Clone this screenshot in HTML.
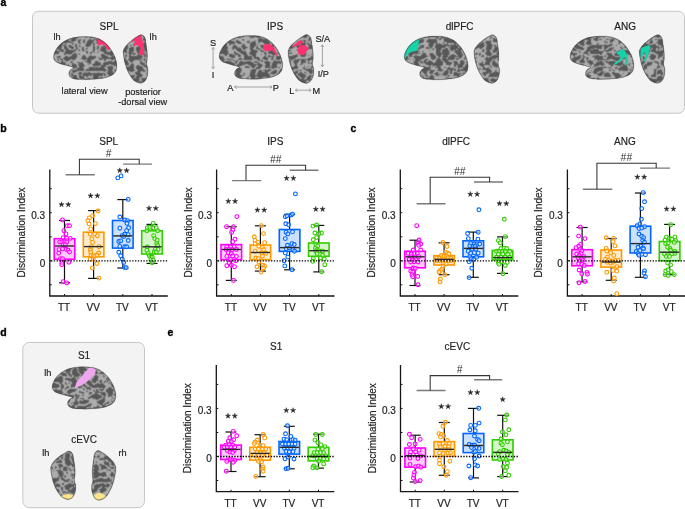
<!DOCTYPE html>
<html><head><meta charset="utf-8"><style>
html,body{margin:0;padding:0;background:#fff;width:685px;height:509px;overflow:hidden;}
svg{display:block;font-family:"Liberation Sans", sans-serif;will-change:transform;}
</style></head><body>
<svg width="685" height="509" viewBox="0 0 685 509">
<defs>
<filter id="tex1" x="0" y="0" width="1" height="1" filterUnits="objectBoundingBox" primitiveUnits="userSpaceOnUse" color-interpolation-filters="sRGB">
<feTurbulence type="turbulence" baseFrequency="0.14 0.18" numOctaves="2" seed="10" result="n"/>
<feColorMatrix in="n" type="matrix" values="1 0 0 0 0 1 0 0 0 0 1 0 0 0 0 0 0 0 0 1" result="g"/>
<feComponentTransfer in="g" result="t"><feFuncR type="discrete" tableValues="0.675 0.675 0.675 0.675 0.675 0.345 0.345 0.345 0.345 0.345 0.345 0.345 0.345 0.345 0.345 0.345 0.345 0.345 0.345 0.345 0.345 0.345"/><feFuncG type="discrete" tableValues="0.675 0.675 0.675 0.675 0.675 0.345 0.345 0.345 0.345 0.345 0.345 0.345 0.345 0.345 0.345 0.345 0.345 0.345 0.345 0.345 0.345 0.345"/><feFuncB type="discrete" tableValues="0.675 0.675 0.675 0.675 0.675 0.345 0.345 0.345 0.345 0.345 0.345 0.345 0.345 0.345 0.345 0.345 0.345 0.345 0.345 0.345 0.345 0.345"/></feComponentTransfer>
<feConvolveMatrix in="t" order="3" kernelMatrix="1 2 1 2 8 2 1 2 1" edgeMode="duplicate"/>
</filter>
<filter id="tex2" x="0" y="0" width="1" height="1" filterUnits="objectBoundingBox" primitiveUnits="userSpaceOnUse" color-interpolation-filters="sRGB">
<feTurbulence type="turbulence" baseFrequency="0.14 0.18" numOctaves="2" seed="17" result="n"/>
<feColorMatrix in="n" type="matrix" values="1 0 0 0 0 1 0 0 0 0 1 0 0 0 0 0 0 0 0 1" result="g"/>
<feComponentTransfer in="g" result="t"><feFuncR type="discrete" tableValues="0.675 0.675 0.675 0.675 0.675 0.345 0.345 0.345 0.345 0.345 0.345 0.345 0.345 0.345 0.345 0.345 0.345 0.345 0.345 0.345 0.345 0.345"/><feFuncG type="discrete" tableValues="0.675 0.675 0.675 0.675 0.675 0.345 0.345 0.345 0.345 0.345 0.345 0.345 0.345 0.345 0.345 0.345 0.345 0.345 0.345 0.345 0.345 0.345"/><feFuncB type="discrete" tableValues="0.675 0.675 0.675 0.675 0.675 0.345 0.345 0.345 0.345 0.345 0.345 0.345 0.345 0.345 0.345 0.345 0.345 0.345 0.345 0.345 0.345 0.345"/></feComponentTransfer>
<feConvolveMatrix in="t" order="3" kernelMatrix="1 2 1 2 8 2 1 2 1" edgeMode="duplicate"/>
</filter>
<filter id="tex3" x="0" y="0" width="1" height="1" filterUnits="objectBoundingBox" primitiveUnits="userSpaceOnUse" color-interpolation-filters="sRGB">
<feTurbulence type="turbulence" baseFrequency="0.14 0.18" numOctaves="2" seed="24" result="n"/>
<feColorMatrix in="n" type="matrix" values="1 0 0 0 0 1 0 0 0 0 1 0 0 0 0 0 0 0 0 1" result="g"/>
<feComponentTransfer in="g" result="t"><feFuncR type="discrete" tableValues="0.675 0.675 0.675 0.675 0.675 0.345 0.345 0.345 0.345 0.345 0.345 0.345 0.345 0.345 0.345 0.345 0.345 0.345 0.345 0.345 0.345 0.345"/><feFuncG type="discrete" tableValues="0.675 0.675 0.675 0.675 0.675 0.345 0.345 0.345 0.345 0.345 0.345 0.345 0.345 0.345 0.345 0.345 0.345 0.345 0.345 0.345 0.345 0.345"/><feFuncB type="discrete" tableValues="0.675 0.675 0.675 0.675 0.675 0.345 0.345 0.345 0.345 0.345 0.345 0.345 0.345 0.345 0.345 0.345 0.345 0.345 0.345 0.345 0.345 0.345"/></feComponentTransfer>
<feConvolveMatrix in="t" order="3" kernelMatrix="1 2 1 2 8 2 1 2 1" edgeMode="duplicate"/>
</filter>
<filter id="tex4" x="0" y="0" width="1" height="1" filterUnits="objectBoundingBox" primitiveUnits="userSpaceOnUse" color-interpolation-filters="sRGB">
<feTurbulence type="turbulence" baseFrequency="0.14 0.18" numOctaves="2" seed="31" result="n"/>
<feColorMatrix in="n" type="matrix" values="1 0 0 0 0 1 0 0 0 0 1 0 0 0 0 0 0 0 0 1" result="g"/>
<feComponentTransfer in="g" result="t"><feFuncR type="discrete" tableValues="0.675 0.675 0.675 0.675 0.675 0.345 0.345 0.345 0.345 0.345 0.345 0.345 0.345 0.345 0.345 0.345 0.345 0.345 0.345 0.345 0.345 0.345"/><feFuncG type="discrete" tableValues="0.675 0.675 0.675 0.675 0.675 0.345 0.345 0.345 0.345 0.345 0.345 0.345 0.345 0.345 0.345 0.345 0.345 0.345 0.345 0.345 0.345 0.345"/><feFuncB type="discrete" tableValues="0.675 0.675 0.675 0.675 0.675 0.345 0.345 0.345 0.345 0.345 0.345 0.345 0.345 0.345 0.345 0.345 0.345 0.345 0.345 0.345 0.345 0.345"/></feComponentTransfer>
<feConvolveMatrix in="t" order="3" kernelMatrix="1 2 1 2 8 2 1 2 1" edgeMode="duplicate"/>
</filter>
<filter id="tex5" x="0" y="0" width="1" height="1" filterUnits="objectBoundingBox" primitiveUnits="userSpaceOnUse" color-interpolation-filters="sRGB">
<feTurbulence type="turbulence" baseFrequency="0.14 0.18" numOctaves="2" seed="38" result="n"/>
<feColorMatrix in="n" type="matrix" values="1 0 0 0 0 1 0 0 0 0 1 0 0 0 0 0 0 0 0 1" result="g"/>
<feComponentTransfer in="g" result="t"><feFuncR type="discrete" tableValues="0.675 0.675 0.675 0.675 0.675 0.345 0.345 0.345 0.345 0.345 0.345 0.345 0.345 0.345 0.345 0.345 0.345 0.345 0.345 0.345 0.345 0.345"/><feFuncG type="discrete" tableValues="0.675 0.675 0.675 0.675 0.675 0.345 0.345 0.345 0.345 0.345 0.345 0.345 0.345 0.345 0.345 0.345 0.345 0.345 0.345 0.345 0.345 0.345"/><feFuncB type="discrete" tableValues="0.675 0.675 0.675 0.675 0.675 0.345 0.345 0.345 0.345 0.345 0.345 0.345 0.345 0.345 0.345 0.345 0.345 0.345 0.345 0.345 0.345 0.345"/></feComponentTransfer>
<feConvolveMatrix in="t" order="3" kernelMatrix="1 2 1 2 8 2 1 2 1" edgeMode="duplicate"/>
</filter>
<filter id="tex6" x="0" y="0" width="1" height="1" filterUnits="objectBoundingBox" primitiveUnits="userSpaceOnUse" color-interpolation-filters="sRGB">
<feTurbulence type="turbulence" baseFrequency="0.14 0.18" numOctaves="2" seed="45" result="n"/>
<feColorMatrix in="n" type="matrix" values="1 0 0 0 0 1 0 0 0 0 1 0 0 0 0 0 0 0 0 1" result="g"/>
<feComponentTransfer in="g" result="t"><feFuncR type="discrete" tableValues="0.675 0.675 0.675 0.675 0.675 0.345 0.345 0.345 0.345 0.345 0.345 0.345 0.345 0.345 0.345 0.345 0.345 0.345 0.345 0.345 0.345 0.345"/><feFuncG type="discrete" tableValues="0.675 0.675 0.675 0.675 0.675 0.345 0.345 0.345 0.345 0.345 0.345 0.345 0.345 0.345 0.345 0.345 0.345 0.345 0.345 0.345 0.345 0.345"/><feFuncB type="discrete" tableValues="0.675 0.675 0.675 0.675 0.675 0.345 0.345 0.345 0.345 0.345 0.345 0.345 0.345 0.345 0.345 0.345 0.345 0.345 0.345 0.345 0.345 0.345"/></feComponentTransfer>
<feConvolveMatrix in="t" order="3" kernelMatrix="1 2 1 2 8 2 1 2 1" edgeMode="duplicate"/>
</filter>
<filter id="tex7" x="0" y="0" width="1" height="1" filterUnits="objectBoundingBox" primitiveUnits="userSpaceOnUse" color-interpolation-filters="sRGB">
<feTurbulence type="turbulence" baseFrequency="0.14 0.18" numOctaves="2" seed="52" result="n"/>
<feColorMatrix in="n" type="matrix" values="1 0 0 0 0 1 0 0 0 0 1 0 0 0 0 0 0 0 0 1" result="g"/>
<feComponentTransfer in="g" result="t"><feFuncR type="discrete" tableValues="0.675 0.675 0.675 0.675 0.675 0.345 0.345 0.345 0.345 0.345 0.345 0.345 0.345 0.345 0.345 0.345 0.345 0.345 0.345 0.345 0.345 0.345"/><feFuncG type="discrete" tableValues="0.675 0.675 0.675 0.675 0.675 0.345 0.345 0.345 0.345 0.345 0.345 0.345 0.345 0.345 0.345 0.345 0.345 0.345 0.345 0.345 0.345 0.345"/><feFuncB type="discrete" tableValues="0.675 0.675 0.675 0.675 0.675 0.345 0.345 0.345 0.345 0.345 0.345 0.345 0.345 0.345 0.345 0.345 0.345 0.345 0.345 0.345 0.345 0.345"/></feComponentTransfer>
<feConvolveMatrix in="t" order="3" kernelMatrix="1 2 1 2 8 2 1 2 1" edgeMode="duplicate"/>
</filter>
<filter id="tex8" x="0" y="0" width="1" height="1" filterUnits="objectBoundingBox" primitiveUnits="userSpaceOnUse" color-interpolation-filters="sRGB">
<feTurbulence type="turbulence" baseFrequency="0.14 0.18" numOctaves="2" seed="59" result="n"/>
<feColorMatrix in="n" type="matrix" values="1 0 0 0 0 1 0 0 0 0 1 0 0 0 0 0 0 0 0 1" result="g"/>
<feComponentTransfer in="g" result="t"><feFuncR type="discrete" tableValues="0.675 0.675 0.675 0.675 0.675 0.345 0.345 0.345 0.345 0.345 0.345 0.345 0.345 0.345 0.345 0.345 0.345 0.345 0.345 0.345 0.345 0.345"/><feFuncG type="discrete" tableValues="0.675 0.675 0.675 0.675 0.675 0.345 0.345 0.345 0.345 0.345 0.345 0.345 0.345 0.345 0.345 0.345 0.345 0.345 0.345 0.345 0.345 0.345"/><feFuncB type="discrete" tableValues="0.675 0.675 0.675 0.675 0.675 0.345 0.345 0.345 0.345 0.345 0.345 0.345 0.345 0.345 0.345 0.345 0.345 0.345 0.345 0.345 0.345 0.345"/></feComponentTransfer>
<feConvolveMatrix in="t" order="3" kernelMatrix="1 2 1 2 8 2 1 2 1" edgeMode="duplicate"/>
</filter>
</defs>
<text x="0.5" y="6.4" font-size="10.5" text-anchor="start" font-weight="bold" fill="#000" stroke="#000" stroke-width="0.35">a</text>
<text x="0.2" y="131.9" font-size="10.5" text-anchor="start" font-weight="bold" fill="#000" stroke="#000" stroke-width="0.35">b</text>
<text x="350.5" y="131.9" font-size="10.5" text-anchor="start" font-weight="bold" fill="#000" stroke="#000" stroke-width="0.35">c</text>
<text x="0.2" y="336.3" font-size="10.5" text-anchor="start" font-weight="bold" fill="#000" stroke="#000" stroke-width="0.35">d</text>
<text x="167.5" y="336.3" font-size="10.5" text-anchor="start" font-weight="bold" fill="#000" stroke="#000" stroke-width="0.35">e</text>
<rect x="32.5" y="11.3" width="652" height="101.9" rx="6" fill="#f3f3f3" stroke="#c6c6c6" stroke-width="1"/>
<text x="109.0" y="29.7" font-size="10" text-anchor="middle" font-weight="normal" fill="#222" stroke="#222" stroke-width="0.18">SPL</text>
<text x="275.0" y="29.7" font-size="10" text-anchor="middle" font-weight="normal" fill="#222" stroke="#222" stroke-width="0.18">IPS</text>
<text x="459.7" y="29.7" font-size="10" text-anchor="middle" font-weight="normal" fill="#222" stroke="#222" stroke-width="0.18">dlPFC</text>
<text x="625.2" y="29.7" font-size="10" text-anchor="middle" font-weight="normal" fill="#222" stroke="#222" stroke-width="0.18">ANG</text>
<text x="57.0" y="40.1" font-size="9.2" text-anchor="middle" font-weight="normal" fill="#222" stroke="#222" stroke-width="0.18">lh</text>
<text x="153.2" y="40.1" font-size="9.2" text-anchor="middle" font-weight="normal" fill="#222" stroke="#222" stroke-width="0.18">lh</text>
<text x="84.6" y="94.0" font-size="9.2" text-anchor="middle" font-weight="normal" fill="#222" stroke="#222" stroke-width="0.18">lateral view</text>
<text x="143.0" y="94.5" font-size="9.2" text-anchor="middle" font-weight="normal" fill="#222" stroke="#222" stroke-width="0.18">posterior</text>
<text x="142.7" y="104.5" font-size="9.2" text-anchor="middle" font-weight="normal" fill="#222" stroke="#222" stroke-width="0.18">-dorsal view</text>
<clipPath id="br1"><path d="M53.48 57.36 C53.40 55.85 53.74 54.00 54.63 52.06 C55.51 50.11 57.04 47.54 58.78 45.66 C60.51 43.78 62.60 42.10 65.04 40.76 C67.48 39.41 70.27 38.31 73.41 37.60 C76.55 36.89 80.58 36.59 83.89 36.51 C87.20 36.43 90.31 36.49 93.28 37.12 C96.26 37.75 99.10 38.68 101.72 40.27 C104.34 41.86 106.91 44.18 109.00 46.67 C111.10 49.16 113.01 52.36 114.31 55.21 C115.61 58.06 116.47 61.26 116.80 63.75 C117.13 66.24 116.91 68.37 116.29 70.15 C115.67 71.92 114.82 73.14 113.09 74.39 C111.37 75.65 109.06 76.86 105.94 77.68 C102.82 78.50 98.23 78.98 94.37 79.30 C90.52 79.62 86.30 79.71 82.81 79.61 C79.31 79.50 75.65 79.28 73.41 78.69 C71.18 78.09 70.12 77.12 69.39 76.06 C68.65 74.99 68.73 73.42 69.00 72.29 C69.28 71.16 70.30 70.01 71.05 69.27 C71.79 68.52 74.13 68.39 73.48 67.82 C72.83 67.25 69.43 66.53 67.15 65.85 C64.87 65.17 61.81 64.55 59.80 63.75 C57.79 62.95 56.13 62.14 55.07 61.08 C54.02 60.01 53.55 58.86 53.48 57.36Z"/></clipPath>
<g clip-path="url(#br1)">
<rect x="50.9" y="34.2" width="67.9" height="47.8" filter="url(#tex1)"/>
<path d="M97.3 36 L97.7 42.1 L98 45.8 L99.5 45.2 L102.1 44.3 L104.6 45.2 L106.2 48 L107.7 49.9 L109.5 49.5 L113 46 L106 35 Z" fill="#fd3371"/>
<path d="M53.48 57.36 C53.40 55.85 53.74 54.00 54.63 52.06 C55.51 50.11 57.04 47.54 58.78 45.66 C60.51 43.78 62.60 42.10 65.04 40.76 C67.48 39.41 70.27 38.31 73.41 37.60 C76.55 36.89 80.58 36.59 83.89 36.51 C87.20 36.43 90.31 36.49 93.28 37.12 C96.26 37.75 99.10 38.68 101.72 40.27 C104.34 41.86 106.91 44.18 109.00 46.67 C111.10 49.16 113.01 52.36 114.31 55.21 C115.61 58.06 116.47 61.26 116.80 63.75 C117.13 66.24 116.91 68.37 116.29 70.15 C115.67 71.92 114.82 73.14 113.09 74.39 C111.37 75.65 109.06 76.86 105.94 77.68 C102.82 78.50 98.23 78.98 94.37 79.30 C90.52 79.62 86.30 79.71 82.81 79.61 C79.31 79.50 75.65 79.28 73.41 78.69 C71.18 78.09 70.12 77.12 69.39 76.06 C68.65 74.99 68.73 73.42 69.00 72.29 C69.28 71.16 70.30 70.01 71.05 69.27 C71.79 68.52 74.13 68.39 73.48 67.82 C72.83 67.25 69.43 66.53 67.15 65.85 C64.87 65.17 61.81 64.55 59.80 63.75 C57.79 62.95 56.13 62.14 55.07 61.08 C54.02 60.01 53.55 58.86 53.48 57.36Z" fill="none" stroke="#444" stroke-width="1.6" stroke-opacity="0.55"/>
</g>
<path d="M53.48 57.36 C53.40 55.85 53.74 54.00 54.63 52.06 C55.51 50.11 57.04 47.54 58.78 45.66 C60.51 43.78 62.60 42.10 65.04 40.76 C67.48 39.41 70.27 38.31 73.41 37.60 C76.55 36.89 80.58 36.59 83.89 36.51 C87.20 36.43 90.31 36.49 93.28 37.12 C96.26 37.75 99.10 38.68 101.72 40.27 C104.34 41.86 106.91 44.18 109.00 46.67 C111.10 49.16 113.01 52.36 114.31 55.21 C115.61 58.06 116.47 61.26 116.80 63.75 C117.13 66.24 116.91 68.37 116.29 70.15 C115.67 71.92 114.82 73.14 113.09 74.39 C111.37 75.65 109.06 76.86 105.94 77.68 C102.82 78.50 98.23 78.98 94.37 79.30 C90.52 79.62 86.30 79.71 82.81 79.61 C79.31 79.50 75.65 79.28 73.41 78.69 C71.18 78.09 70.12 77.12 69.39 76.06 C68.65 74.99 68.73 73.42 69.00 72.29 C69.28 71.16 70.30 70.01 71.05 69.27 C71.79 68.52 74.13 68.39 73.48 67.82 C72.83 67.25 69.43 66.53 67.15 65.85 C64.87 65.17 61.81 64.55 59.80 63.75 C57.79 62.95 56.13 62.14 55.07 61.08 C54.02 60.01 53.55 58.86 53.48 57.36Z" fill="none" stroke="#666" stroke-width="0.5" stroke-opacity="0.5"/>
<clipPath id="br2"><path d="M141.69 34.80 C142.83 35.11 144.29 36.07 145.05 37.69 C145.80 39.31 145.86 42.05 146.24 44.52 C146.62 46.99 147.13 50.04 147.31 52.52 C147.49 55.00 147.41 57.50 147.31 59.40 C147.21 61.29 146.59 62.19 146.72 63.91 C146.85 65.63 148.00 67.61 148.10 69.71 C148.19 71.80 147.82 74.60 147.31 76.48 C146.80 78.36 146.08 79.86 145.05 81.00 C144.01 82.14 142.50 83.11 141.11 83.31 C139.72 83.50 138.00 82.74 136.69 82.18 C135.38 81.61 134.37 81.06 133.24 79.92 C132.10 78.77 131.00 77.21 129.88 75.30 C128.77 73.40 127.49 70.95 126.56 68.48 C125.62 66.01 124.83 63.09 124.27 60.48 C123.71 57.86 123.29 54.62 123.20 52.77 C123.12 50.91 123.16 50.68 123.76 49.33 C124.36 47.98 125.29 46.34 126.81 44.67 C128.33 42.99 131.00 40.74 132.91 39.26 C134.81 37.79 136.78 36.57 138.24 35.83 C139.70 35.08 140.56 34.49 141.69 34.80Z"/></clipPath>
<g clip-path="url(#br2)">
<rect x="121.0" y="32.6" width="29.4" height="53.1" filter="url(#tex2)"/>
<path d="M131.3 41.9 L134.5 38.2 L137.3 36 L139.5 34 L141 34 L142.6 41.3 L143.9 43.2 L143.3 45.1 L143.9 48.9 L144.2 53.3 L141.7 55.8 L139.5 53.9 L138.9 51.4 L140.8 48.9 L138.9 45.7 L135.7 45.1 L133.5 46.7 L132.9 44.2 L135.7 42.6 L134.8 40.7 L131.9 42.3 Z" fill="#fd3371"/>
<path d="M141.69 34.80 C142.83 35.11 144.29 36.07 145.05 37.69 C145.80 39.31 145.86 42.05 146.24 44.52 C146.62 46.99 147.13 50.04 147.31 52.52 C147.49 55.00 147.41 57.50 147.31 59.40 C147.21 61.29 146.59 62.19 146.72 63.91 C146.85 65.63 148.00 67.61 148.10 69.71 C148.19 71.80 147.82 74.60 147.31 76.48 C146.80 78.36 146.08 79.86 145.05 81.00 C144.01 82.14 142.50 83.11 141.11 83.31 C139.72 83.50 138.00 82.74 136.69 82.18 C135.38 81.61 134.37 81.06 133.24 79.92 C132.10 78.77 131.00 77.21 129.88 75.30 C128.77 73.40 127.49 70.95 126.56 68.48 C125.62 66.01 124.83 63.09 124.27 60.48 C123.71 57.86 123.29 54.62 123.20 52.77 C123.12 50.91 123.16 50.68 123.76 49.33 C124.36 47.98 125.29 46.34 126.81 44.67 C128.33 42.99 131.00 40.74 132.91 39.26 C134.81 37.79 136.78 36.57 138.24 35.83 C139.70 35.08 140.56 34.49 141.69 34.80Z" fill="none" stroke="#444" stroke-width="1.6" stroke-opacity="0.55"/>
</g>
<path d="M141.69 34.80 C142.83 35.11 144.29 36.07 145.05 37.69 C145.80 39.31 145.86 42.05 146.24 44.52 C146.62 46.99 147.13 50.04 147.31 52.52 C147.49 55.00 147.41 57.50 147.31 59.40 C147.21 61.29 146.59 62.19 146.72 63.91 C146.85 65.63 148.00 67.61 148.10 69.71 C148.19 71.80 147.82 74.60 147.31 76.48 C146.80 78.36 146.08 79.86 145.05 81.00 C144.01 82.14 142.50 83.11 141.11 83.31 C139.72 83.50 138.00 82.74 136.69 82.18 C135.38 81.61 134.37 81.06 133.24 79.92 C132.10 78.77 131.00 77.21 129.88 75.30 C128.77 73.40 127.49 70.95 126.56 68.48 C125.62 66.01 124.83 63.09 124.27 60.48 C123.71 57.86 123.29 54.62 123.20 52.77 C123.12 50.91 123.16 50.68 123.76 49.33 C124.36 47.98 125.29 46.34 126.81 44.67 C128.33 42.99 131.00 40.74 132.91 39.26 C134.81 37.79 136.78 36.57 138.24 35.83 C139.70 35.08 140.56 34.49 141.69 34.80Z" fill="none" stroke="#666" stroke-width="0.5" stroke-opacity="0.5"/>
<clipPath id="br3"><path d="M219.18 56.59 C219.10 55.07 219.44 53.19 220.33 51.21 C221.21 49.23 222.75 46.63 224.49 44.71 C226.23 42.80 228.32 41.09 230.76 39.73 C233.20 38.36 236.00 37.24 239.14 36.52 C242.29 35.80 246.32 35.49 249.64 35.41 C252.96 35.33 256.07 35.40 259.05 36.03 C262.02 36.67 264.87 37.62 267.50 39.24 C270.12 40.86 272.69 43.21 274.79 45.74 C276.89 48.26 278.80 51.52 280.10 54.41 C281.41 57.31 282.27 60.56 282.60 63.09 C282.93 65.62 282.71 67.79 282.09 69.59 C281.47 71.39 280.62 72.63 278.89 73.90 C277.16 75.18 274.85 76.41 271.72 77.24 C268.59 78.07 264.00 78.56 260.14 78.89 C256.27 79.21 252.05 79.30 248.55 79.20 C245.05 79.10 241.38 78.87 239.14 78.26 C236.90 77.66 235.85 76.68 235.11 75.59 C234.38 74.51 234.45 72.92 234.73 71.77 C235.01 70.62 236.03 69.45 236.78 68.70 C237.52 67.94 239.86 67.81 239.21 67.23 C238.56 66.65 235.15 65.92 232.87 65.23 C230.59 64.54 227.53 63.90 225.51 63.09 C223.50 62.28 221.83 61.46 220.78 60.38 C219.72 59.29 219.25 58.12 219.18 56.59Z"/></clipPath>
<g clip-path="url(#br3)">
<rect x="216.6" y="33.1" width="68.0" height="48.5" filter="url(#tex3)"/>
<path d="M262.9 47.1 L264.8 44.2 L269.5 43.7 L272.4 46.1 L274.3 48 L276.2 51.8 L277.8 56.5 L275.6 54.7 L273.3 50.9 L270.5 50.5 L266.7 51.3 L263.8 50.5 Z" fill="#fd3371"/>
<path d="M219.18 56.59 C219.10 55.07 219.44 53.19 220.33 51.21 C221.21 49.23 222.75 46.63 224.49 44.71 C226.23 42.80 228.32 41.09 230.76 39.73 C233.20 38.36 236.00 37.24 239.14 36.52 C242.29 35.80 246.32 35.49 249.64 35.41 C252.96 35.33 256.07 35.40 259.05 36.03 C262.02 36.67 264.87 37.62 267.50 39.24 C270.12 40.86 272.69 43.21 274.79 45.74 C276.89 48.26 278.80 51.52 280.10 54.41 C281.41 57.31 282.27 60.56 282.60 63.09 C282.93 65.62 282.71 67.79 282.09 69.59 C281.47 71.39 280.62 72.63 278.89 73.90 C277.16 75.18 274.85 76.41 271.72 77.24 C268.59 78.07 264.00 78.56 260.14 78.89 C256.27 79.21 252.05 79.30 248.55 79.20 C245.05 79.10 241.38 78.87 239.14 78.26 C236.90 77.66 235.85 76.68 235.11 75.59 C234.38 74.51 234.45 72.92 234.73 71.77 C235.01 70.62 236.03 69.45 236.78 68.70 C237.52 67.94 239.86 67.81 239.21 67.23 C238.56 66.65 235.15 65.92 232.87 65.23 C230.59 64.54 227.53 63.90 225.51 63.09 C223.50 62.28 221.83 61.46 220.78 60.38 C219.72 59.29 219.25 58.12 219.18 56.59Z" fill="none" stroke="#444" stroke-width="1.6" stroke-opacity="0.55"/>
</g>
<path d="M219.18 56.59 C219.10 55.07 219.44 53.19 220.33 51.21 C221.21 49.23 222.75 46.63 224.49 44.71 C226.23 42.80 228.32 41.09 230.76 39.73 C233.20 38.36 236.00 37.24 239.14 36.52 C242.29 35.80 246.32 35.49 249.64 35.41 C252.96 35.33 256.07 35.40 259.05 36.03 C262.02 36.67 264.87 37.62 267.50 39.24 C270.12 40.86 272.69 43.21 274.79 45.74 C276.89 48.26 278.80 51.52 280.10 54.41 C281.41 57.31 282.27 60.56 282.60 63.09 C282.93 65.62 282.71 67.79 282.09 69.59 C281.47 71.39 280.62 72.63 278.89 73.90 C277.16 75.18 274.85 76.41 271.72 77.24 C268.59 78.07 264.00 78.56 260.14 78.89 C256.27 79.21 252.05 79.30 248.55 79.20 C245.05 79.10 241.38 78.87 239.14 78.26 C236.90 77.66 235.85 76.68 235.11 75.59 C234.38 74.51 234.45 72.92 234.73 71.77 C235.01 70.62 236.03 69.45 236.78 68.70 C237.52 67.94 239.86 67.81 239.21 67.23 C238.56 66.65 235.15 65.92 232.87 65.23 C230.59 64.54 227.53 63.90 225.51 63.09 C223.50 62.28 221.83 61.46 220.78 60.38 C219.72 59.29 219.25 58.12 219.18 56.59Z" fill="none" stroke="#666" stroke-width="0.5" stroke-opacity="0.5"/>
<clipPath id="br4"><path d="M307.30 34.70 C308.49 35.01 310.01 35.98 310.80 37.61 C311.59 39.23 311.65 41.98 312.05 44.46 C312.44 46.94 312.98 50.00 313.16 52.49 C313.35 54.98 313.26 57.49 313.16 59.40 C313.06 61.30 312.41 62.21 312.55 63.93 C312.69 65.66 313.88 67.65 313.98 69.75 C314.08 71.85 313.69 74.66 313.16 76.55 C312.63 78.44 311.88 79.95 310.80 81.09 C309.72 82.23 308.15 83.21 306.69 83.41 C305.24 83.60 303.45 82.84 302.08 82.27 C300.71 81.70 299.66 81.15 298.48 80.00 C297.30 78.85 296.14 77.28 294.98 75.37 C293.82 73.46 292.49 71.00 291.51 68.52 C290.53 66.04 289.71 63.11 289.12 60.48 C288.54 57.85 288.10 54.61 288.01 52.74 C287.92 50.88 287.97 50.65 288.60 49.29 C289.22 47.93 290.19 46.29 291.78 44.61 C293.37 42.92 296.15 40.66 298.13 39.18 C300.12 37.70 302.17 36.48 303.70 35.73 C305.23 34.98 306.12 34.38 307.30 34.70Z"/></clipPath>
<g clip-path="url(#br4)">
<rect x="285.8" y="32.5" width="30.5" height="53.3" filter="url(#tex4)"/>
<path d="M291.6 46.5 L295.7 43.4 L299.8 40.2 L302 40.9 L303.6 42.7 L300.7 44 L298.5 45.6 L294.4 46.5 Z M298.2 47.5 L300.7 45 L305.1 45.3 L307.6 47.5 L308.6 49.7 L305.8 51.9 L304.5 55 L300.7 54.7 L298.2 54.4 L297.9 50.6 Z" fill="#fd3371"/>
<path d="M307.30 34.70 C308.49 35.01 310.01 35.98 310.80 37.61 C311.59 39.23 311.65 41.98 312.05 44.46 C312.44 46.94 312.98 50.00 313.16 52.49 C313.35 54.98 313.26 57.49 313.16 59.40 C313.06 61.30 312.41 62.21 312.55 63.93 C312.69 65.66 313.88 67.65 313.98 69.75 C314.08 71.85 313.69 74.66 313.16 76.55 C312.63 78.44 311.88 79.95 310.80 81.09 C309.72 82.23 308.15 83.21 306.69 83.41 C305.24 83.60 303.45 82.84 302.08 82.27 C300.71 81.70 299.66 81.15 298.48 80.00 C297.30 78.85 296.14 77.28 294.98 75.37 C293.82 73.46 292.49 71.00 291.51 68.52 C290.53 66.04 289.71 63.11 289.12 60.48 C288.54 57.85 288.10 54.61 288.01 52.74 C287.92 50.88 287.97 50.65 288.60 49.29 C289.22 47.93 290.19 46.29 291.78 44.61 C293.37 42.92 296.15 40.66 298.13 39.18 C300.12 37.70 302.17 36.48 303.70 35.73 C305.23 34.98 306.12 34.38 307.30 34.70Z" fill="none" stroke="#444" stroke-width="1.6" stroke-opacity="0.55"/>
</g>
<path d="M307.30 34.70 C308.49 35.01 310.01 35.98 310.80 37.61 C311.59 39.23 311.65 41.98 312.05 44.46 C312.44 46.94 312.98 50.00 313.16 52.49 C313.35 54.98 313.26 57.49 313.16 59.40 C313.06 61.30 312.41 62.21 312.55 63.93 C312.69 65.66 313.88 67.65 313.98 69.75 C314.08 71.85 313.69 74.66 313.16 76.55 C312.63 78.44 311.88 79.95 310.80 81.09 C309.72 82.23 308.15 83.21 306.69 83.41 C305.24 83.60 303.45 82.84 302.08 82.27 C300.71 81.70 299.66 81.15 298.48 80.00 C297.30 78.85 296.14 77.28 294.98 75.37 C293.82 73.46 292.49 71.00 291.51 68.52 C290.53 66.04 289.71 63.11 289.12 60.48 C288.54 57.85 288.10 54.61 288.01 52.74 C287.92 50.88 287.97 50.65 288.60 49.29 C289.22 47.93 290.19 46.29 291.78 44.61 C293.37 42.92 296.15 40.66 298.13 39.18 C300.12 37.70 302.17 36.48 303.70 35.73 C305.23 34.98 306.12 34.38 307.30 34.70Z" fill="none" stroke="#666" stroke-width="0.5" stroke-opacity="0.5"/>
<clipPath id="br5"><path d="M404.28 57.19 C404.20 55.67 404.55 53.79 405.44 51.81 C406.33 49.83 407.87 47.23 409.62 45.31 C411.36 43.40 413.46 41.69 415.92 40.33 C418.37 38.96 421.18 37.84 424.34 37.12 C427.50 36.40 431.55 36.09 434.89 36.01 C438.22 35.93 441.35 36.00 444.34 36.63 C447.33 37.27 450.19 38.22 452.83 39.84 C455.46 41.46 458.04 43.81 460.16 46.34 C462.27 48.86 464.18 52.12 465.49 55.01 C466.80 57.91 467.67 61.16 468.00 63.69 C468.33 66.22 468.11 68.39 467.49 70.19 C466.86 71.99 466.01 73.23 464.27 74.50 C462.53 75.78 460.21 77.01 457.07 77.84 C453.93 78.67 449.31 79.16 445.43 79.49 C441.55 79.81 437.31 79.90 433.79 79.80 C430.28 79.70 426.59 79.47 424.34 78.87 C422.09 78.26 421.03 77.28 420.29 76.20 C419.55 75.11 419.62 73.52 419.90 72.37 C420.18 71.22 421.21 70.05 421.96 69.30 C422.71 68.54 425.06 68.41 424.40 67.83 C423.75 67.25 420.33 66.52 418.04 65.83 C415.75 65.14 412.67 64.50 410.64 63.69 C408.62 62.88 406.95 62.06 405.89 60.98 C404.83 59.89 404.35 58.72 404.28 57.19Z"/></clipPath>
<g clip-path="url(#br5)">
<rect x="401.7" y="33.7" width="68.3" height="48.5" filter="url(#tex5)"/>
<path d="M419.5 34 L418.9 40.9 L418.6 44.7 L417.9 49.7 L416 51 L412.6 51.6 L409.4 52.9 L407.5 54.8 L405.7 57.3 L404.7 60.4 L400 61 L400 34 Z" fill="#17d2a9"/>
<path d="M404.28 57.19 C404.20 55.67 404.55 53.79 405.44 51.81 C406.33 49.83 407.87 47.23 409.62 45.31 C411.36 43.40 413.46 41.69 415.92 40.33 C418.37 38.96 421.18 37.84 424.34 37.12 C427.50 36.40 431.55 36.09 434.89 36.01 C438.22 35.93 441.35 36.00 444.34 36.63 C447.33 37.27 450.19 38.22 452.83 39.84 C455.46 41.46 458.04 43.81 460.16 46.34 C462.27 48.86 464.18 52.12 465.49 55.01 C466.80 57.91 467.67 61.16 468.00 63.69 C468.33 66.22 468.11 68.39 467.49 70.19 C466.86 71.99 466.01 73.23 464.27 74.50 C462.53 75.78 460.21 77.01 457.07 77.84 C453.93 78.67 449.31 79.16 445.43 79.49 C441.55 79.81 437.31 79.90 433.79 79.80 C430.28 79.70 426.59 79.47 424.34 78.87 C422.09 78.26 421.03 77.28 420.29 76.20 C419.55 75.11 419.62 73.52 419.90 72.37 C420.18 71.22 421.21 70.05 421.96 69.30 C422.71 68.54 425.06 68.41 424.40 67.83 C423.75 67.25 420.33 66.52 418.04 65.83 C415.75 65.14 412.67 64.50 410.64 63.69 C408.62 62.88 406.95 62.06 405.89 60.98 C404.83 59.89 404.35 58.72 404.28 57.19Z" fill="none" stroke="#444" stroke-width="1.6" stroke-opacity="0.55"/>
</g>
<path d="M404.28 57.19 C404.20 55.67 404.55 53.79 405.44 51.81 C406.33 49.83 407.87 47.23 409.62 45.31 C411.36 43.40 413.46 41.69 415.92 40.33 C418.37 38.96 421.18 37.84 424.34 37.12 C427.50 36.40 431.55 36.09 434.89 36.01 C438.22 35.93 441.35 36.00 444.34 36.63 C447.33 37.27 450.19 38.22 452.83 39.84 C455.46 41.46 458.04 43.81 460.16 46.34 C462.27 48.86 464.18 52.12 465.49 55.01 C466.80 57.91 467.67 61.16 468.00 63.69 C468.33 66.22 468.11 68.39 467.49 70.19 C466.86 71.99 466.01 73.23 464.27 74.50 C462.53 75.78 460.21 77.01 457.07 77.84 C453.93 78.67 449.31 79.16 445.43 79.49 C441.55 79.81 437.31 79.90 433.79 79.80 C430.28 79.70 426.59 79.47 424.34 78.87 C422.09 78.26 421.03 77.28 420.29 76.20 C419.55 75.11 419.62 73.52 419.90 72.37 C420.18 71.22 421.21 70.05 421.96 69.30 C422.71 68.54 425.06 68.41 424.40 67.83 C423.75 67.25 420.33 66.52 418.04 65.83 C415.75 65.14 412.67 64.50 410.64 63.69 C408.62 62.88 406.95 62.06 405.89 60.98 C404.83 59.89 404.35 58.72 404.28 57.19Z" fill="none" stroke="#666" stroke-width="0.5" stroke-opacity="0.5"/>
<clipPath id="br6"><path d="M493.06 34.80 C494.23 35.11 495.74 36.07 496.53 37.69 C497.31 39.31 497.37 42.05 497.76 44.52 C498.15 46.99 498.69 50.04 498.87 52.52 C499.05 55.00 498.97 57.50 498.87 59.40 C498.77 61.29 498.13 62.19 498.26 63.91 C498.40 65.63 499.58 67.61 499.68 69.71 C499.79 71.80 499.40 74.60 498.87 76.48 C498.34 78.36 497.60 79.86 496.53 81.00 C495.46 82.14 493.89 83.11 492.45 83.31 C491.01 83.50 489.23 82.74 487.88 82.18 C486.52 81.61 485.47 81.06 484.30 79.92 C483.12 78.77 481.98 77.21 480.83 75.30 C479.67 73.40 478.35 70.95 477.38 68.48 C476.41 66.01 475.59 63.09 475.01 60.48 C474.44 57.86 474.00 54.62 473.91 52.77 C473.82 50.91 473.87 50.68 474.49 49.33 C475.11 47.98 476.07 46.34 477.64 44.67 C479.22 42.99 481.98 40.74 483.96 39.26 C485.93 37.79 487.96 36.57 489.48 35.83 C491.00 35.08 491.88 34.49 493.06 34.80Z"/></clipPath>
<g clip-path="url(#br6)">
<rect x="471.7" y="32.6" width="30.3" height="53.1" filter="url(#tex6)"/>
<path d="M493.06 34.80 C494.23 35.11 495.74 36.07 496.53 37.69 C497.31 39.31 497.37 42.05 497.76 44.52 C498.15 46.99 498.69 50.04 498.87 52.52 C499.05 55.00 498.97 57.50 498.87 59.40 C498.77 61.29 498.13 62.19 498.26 63.91 C498.40 65.63 499.58 67.61 499.68 69.71 C499.79 71.80 499.40 74.60 498.87 76.48 C498.34 78.36 497.60 79.86 496.53 81.00 C495.46 82.14 493.89 83.11 492.45 83.31 C491.01 83.50 489.23 82.74 487.88 82.18 C486.52 81.61 485.47 81.06 484.30 79.92 C483.12 78.77 481.98 77.21 480.83 75.30 C479.67 73.40 478.35 70.95 477.38 68.48 C476.41 66.01 475.59 63.09 475.01 60.48 C474.44 57.86 474.00 54.62 473.91 52.77 C473.82 50.91 473.87 50.68 474.49 49.33 C475.11 47.98 476.07 46.34 477.64 44.67 C479.22 42.99 481.98 40.74 483.96 39.26 C485.93 37.79 487.96 36.57 489.48 35.83 C491.00 35.08 491.88 34.49 493.06 34.80Z" fill="none" stroke="#444" stroke-width="1.6" stroke-opacity="0.55"/>
</g>
<path d="M493.06 34.80 C494.23 35.11 495.74 36.07 496.53 37.69 C497.31 39.31 497.37 42.05 497.76 44.52 C498.15 46.99 498.69 50.04 498.87 52.52 C499.05 55.00 498.97 57.50 498.87 59.40 C498.77 61.29 498.13 62.19 498.26 63.91 C498.40 65.63 499.58 67.61 499.68 69.71 C499.79 71.80 499.40 74.60 498.87 76.48 C498.34 78.36 497.60 79.86 496.53 81.00 C495.46 82.14 493.89 83.11 492.45 83.31 C491.01 83.50 489.23 82.74 487.88 82.18 C486.52 81.61 485.47 81.06 484.30 79.92 C483.12 78.77 481.98 77.21 480.83 75.30 C479.67 73.40 478.35 70.95 477.38 68.48 C476.41 66.01 475.59 63.09 475.01 60.48 C474.44 57.86 474.00 54.62 473.91 52.77 C473.82 50.91 473.87 50.68 474.49 49.33 C475.11 47.98 476.07 46.34 477.64 44.67 C479.22 42.99 481.98 40.74 483.96 39.26 C485.93 37.79 487.96 36.57 489.48 35.83 C491.00 35.08 491.88 34.49 493.06 34.80Z" fill="none" stroke="#666" stroke-width="0.5" stroke-opacity="0.5"/>
<clipPath id="br7"><path d="M569.98 57.00 C569.90 55.49 570.25 53.63 571.14 51.66 C572.03 49.70 573.58 47.12 575.32 45.23 C577.07 43.33 579.18 41.64 581.64 40.29 C584.09 38.93 586.91 37.82 590.07 37.11 C593.24 36.40 597.30 36.09 600.63 36.01 C603.97 35.93 607.11 35.99 610.10 36.63 C613.10 37.26 615.96 38.20 618.60 39.80 C621.24 41.40 623.83 43.73 625.94 46.24 C628.06 48.75 629.98 51.97 631.29 54.84 C632.60 57.71 633.47 60.93 633.80 63.44 C634.13 65.95 633.91 68.09 633.28 69.88 C632.66 71.66 631.80 72.89 630.06 74.16 C628.33 75.42 626.00 76.64 622.85 77.46 C619.71 78.29 615.08 78.77 611.20 79.09 C607.31 79.42 603.06 79.51 599.54 79.40 C596.02 79.30 592.33 79.07 590.07 78.48 C587.82 77.88 586.76 76.90 586.02 75.83 C585.27 74.76 585.35 73.18 585.63 72.04 C585.91 70.90 586.94 69.75 587.69 69.00 C588.44 68.25 590.79 68.11 590.14 67.54 C589.48 66.97 586.06 66.24 583.76 65.56 C581.46 64.87 578.38 64.24 576.36 63.44 C574.33 62.64 572.65 61.82 571.59 60.75 C570.53 59.68 570.05 58.51 569.98 57.00Z"/></clipPath>
<g clip-path="url(#br7)">
<rect x="567.4" y="33.7" width="68.4" height="48.1" filter="url(#tex7)"/>
<path d="M616.2 52.5 L618.7 51.2 L620.9 50 L622.5 49.2 L624.2 50 L626.4 53.4 L627.7 56.7 L628.3 60.5 L627.7 63.3 L625 65.7 L624.4 64.6 L626.4 61.6 L625.8 58.9 L624.7 57.2 L623.1 58.3 L620.9 61.1 L617.6 63.3 L613.7 65.2 L612.9 64.4 L615.9 62.2 L618.7 60 L620.6 57.2 L619.8 55.6 L617.6 54.2 Z" fill="#17d2a9"/>
<path d="M569.98 57.00 C569.90 55.49 570.25 53.63 571.14 51.66 C572.03 49.70 573.58 47.12 575.32 45.23 C577.07 43.33 579.18 41.64 581.64 40.29 C584.09 38.93 586.91 37.82 590.07 37.11 C593.24 36.40 597.30 36.09 600.63 36.01 C603.97 35.93 607.11 35.99 610.10 36.63 C613.10 37.26 615.96 38.20 618.60 39.80 C621.24 41.40 623.83 43.73 625.94 46.24 C628.06 48.75 629.98 51.97 631.29 54.84 C632.60 57.71 633.47 60.93 633.80 63.44 C634.13 65.95 633.91 68.09 633.28 69.88 C632.66 71.66 631.80 72.89 630.06 74.16 C628.33 75.42 626.00 76.64 622.85 77.46 C619.71 78.29 615.08 78.77 611.20 79.09 C607.31 79.42 603.06 79.51 599.54 79.40 C596.02 79.30 592.33 79.07 590.07 78.48 C587.82 77.88 586.76 76.90 586.02 75.83 C585.27 74.76 585.35 73.18 585.63 72.04 C585.91 70.90 586.94 69.75 587.69 69.00 C588.44 68.25 590.79 68.11 590.14 67.54 C589.48 66.97 586.06 66.24 583.76 65.56 C581.46 64.87 578.38 64.24 576.36 63.44 C574.33 62.64 572.65 61.82 571.59 60.75 C570.53 59.68 570.05 58.51 569.98 57.00Z" fill="none" stroke="#444" stroke-width="1.6" stroke-opacity="0.55"/>
</g>
<path d="M569.98 57.00 C569.90 55.49 570.25 53.63 571.14 51.66 C572.03 49.70 573.58 47.12 575.32 45.23 C577.07 43.33 579.18 41.64 581.64 40.29 C584.09 38.93 586.91 37.82 590.07 37.11 C593.24 36.40 597.30 36.09 600.63 36.01 C603.97 35.93 607.11 35.99 610.10 36.63 C613.10 37.26 615.96 38.20 618.60 39.80 C621.24 41.40 623.83 43.73 625.94 46.24 C628.06 48.75 629.98 51.97 631.29 54.84 C632.60 57.71 633.47 60.93 633.80 63.44 C634.13 65.95 633.91 68.09 633.28 69.88 C632.66 71.66 631.80 72.89 630.06 74.16 C628.33 75.42 626.00 76.64 622.85 77.46 C619.71 78.29 615.08 78.77 611.20 79.09 C607.31 79.42 603.06 79.51 599.54 79.40 C596.02 79.30 592.33 79.07 590.07 78.48 C587.82 77.88 586.76 76.90 586.02 75.83 C585.27 74.76 585.35 73.18 585.63 72.04 C585.91 70.90 586.94 69.75 587.69 69.00 C588.44 68.25 590.79 68.11 590.14 67.54 C589.48 66.97 586.06 66.24 583.76 65.56 C581.46 64.87 578.38 64.24 576.36 63.44 C574.33 62.64 572.65 61.82 571.59 60.75 C570.53 59.68 570.05 58.51 569.98 57.00Z" fill="none" stroke="#666" stroke-width="0.5" stroke-opacity="0.5"/>
<clipPath id="br8"><path d="M658.46 34.80 C659.63 35.11 661.14 36.07 661.93 37.69 C662.71 39.31 662.77 42.05 663.16 44.52 C663.55 46.99 664.09 50.04 664.27 52.52 C664.45 55.00 664.37 57.50 664.27 59.40 C664.17 61.29 663.53 62.19 663.66 63.91 C663.80 65.63 664.98 67.61 665.08 69.71 C665.19 71.80 664.80 74.60 664.27 76.48 C663.74 78.36 663.00 79.86 661.93 81.00 C660.86 82.14 659.29 83.11 657.85 83.31 C656.41 83.50 654.63 82.74 653.28 82.18 C651.92 81.61 650.87 81.06 649.70 79.92 C648.52 78.77 647.38 77.21 646.23 75.30 C645.07 73.40 643.75 70.95 642.78 68.48 C641.81 66.01 640.99 63.09 640.41 60.48 C639.84 57.86 639.40 54.62 639.31 52.77 C639.22 50.91 639.27 50.68 639.89 49.33 C640.51 47.98 641.47 46.34 643.05 44.67 C644.62 42.99 647.38 40.74 649.36 39.26 C651.33 37.79 653.36 36.57 654.88 35.83 C656.40 35.08 657.28 34.49 658.46 34.80Z"/></clipPath>
<g clip-path="url(#br8)">
<rect x="637.1" y="32.6" width="30.3" height="53.1" filter="url(#tex8)"/>
<path d="M641.2 47.9 L644 46.7 L646.8 46 L648.7 45.1 L650.6 46.7 L650.2 48.1 L649.2 49.8 L648.7 53.6 L647.8 56.9 L646.4 59.7 L644.5 61.8 L644 60.2 L645 57.8 L645.4 54.5 L644.7 52.6 L643.5 53.1 L642.6 55.9 L641.2 58.8 L640.2 57.8 L640.5 52.2 L640.7 49.3 Z" fill="#17d2a9"/>
<path d="M658.46 34.80 C659.63 35.11 661.14 36.07 661.93 37.69 C662.71 39.31 662.77 42.05 663.16 44.52 C663.55 46.99 664.09 50.04 664.27 52.52 C664.45 55.00 664.37 57.50 664.27 59.40 C664.17 61.29 663.53 62.19 663.66 63.91 C663.80 65.63 664.98 67.61 665.08 69.71 C665.19 71.80 664.80 74.60 664.27 76.48 C663.74 78.36 663.00 79.86 661.93 81.00 C660.86 82.14 659.29 83.11 657.85 83.31 C656.41 83.50 654.63 82.74 653.28 82.18 C651.92 81.61 650.87 81.06 649.70 79.92 C648.52 78.77 647.38 77.21 646.23 75.30 C645.07 73.40 643.75 70.95 642.78 68.48 C641.81 66.01 640.99 63.09 640.41 60.48 C639.84 57.86 639.40 54.62 639.31 52.77 C639.22 50.91 639.27 50.68 639.89 49.33 C640.51 47.98 641.47 46.34 643.05 44.67 C644.62 42.99 647.38 40.74 649.36 39.26 C651.33 37.79 653.36 36.57 654.88 35.83 C656.40 35.08 657.28 34.49 658.46 34.80Z" fill="none" stroke="#444" stroke-width="1.6" stroke-opacity="0.55"/>
</g>
<path d="M658.46 34.80 C659.63 35.11 661.14 36.07 661.93 37.69 C662.71 39.31 662.77 42.05 663.16 44.52 C663.55 46.99 664.09 50.04 664.27 52.52 C664.45 55.00 664.37 57.50 664.27 59.40 C664.17 61.29 663.53 62.19 663.66 63.91 C663.80 65.63 664.98 67.61 665.08 69.71 C665.19 71.80 664.80 74.60 664.27 76.48 C663.74 78.36 663.00 79.86 661.93 81.00 C660.86 82.14 659.29 83.11 657.85 83.31 C656.41 83.50 654.63 82.74 653.28 82.18 C651.92 81.61 650.87 81.06 649.70 79.92 C648.52 78.77 647.38 77.21 646.23 75.30 C645.07 73.40 643.75 70.95 642.78 68.48 C641.81 66.01 640.99 63.09 640.41 60.48 C639.84 57.86 639.40 54.62 639.31 52.77 C639.22 50.91 639.27 50.68 639.89 49.33 C640.51 47.98 641.47 46.34 643.05 44.67 C644.62 42.99 647.38 40.74 649.36 39.26 C651.33 37.79 653.36 36.57 654.88 35.83 C656.40 35.08 657.28 34.49 658.46 34.80Z" fill="none" stroke="#666" stroke-width="0.5" stroke-opacity="0.5"/>
<text x="213.1" y="45.7" font-size="9.2" text-anchor="middle" font-weight="normal" fill="#222" stroke="#222" stroke-width="0.18">S</text>
<line x1="213.1" y1="47.5" x2="213.1" y2="68.8" stroke="#9a9a9a" stroke-width="0.9"/>
<polyline points="214.6,49.6 213.1,47.5 211.6,49.6" fill="none" stroke="#9a9a9a" stroke-width="0.9"/>
<polyline points="211.6,66.7 213.1,68.8 214.6,66.7" fill="none" stroke="#9a9a9a" stroke-width="0.9"/>
<text x="213.1" y="78.1" font-size="9.2" text-anchor="middle" font-weight="normal" fill="#222" stroke="#222" stroke-width="0.18">I</text>
<text x="230.4" y="90.8" font-size="9.2" text-anchor="middle" font-weight="normal" fill="#222" stroke="#222" stroke-width="0.18">A</text>
<line x1="234.5" y1="87.0" x2="272.0" y2="87.0" stroke="#9a9a9a" stroke-width="0.9"/>
<polyline points="236.6,85.5 234.5,87.0 236.6,88.5" fill="none" stroke="#9a9a9a" stroke-width="0.9"/>
<polyline points="269.9,88.5 272.0,87.0 269.9,85.5" fill="none" stroke="#9a9a9a" stroke-width="0.9"/>
<text x="275.9" y="90.8" font-size="9.2" text-anchor="middle" font-weight="normal" fill="#222" stroke="#222" stroke-width="0.18">P</text>
<text x="322.8" y="42.1" font-size="9.2" text-anchor="middle" font-weight="normal" fill="#222" stroke="#222" stroke-width="0.18">S/A</text>
<line x1="322.4" y1="44.8" x2="322.4" y2="66.8" stroke="#9a9a9a" stroke-width="0.9"/>
<polyline points="323.9,46.9 322.4,44.8 320.9,46.9" fill="none" stroke="#9a9a9a" stroke-width="0.9"/>
<polyline points="320.9,64.7 322.4,66.8 323.9,64.7" fill="none" stroke="#9a9a9a" stroke-width="0.9"/>
<text x="323.3" y="77.4" font-size="9.2" text-anchor="middle" font-weight="normal" fill="#222" stroke="#222" stroke-width="0.18">I/P</text>
<text x="291.8" y="94.0" font-size="9.2" text-anchor="middle" font-weight="normal" fill="#222" stroke="#222" stroke-width="0.18">L</text>
<line x1="295.3" y1="90.2" x2="311.1" y2="90.2" stroke="#9a9a9a" stroke-width="0.9"/>
<polyline points="297.4,88.7 295.3,90.2 297.4,91.7" fill="none" stroke="#9a9a9a" stroke-width="0.9"/>
<polyline points="309.0,91.7 311.1,90.2 309.0,88.7" fill="none" stroke="#9a9a9a" stroke-width="0.9"/>
<text x="316.4" y="94.0" font-size="9.2" text-anchor="middle" font-weight="normal" fill="#222" stroke="#222" stroke-width="0.18">M</text>
<rect x="22.8" y="342.4" width="121.7" height="165.3" rx="6.5" fill="#f3f3f3" stroke="#c6c6c6" stroke-width="1"/>
<text x="84.0" y="359.0" font-size="10" text-anchor="middle" font-weight="normal" fill="#222" stroke="#222" stroke-width="0.18">S1</text>
<text x="47.8" y="375.7" font-size="9.2" text-anchor="middle" font-weight="normal" fill="#222" stroke="#222" stroke-width="0.18">lh</text>
<text x="84.1" y="442.9" font-size="10" text-anchor="middle" font-weight="normal" fill="#222" stroke="#222" stroke-width="0.18">cEVC</text>
<text x="45.9" y="456.2" font-size="9.2" text-anchor="middle" font-weight="normal" fill="#222" stroke="#222" stroke-width="0.18">lh</text>
<text x="122.6" y="456.2" font-size="9.2" text-anchor="middle" font-weight="normal" fill="#222" stroke="#222" stroke-width="0.18">rh</text>
<clipPath id="br9"><path d="M52.18 387.22 C52.10 385.74 52.44 383.92 53.33 382.00 C54.22 380.08 55.76 377.56 57.50 375.71 C59.24 373.86 61.33 372.20 63.78 370.88 C66.23 369.56 69.02 368.48 72.18 367.78 C75.33 367.08 79.37 366.78 82.69 366.70 C86.01 366.62 89.13 366.69 92.11 367.31 C95.09 367.92 97.94 368.84 100.57 370.41 C103.20 371.97 105.78 374.25 107.88 376.70 C109.98 379.15 111.90 382.30 113.20 385.11 C114.50 387.91 115.37 391.06 115.70 393.51 C116.03 395.96 115.81 398.06 115.19 399.80 C114.57 401.55 113.71 402.75 111.98 403.98 C110.25 405.22 107.93 406.41 104.80 407.22 C101.67 408.02 97.07 408.49 93.20 408.81 C89.33 409.13 85.10 409.21 81.60 409.11 C78.09 409.01 74.42 408.79 72.18 408.21 C69.93 407.63 68.87 406.67 68.14 405.62 C67.40 404.57 67.48 403.03 67.75 401.91 C68.03 400.80 69.06 399.67 69.80 398.94 C70.55 398.21 72.89 398.08 72.24 397.52 C71.59 396.96 68.18 396.25 65.89 395.58 C63.61 394.91 60.54 394.29 58.52 393.51 C56.50 392.73 54.84 391.93 53.78 390.88 C52.72 389.83 52.25 388.70 52.18 387.22Z"/></clipPath>
<g clip-path="url(#br9)">
<rect x="49.6" y="364.4" width="68.1" height="47.1" filter="url(#tex3)"/>
<path d="M74.8 387.4 L76.9 381.9 L80.8 377.3 L85.2 372.2 L89.6 366.8 L93.3 365.5 L95.9 370.6 L94.7 374.6 L90.9 378.1 L86.4 382.3 L81.9 385 L77.9 386.8 L76 388.2 Z" fill="#efa8f0"/>
<path d="M52.18 387.22 C52.10 385.74 52.44 383.92 53.33 382.00 C54.22 380.08 55.76 377.56 57.50 375.71 C59.24 373.86 61.33 372.20 63.78 370.88 C66.23 369.56 69.02 368.48 72.18 367.78 C75.33 367.08 79.37 366.78 82.69 366.70 C86.01 366.62 89.13 366.69 92.11 367.31 C95.09 367.92 97.94 368.84 100.57 370.41 C103.20 371.97 105.78 374.25 107.88 376.70 C109.98 379.15 111.90 382.30 113.20 385.11 C114.50 387.91 115.37 391.06 115.70 393.51 C116.03 395.96 115.81 398.06 115.19 399.80 C114.57 401.55 113.71 402.75 111.98 403.98 C110.25 405.22 107.93 406.41 104.80 407.22 C101.67 408.02 97.07 408.49 93.20 408.81 C89.33 409.13 85.10 409.21 81.60 409.11 C78.09 409.01 74.42 408.79 72.18 408.21 C69.93 407.63 68.87 406.67 68.14 405.62 C67.40 404.57 67.48 403.03 67.75 401.91 C68.03 400.80 69.06 399.67 69.80 398.94 C70.55 398.21 72.89 398.08 72.24 397.52 C71.59 396.96 68.18 396.25 65.89 395.58 C63.61 394.91 60.54 394.29 58.52 393.51 C56.50 392.73 54.84 391.93 53.78 390.88 C52.72 389.83 52.25 388.70 52.18 387.22Z" fill="none" stroke="#444" stroke-width="1.6" stroke-opacity="0.55"/>
</g>
<path d="M52.18 387.22 C52.10 385.74 52.44 383.92 53.33 382.00 C54.22 380.08 55.76 377.56 57.50 375.71 C59.24 373.86 61.33 372.20 63.78 370.88 C66.23 369.56 69.02 368.48 72.18 367.78 C75.33 367.08 79.37 366.78 82.69 366.70 C86.01 366.62 89.13 366.69 92.11 367.31 C95.09 367.92 97.94 368.84 100.57 370.41 C103.20 371.97 105.78 374.25 107.88 376.70 C109.98 379.15 111.90 382.30 113.20 385.11 C114.50 387.91 115.37 391.06 115.70 393.51 C116.03 395.96 115.81 398.06 115.19 399.80 C114.57 401.55 113.71 402.75 111.98 403.98 C110.25 405.22 107.93 406.41 104.80 407.22 C101.67 408.02 97.07 408.49 93.20 408.81 C89.33 409.13 85.10 409.21 81.60 409.11 C78.09 409.01 74.42 408.79 72.18 408.21 C69.93 407.63 68.87 406.67 68.14 405.62 C67.40 404.57 67.48 403.03 67.75 401.91 C68.03 400.80 69.06 399.67 69.80 398.94 C70.55 398.21 72.89 398.08 72.24 397.52 C71.59 396.96 68.18 396.25 65.89 395.58 C63.61 394.91 60.54 394.29 58.52 393.51 C56.50 392.73 54.84 391.93 53.78 390.88 C52.72 389.83 52.25 388.70 52.18 387.22Z" fill="none" stroke="#666" stroke-width="0.5" stroke-opacity="0.5"/>
<clipPath id="br10"><path d="M69.39 451.10 C70.54 451.41 72.02 452.37 72.79 453.99 C73.56 455.61 73.62 458.35 74.01 460.82 C74.39 463.29 74.91 466.34 75.09 468.82 C75.27 471.30 75.19 473.80 75.09 475.70 C74.99 477.59 74.36 478.49 74.50 480.21 C74.63 481.93 75.79 483.91 75.89 486.01 C75.99 488.10 75.61 490.90 75.09 492.78 C74.57 494.66 73.84 496.16 72.79 497.30 C71.75 498.44 70.21 499.41 68.80 499.61 C67.38 499.80 65.64 499.04 64.31 498.48 C62.97 497.91 61.95 497.36 60.80 496.22 C59.65 495.07 58.52 493.51 57.39 491.60 C56.26 489.70 54.96 487.25 54.01 484.78 C53.06 482.31 52.26 479.39 51.69 476.78 C51.12 474.16 50.69 470.92 50.61 469.07 C50.52 467.21 50.56 466.98 51.17 465.63 C51.78 464.28 52.72 462.64 54.27 460.97 C55.82 459.29 58.53 457.04 60.46 455.56 C62.40 454.09 64.39 452.87 65.88 452.13 C67.37 451.38 68.24 450.79 69.39 451.10Z"/></clipPath>
<g clip-path="url(#br10)">
<rect x="48.4" y="448.9" width="29.8" height="53.1" filter="url(#tex5)"/>
<path d="M56 497.5 L60.8 496.2 L64.8 494.5 L68.2 493.9 L71.7 494.5 L74 496.2 L78 497 L78 503 L56 503 Z" fill="#fde38e"/>
<path d="M69.39 451.10 C70.54 451.41 72.02 452.37 72.79 453.99 C73.56 455.61 73.62 458.35 74.01 460.82 C74.39 463.29 74.91 466.34 75.09 468.82 C75.27 471.30 75.19 473.80 75.09 475.70 C74.99 477.59 74.36 478.49 74.50 480.21 C74.63 481.93 75.79 483.91 75.89 486.01 C75.99 488.10 75.61 490.90 75.09 492.78 C74.57 494.66 73.84 496.16 72.79 497.30 C71.75 498.44 70.21 499.41 68.80 499.61 C67.38 499.80 65.64 499.04 64.31 498.48 C62.97 497.91 61.95 497.36 60.80 496.22 C59.65 495.07 58.52 493.51 57.39 491.60 C56.26 489.70 54.96 487.25 54.01 484.78 C53.06 482.31 52.26 479.39 51.69 476.78 C51.12 474.16 50.69 470.92 50.61 469.07 C50.52 467.21 50.56 466.98 51.17 465.63 C51.78 464.28 52.72 462.64 54.27 460.97 C55.82 459.29 58.53 457.04 60.46 455.56 C62.40 454.09 64.39 452.87 65.88 452.13 C67.37 451.38 68.24 450.79 69.39 451.10Z" fill="none" stroke="#444" stroke-width="1.6" stroke-opacity="0.55"/>
</g>
<path d="M69.39 451.10 C70.54 451.41 72.02 452.37 72.79 453.99 C73.56 455.61 73.62 458.35 74.01 460.82 C74.39 463.29 74.91 466.34 75.09 468.82 C75.27 471.30 75.19 473.80 75.09 475.70 C74.99 477.59 74.36 478.49 74.50 480.21 C74.63 481.93 75.79 483.91 75.89 486.01 C75.99 488.10 75.61 490.90 75.09 492.78 C74.57 494.66 73.84 496.16 72.79 497.30 C71.75 498.44 70.21 499.41 68.80 499.61 C67.38 499.80 65.64 499.04 64.31 498.48 C62.97 497.91 61.95 497.36 60.80 496.22 C59.65 495.07 58.52 493.51 57.39 491.60 C56.26 489.70 54.96 487.25 54.01 484.78 C53.06 482.31 52.26 479.39 51.69 476.78 C51.12 474.16 50.69 470.92 50.61 469.07 C50.52 467.21 50.56 466.98 51.17 465.63 C51.78 464.28 52.72 462.64 54.27 460.97 C55.82 459.29 58.53 457.04 60.46 455.56 C62.40 454.09 64.39 452.87 65.88 452.13 C67.37 451.38 68.24 450.79 69.39 451.10Z" fill="none" stroke="#666" stroke-width="0.5" stroke-opacity="0.5"/>
<clipPath id="br11"><path d="M97.77 450.60 C96.66 450.92 95.23 451.91 94.49 453.57 C93.74 455.23 93.69 458.03 93.32 460.56 C92.95 463.09 92.45 466.22 92.27 468.76 C92.10 471.30 92.18 473.86 92.27 475.80 C92.37 477.75 92.97 478.67 92.84 480.43 C92.71 482.19 91.59 484.22 91.50 486.36 C91.40 488.51 91.77 491.38 92.27 493.31 C92.77 495.23 93.47 496.77 94.49 497.93 C95.50 499.10 96.98 500.10 98.35 500.30 C99.71 500.50 101.39 499.72 102.68 499.14 C103.97 498.56 104.95 498.00 106.07 496.83 C107.18 495.65 108.26 494.05 109.35 492.10 C110.44 490.15 111.70 487.64 112.61 485.11 C113.53 482.58 114.31 479.59 114.85 476.91 C115.40 474.23 115.82 470.91 115.90 469.01 C115.98 467.11 115.94 466.87 115.35 465.49 C114.76 464.11 113.86 462.43 112.36 460.71 C110.87 458.99 108.26 456.69 106.39 455.18 C104.52 453.67 102.60 452.42 101.16 451.66 C99.72 450.89 98.89 450.28 97.77 450.60Z"/></clipPath>
<g clip-path="url(#br11)">
<rect x="89.2" y="448.4" width="28.9" height="54.3" filter="url(#tex6)"/>
<path d="M90 496 L94.8 495 L97.1 493.3 L100.5 492.8 L104 494.5 L106.3 496.8 L109 498 L109 503 L90 503 Z" fill="#fde38e"/>
<path d="M97.77 450.60 C96.66 450.92 95.23 451.91 94.49 453.57 C93.74 455.23 93.69 458.03 93.32 460.56 C92.95 463.09 92.45 466.22 92.27 468.76 C92.10 471.30 92.18 473.86 92.27 475.80 C92.37 477.75 92.97 478.67 92.84 480.43 C92.71 482.19 91.59 484.22 91.50 486.36 C91.40 488.51 91.77 491.38 92.27 493.31 C92.77 495.23 93.47 496.77 94.49 497.93 C95.50 499.10 96.98 500.10 98.35 500.30 C99.71 500.50 101.39 499.72 102.68 499.14 C103.97 498.56 104.95 498.00 106.07 496.83 C107.18 495.65 108.26 494.05 109.35 492.10 C110.44 490.15 111.70 487.64 112.61 485.11 C113.53 482.58 114.31 479.59 114.85 476.91 C115.40 474.23 115.82 470.91 115.90 469.01 C115.98 467.11 115.94 466.87 115.35 465.49 C114.76 464.11 113.86 462.43 112.36 460.71 C110.87 458.99 108.26 456.69 106.39 455.18 C104.52 453.67 102.60 452.42 101.16 451.66 C99.72 450.89 98.89 450.28 97.77 450.60Z" fill="none" stroke="#444" stroke-width="1.6" stroke-opacity="0.55"/>
</g>
<path d="M97.77 450.60 C96.66 450.92 95.23 451.91 94.49 453.57 C93.74 455.23 93.69 458.03 93.32 460.56 C92.95 463.09 92.45 466.22 92.27 468.76 C92.10 471.30 92.18 473.86 92.27 475.80 C92.37 477.75 92.97 478.67 92.84 480.43 C92.71 482.19 91.59 484.22 91.50 486.36 C91.40 488.51 91.77 491.38 92.27 493.31 C92.77 495.23 93.47 496.77 94.49 497.93 C95.50 499.10 96.98 500.10 98.35 500.30 C99.71 500.50 101.39 499.72 102.68 499.14 C103.97 498.56 104.95 498.00 106.07 496.83 C107.18 495.65 108.26 494.05 109.35 492.10 C110.44 490.15 111.70 487.64 112.61 485.11 C113.53 482.58 114.31 479.59 114.85 476.91 C115.40 474.23 115.82 470.91 115.90 469.01 C115.98 467.11 115.94 466.87 115.35 465.49 C114.76 464.11 113.86 462.43 112.36 460.71 C110.87 458.99 108.26 456.69 106.39 455.18 C104.52 453.67 102.60 452.42 101.16 451.66 C99.72 450.89 98.89 450.28 97.77 450.60Z" fill="none" stroke="#666" stroke-width="0.5" stroke-opacity="0.5"/>
<path d="M49.8 169.4 V296.0 H167.8" fill="none" stroke="#151515" stroke-width="1.3"/>
<line x1="49.8" y1="188.7" x2="51.8" y2="188.7" stroke="#151515" stroke-width="1"/>
<line x1="49.8" y1="212.7" x2="51.8" y2="212.7" stroke="#151515" stroke-width="1"/>
<line x1="49.8" y1="236.8" x2="51.8" y2="236.8" stroke="#151515" stroke-width="1"/>
<line x1="49.8" y1="260.8" x2="51.8" y2="260.8" stroke="#151515" stroke-width="1"/>
<line x1="49.8" y1="284.8" x2="51.8" y2="284.8" stroke="#151515" stroke-width="1"/>
<text x="45.2" y="218.7" font-size="10" text-anchor="end" font-weight="normal" fill="#222" stroke="#222" stroke-width="0.18">0.3</text>
<text x="45.2" y="266.5" font-size="10" text-anchor="end" font-weight="normal" fill="#222" stroke="#222" stroke-width="0.18">0</text>
<text x="0" y="0" font-size="10" text-anchor="middle" fill="#222" stroke="#222" stroke-width="0.18" transform="translate(24.8 232.5) rotate(-90)">Discrimination Index</text>
<line x1="64.5" y1="296.0" x2="64.5" y2="294.0" stroke="#151515" stroke-width="1"/>
<text x="64.1" y="310.8" font-size="10" text-anchor="middle" font-weight="normal" fill="#222" stroke="#222" stroke-width="0.18">TT</text>
<line x1="93.6" y1="296.0" x2="93.6" y2="294.0" stroke="#151515" stroke-width="1"/>
<text x="93.2" y="310.8" font-size="10" text-anchor="middle" font-weight="normal" fill="#222" stroke="#222" stroke-width="0.18">VV</text>
<line x1="122.8" y1="296.0" x2="122.8" y2="294.0" stroke="#151515" stroke-width="1"/>
<text x="122.4" y="310.8" font-size="10" text-anchor="middle" font-weight="normal" fill="#222" stroke="#222" stroke-width="0.18">TV</text>
<line x1="152.0" y1="296.0" x2="152.0" y2="294.0" stroke="#151515" stroke-width="1"/>
<text x="151.6" y="310.8" font-size="10" text-anchor="middle" font-weight="normal" fill="#222" stroke="#222" stroke-width="0.18">VT</text>
<text x="108.7" y="144.9" font-size="10" text-anchor="middle" font-weight="normal" fill="#222" stroke="#222" stroke-width="0.18">SPL</text>
<line x1="64.5" y1="220.5" x2="64.5" y2="282.8" stroke="#111" stroke-width="1.2"/>
<line x1="59.0" y1="220.5" x2="70.0" y2="220.5" stroke="#111" stroke-width="1.2"/>
<line x1="59.0" y1="282.8" x2="70.0" y2="282.8" stroke="#111" stroke-width="1.2"/>
<rect x="54.2" y="238.7" width="20.6" height="20.5" fill="#ffccff" stroke="#ff00ff" stroke-width="1.6"/>
<circle cx="62.5" cy="219.9" r="1.9" fill="#fff" fill-opacity="0.45" stroke="#ff00ff" stroke-width="1.1"/>
<circle cx="67.4" cy="225.8" r="1.9" fill="#fff" fill-opacity="0.45" stroke="#ff00ff" stroke-width="1.1"/>
<circle cx="69.5" cy="225.8" r="1.9" fill="#fff" fill-opacity="0.45" stroke="#ff00ff" stroke-width="1.1"/>
<circle cx="63.9" cy="230.7" r="1.9" fill="#fff" fill-opacity="0.45" stroke="#ff00ff" stroke-width="1.1"/>
<circle cx="66.0" cy="233.9" r="1.9" fill="#fff" fill-opacity="0.45" stroke="#ff00ff" stroke-width="1.1"/>
<circle cx="63.2" cy="237.7" r="1.9" fill="#fff" fill-opacity="0.45" stroke="#ff00ff" stroke-width="1.1"/>
<circle cx="66.7" cy="238.4" r="1.9" fill="#fff" fill-opacity="0.45" stroke="#ff00ff" stroke-width="1.1"/>
<circle cx="70.2" cy="238.4" r="1.9" fill="#fff" fill-opacity="0.45" stroke="#ff00ff" stroke-width="1.1"/>
<circle cx="59.7" cy="241.9" r="1.9" fill="#fff" fill-opacity="0.45" stroke="#ff00ff" stroke-width="1.1"/>
<circle cx="61.8" cy="241.9" r="1.9" fill="#fff" fill-opacity="0.45" stroke="#ff00ff" stroke-width="1.1"/>
<circle cx="64.6" cy="241.9" r="1.9" fill="#fff" fill-opacity="0.45" stroke="#ff00ff" stroke-width="1.1"/>
<circle cx="66.7" cy="241.9" r="1.9" fill="#fff" fill-opacity="0.45" stroke="#ff00ff" stroke-width="1.1"/>
<circle cx="63.2" cy="244.7" r="1.9" fill="#fff" fill-opacity="0.45" stroke="#ff00ff" stroke-width="1.1"/>
<circle cx="65.3" cy="244.7" r="1.9" fill="#fff" fill-opacity="0.45" stroke="#ff00ff" stroke-width="1.1"/>
<circle cx="59.0" cy="249.6" r="1.9" fill="#fff" fill-opacity="0.45" stroke="#ff00ff" stroke-width="1.1"/>
<circle cx="62.5" cy="248.9" r="1.9" fill="#fff" fill-opacity="0.45" stroke="#ff00ff" stroke-width="1.1"/>
<circle cx="66.0" cy="249.3" r="1.9" fill="#fff" fill-opacity="0.45" stroke="#ff00ff" stroke-width="1.1"/>
<circle cx="68.1" cy="250.3" r="1.9" fill="#fff" fill-opacity="0.45" stroke="#ff00ff" stroke-width="1.1"/>
<circle cx="58.7" cy="253.1" r="1.9" fill="#fff" fill-opacity="0.45" stroke="#ff00ff" stroke-width="1.1"/>
<circle cx="69.5" cy="252.1" r="1.9" fill="#fff" fill-opacity="0.45" stroke="#ff00ff" stroke-width="1.1"/>
<circle cx="60.4" cy="258.7" r="1.9" fill="#fff" fill-opacity="0.45" stroke="#ff00ff" stroke-width="1.1"/>
<circle cx="62.5" cy="258.7" r="1.9" fill="#fff" fill-opacity="0.45" stroke="#ff00ff" stroke-width="1.1"/>
<circle cx="61.8" cy="262.9" r="1.9" fill="#fff" fill-opacity="0.45" stroke="#ff00ff" stroke-width="1.1"/>
<circle cx="61.8" cy="264.7" r="1.9" fill="#fff" fill-opacity="0.45" stroke="#ff00ff" stroke-width="1.1"/>
<circle cx="68.8" cy="262.2" r="1.9" fill="#fff" fill-opacity="0.45" stroke="#ff00ff" stroke-width="1.1"/>
<circle cx="63.2" cy="281.7" r="1.9" fill="#fff" fill-opacity="0.45" stroke="#ff00ff" stroke-width="1.1"/>
<circle cx="66.7" cy="282.9" r="1.9" fill="#fff" fill-opacity="0.45" stroke="#ff00ff" stroke-width="1.1"/>
<line x1="54.9" y1="246.0" x2="74.1" y2="246.0" stroke="#2a2a2a" stroke-width="1.4"/>
<polygon points="61.50,201.85 62.06,203.83 64.12,203.75 62.40,204.89 63.12,206.82 61.50,205.55 59.88,206.82 60.60,204.89 58.88,203.75 60.94,203.83" fill="#222" stroke="#222" stroke-width="0.45" stroke-linejoin="round"/>
<polygon points="68.30,201.85 68.86,203.83 70.92,203.75 69.20,204.89 69.92,206.82 68.30,205.55 66.68,206.82 67.40,204.89 65.68,203.75 67.74,203.83" fill="#222" stroke="#222" stroke-width="0.45" stroke-linejoin="round"/>
<line x1="93.6" y1="210.6" x2="93.6" y2="278.4" stroke="#111" stroke-width="1.2"/>
<line x1="88.1" y1="210.6" x2="99.1" y2="210.6" stroke="#111" stroke-width="1.2"/>
<line x1="88.1" y1="278.4" x2="99.1" y2="278.4" stroke="#111" stroke-width="1.2"/>
<rect x="83.3" y="232.2" width="20.6" height="24.6" fill="#ffebcc" stroke="#ff9900" stroke-width="1.6"/>
<circle cx="98.1" cy="211.0" r="1.9" fill="#fff" fill-opacity="0.45" stroke="#ff9900" stroke-width="1.1"/>
<circle cx="92.6" cy="215.7" r="1.9" fill="#fff" fill-opacity="0.45" stroke="#ff9900" stroke-width="1.1"/>
<circle cx="89.4" cy="217.9" r="1.9" fill="#fff" fill-opacity="0.45" stroke="#ff9900" stroke-width="1.1"/>
<circle cx="87.9" cy="220.7" r="1.9" fill="#fff" fill-opacity="0.45" stroke="#ff9900" stroke-width="1.1"/>
<circle cx="89.1" cy="223.9" r="1.9" fill="#fff" fill-opacity="0.45" stroke="#ff9900" stroke-width="1.1"/>
<circle cx="95.4" cy="223.6" r="1.9" fill="#fff" fill-opacity="0.45" stroke="#ff9900" stroke-width="1.1"/>
<circle cx="90.7" cy="228.9" r="1.9" fill="#fff" fill-opacity="0.45" stroke="#ff9900" stroke-width="1.1"/>
<circle cx="90.2" cy="234.1" r="1.9" fill="#fff" fill-opacity="0.45" stroke="#ff9900" stroke-width="1.1"/>
<circle cx="94.9" cy="234.1" r="1.9" fill="#fff" fill-opacity="0.45" stroke="#ff9900" stroke-width="1.1"/>
<circle cx="97.3" cy="235.7" r="1.9" fill="#fff" fill-opacity="0.45" stroke="#ff9900" stroke-width="1.1"/>
<circle cx="91.8" cy="238.8" r="1.9" fill="#fff" fill-opacity="0.45" stroke="#ff9900" stroke-width="1.1"/>
<circle cx="92.6" cy="242.4" r="1.9" fill="#fff" fill-opacity="0.45" stroke="#ff9900" stroke-width="1.1"/>
<circle cx="91.3" cy="246.7" r="1.9" fill="#fff" fill-opacity="0.45" stroke="#ff9900" stroke-width="1.1"/>
<circle cx="98.9" cy="246.7" r="1.9" fill="#fff" fill-opacity="0.45" stroke="#ff9900" stroke-width="1.1"/>
<circle cx="90.2" cy="249.8" r="1.9" fill="#fff" fill-opacity="0.45" stroke="#ff9900" stroke-width="1.1"/>
<circle cx="90.7" cy="252.2" r="1.9" fill="#fff" fill-opacity="0.45" stroke="#ff9900" stroke-width="1.1"/>
<circle cx="98.6" cy="253.0" r="1.9" fill="#fff" fill-opacity="0.45" stroke="#ff9900" stroke-width="1.1"/>
<circle cx="91.0" cy="255.3" r="1.9" fill="#fff" fill-opacity="0.45" stroke="#ff9900" stroke-width="1.1"/>
<circle cx="93.4" cy="256.1" r="1.9" fill="#fff" fill-opacity="0.45" stroke="#ff9900" stroke-width="1.1"/>
<circle cx="94.9" cy="255.7" r="1.9" fill="#fff" fill-opacity="0.45" stroke="#ff9900" stroke-width="1.1"/>
<circle cx="97.0" cy="255.3" r="1.9" fill="#fff" fill-opacity="0.45" stroke="#ff9900" stroke-width="1.1"/>
<circle cx="90.2" cy="259.3" r="1.9" fill="#fff" fill-opacity="0.45" stroke="#ff9900" stroke-width="1.1"/>
<circle cx="93.4" cy="259.3" r="1.9" fill="#fff" fill-opacity="0.45" stroke="#ff9900" stroke-width="1.1"/>
<circle cx="97.0" cy="263.5" r="1.9" fill="#fff" fill-opacity="0.45" stroke="#ff9900" stroke-width="1.1"/>
<circle cx="92.3" cy="267.9" r="1.9" fill="#fff" fill-opacity="0.45" stroke="#ff9900" stroke-width="1.1"/>
<circle cx="98.9" cy="278.1" r="1.9" fill="#fff" fill-opacity="0.45" stroke="#ff9900" stroke-width="1.1"/>
<line x1="84.0" y1="246.6" x2="103.2" y2="246.6" stroke="#2a2a2a" stroke-width="1.4"/>
<polygon points="90.60,193.05 91.16,195.03 93.22,194.95 91.50,196.09 92.22,198.02 90.60,196.75 88.98,198.02 89.70,196.09 87.98,194.95 90.04,195.03" fill="#222" stroke="#222" stroke-width="0.45" stroke-linejoin="round"/>
<polygon points="97.40,193.05 97.96,195.03 100.02,194.95 98.30,196.09 99.02,198.02 97.40,196.75 95.78,198.02 96.50,196.09 94.78,194.95 96.84,195.03" fill="#222" stroke="#222" stroke-width="0.45" stroke-linejoin="round"/>
<line x1="122.8" y1="199.6" x2="122.8" y2="268.0" stroke="#111" stroke-width="1.2"/>
<line x1="117.3" y1="199.6" x2="128.3" y2="199.6" stroke="#111" stroke-width="1.2"/>
<line x1="117.3" y1="268.0" x2="128.3" y2="268.0" stroke="#111" stroke-width="1.2"/>
<rect x="112.5" y="220.5" width="20.6" height="27.6" fill="#cce0ff" stroke="#0066ff" stroke-width="1.6"/>
<circle cx="117.8" cy="177.9" r="1.9" fill="#fff" fill-opacity="0.45" stroke="#0066ff" stroke-width="1.1"/>
<circle cx="121.1" cy="175.9" r="1.9" fill="#fff" fill-opacity="0.45" stroke="#0066ff" stroke-width="1.1"/>
<circle cx="128.2" cy="199.4" r="1.9" fill="#fff" fill-opacity="0.45" stroke="#0066ff" stroke-width="1.1"/>
<circle cx="119.8" cy="217.0" r="1.9" fill="#fff" fill-opacity="0.45" stroke="#0066ff" stroke-width="1.1"/>
<circle cx="124.7" cy="220.0" r="1.9" fill="#fff" fill-opacity="0.45" stroke="#0066ff" stroke-width="1.1"/>
<circle cx="127.6" cy="220.6" r="1.9" fill="#fff" fill-opacity="0.45" stroke="#0066ff" stroke-width="1.1"/>
<circle cx="127.0" cy="223.3" r="1.9" fill="#fff" fill-opacity="0.45" stroke="#0066ff" stroke-width="1.1"/>
<circle cx="119.8" cy="228.2" r="1.9" fill="#fff" fill-opacity="0.45" stroke="#0066ff" stroke-width="1.1"/>
<circle cx="128.6" cy="227.8" r="1.9" fill="#fff" fill-opacity="0.45" stroke="#0066ff" stroke-width="1.1"/>
<circle cx="126.6" cy="230.7" r="1.9" fill="#fff" fill-opacity="0.45" stroke="#0066ff" stroke-width="1.1"/>
<circle cx="124.7" cy="234.3" r="1.9" fill="#fff" fill-opacity="0.45" stroke="#0066ff" stroke-width="1.1"/>
<circle cx="128.2" cy="234.7" r="1.9" fill="#fff" fill-opacity="0.45" stroke="#0066ff" stroke-width="1.1"/>
<circle cx="122.3" cy="235.6" r="1.9" fill="#fff" fill-opacity="0.45" stroke="#0066ff" stroke-width="1.1"/>
<circle cx="123.7" cy="236.6" r="1.9" fill="#fff" fill-opacity="0.45" stroke="#0066ff" stroke-width="1.1"/>
<circle cx="118.8" cy="241.5" r="1.9" fill="#fff" fill-opacity="0.45" stroke="#0066ff" stroke-width="1.1"/>
<circle cx="120.7" cy="240.9" r="1.9" fill="#fff" fill-opacity="0.45" stroke="#0066ff" stroke-width="1.1"/>
<circle cx="128.2" cy="240.5" r="1.9" fill="#fff" fill-opacity="0.45" stroke="#0066ff" stroke-width="1.1"/>
<circle cx="119.8" cy="246.4" r="1.9" fill="#fff" fill-opacity="0.45" stroke="#0066ff" stroke-width="1.1"/>
<circle cx="124.7" cy="246.8" r="1.9" fill="#fff" fill-opacity="0.45" stroke="#0066ff" stroke-width="1.1"/>
<circle cx="126.6" cy="246.8" r="1.9" fill="#fff" fill-opacity="0.45" stroke="#0066ff" stroke-width="1.1"/>
<circle cx="118.8" cy="252.3" r="1.9" fill="#fff" fill-opacity="0.45" stroke="#0066ff" stroke-width="1.1"/>
<circle cx="120.7" cy="255.8" r="1.9" fill="#fff" fill-opacity="0.45" stroke="#0066ff" stroke-width="1.1"/>
<circle cx="122.3" cy="259.1" r="1.9" fill="#fff" fill-opacity="0.45" stroke="#0066ff" stroke-width="1.1"/>
<circle cx="123.7" cy="262.5" r="1.9" fill="#fff" fill-opacity="0.45" stroke="#0066ff" stroke-width="1.1"/>
<circle cx="124.7" cy="267.6" r="1.9" fill="#fff" fill-opacity="0.45" stroke="#0066ff" stroke-width="1.1"/>
<circle cx="126.2" cy="267.6" r="1.9" fill="#fff" fill-opacity="0.45" stroke="#0066ff" stroke-width="1.1"/>
<line x1="113.2" y1="235.9" x2="132.4" y2="235.9" stroke="#2a2a2a" stroke-width="1.4"/>
<polygon points="119.80,167.85 120.36,169.83 122.42,169.75 120.70,170.89 121.42,172.82 119.80,171.55 118.18,172.82 118.90,170.89 117.18,169.75 119.24,169.83" fill="#222" stroke="#222" stroke-width="0.45" stroke-linejoin="round"/>
<polygon points="126.60,167.85 127.16,169.83 129.22,169.75 127.50,170.89 128.22,172.82 126.60,171.55 124.98,172.82 125.70,170.89 123.98,169.75 126.04,169.83" fill="#222" stroke="#222" stroke-width="0.45" stroke-linejoin="round"/>
<line x1="152.0" y1="224.4" x2="152.0" y2="263.4" stroke="#111" stroke-width="1.2"/>
<line x1="146.5" y1="224.4" x2="157.5" y2="224.4" stroke="#111" stroke-width="1.2"/>
<line x1="146.5" y1="263.4" x2="157.5" y2="263.4" stroke="#111" stroke-width="1.2"/>
<rect x="141.7" y="230.8" width="20.6" height="23.2" fill="#d6f5cc" stroke="#33cc00" stroke-width="1.6"/>
<circle cx="153.2" cy="223.4" r="1.9" fill="#fff" fill-opacity="0.45" stroke="#33cc00" stroke-width="1.1"/>
<circle cx="147.3" cy="227.8" r="1.9" fill="#fff" fill-opacity="0.45" stroke="#33cc00" stroke-width="1.1"/>
<circle cx="149.8" cy="227.3" r="1.9" fill="#fff" fill-opacity="0.45" stroke="#33cc00" stroke-width="1.1"/>
<circle cx="152.7" cy="227.8" r="1.9" fill="#fff" fill-opacity="0.45" stroke="#33cc00" stroke-width="1.1"/>
<circle cx="156.2" cy="227.8" r="1.9" fill="#fff" fill-opacity="0.45" stroke="#33cc00" stroke-width="1.1"/>
<circle cx="146.8" cy="230.8" r="1.9" fill="#fff" fill-opacity="0.45" stroke="#33cc00" stroke-width="1.1"/>
<circle cx="157.6" cy="230.8" r="1.9" fill="#fff" fill-opacity="0.45" stroke="#33cc00" stroke-width="1.1"/>
<circle cx="153.7" cy="235.7" r="1.9" fill="#fff" fill-opacity="0.45" stroke="#33cc00" stroke-width="1.1"/>
<circle cx="154.7" cy="238.6" r="1.9" fill="#fff" fill-opacity="0.45" stroke="#33cc00" stroke-width="1.1"/>
<circle cx="157.2" cy="240.1" r="1.9" fill="#fff" fill-opacity="0.45" stroke="#33cc00" stroke-width="1.1"/>
<circle cx="156.7" cy="243.5" r="1.9" fill="#fff" fill-opacity="0.45" stroke="#33cc00" stroke-width="1.1"/>
<circle cx="157.6" cy="245.5" r="1.9" fill="#fff" fill-opacity="0.45" stroke="#33cc00" stroke-width="1.1"/>
<circle cx="147.3" cy="247.0" r="1.9" fill="#fff" fill-opacity="0.45" stroke="#33cc00" stroke-width="1.1"/>
<circle cx="146.8" cy="250.4" r="1.9" fill="#fff" fill-opacity="0.45" stroke="#33cc00" stroke-width="1.1"/>
<circle cx="155.2" cy="249.4" r="1.9" fill="#fff" fill-opacity="0.45" stroke="#33cc00" stroke-width="1.1"/>
<circle cx="158.1" cy="249.4" r="1.9" fill="#fff" fill-opacity="0.45" stroke="#33cc00" stroke-width="1.1"/>
<circle cx="154.2" cy="251.9" r="1.9" fill="#fff" fill-opacity="0.45" stroke="#33cc00" stroke-width="1.1"/>
<circle cx="156.2" cy="251.9" r="1.9" fill="#fff" fill-opacity="0.45" stroke="#33cc00" stroke-width="1.1"/>
<circle cx="148.3" cy="253.4" r="1.9" fill="#fff" fill-opacity="0.45" stroke="#33cc00" stroke-width="1.1"/>
<circle cx="149.3" cy="255.8" r="1.9" fill="#fff" fill-opacity="0.45" stroke="#33cc00" stroke-width="1.1"/>
<circle cx="150.8" cy="257.3" r="1.9" fill="#fff" fill-opacity="0.45" stroke="#33cc00" stroke-width="1.1"/>
<circle cx="152.2" cy="257.3" r="1.9" fill="#fff" fill-opacity="0.45" stroke="#33cc00" stroke-width="1.1"/>
<circle cx="150.8" cy="259.7" r="1.9" fill="#fff" fill-opacity="0.45" stroke="#33cc00" stroke-width="1.1"/>
<circle cx="153.2" cy="260.2" r="1.9" fill="#fff" fill-opacity="0.45" stroke="#33cc00" stroke-width="1.1"/>
<circle cx="152.2" cy="262.7" r="1.9" fill="#fff" fill-opacity="0.45" stroke="#33cc00" stroke-width="1.1"/>
<line x1="142.4" y1="246.8" x2="161.6" y2="246.8" stroke="#2a2a2a" stroke-width="1.4"/>
<polygon points="149.00,205.65 149.56,207.63 151.62,207.55 149.90,208.69 150.62,210.62 149.00,209.35 147.38,210.62 148.10,208.69 146.38,207.55 148.44,207.63" fill="#222" stroke="#222" stroke-width="0.45" stroke-linejoin="round"/>
<polygon points="155.80,205.65 156.36,207.63 158.42,207.55 156.70,208.69 157.42,210.62 155.80,209.35 154.18,210.62 154.90,208.69 153.18,207.55 155.24,207.63" fill="#222" stroke="#222" stroke-width="0.45" stroke-linejoin="round"/>
<line x1="51.0" y1="260.8" x2="167.8" y2="260.8" stroke="#000" stroke-width="1.35" stroke-dasharray="1.35 1.45"/>
<path d="M65.6 174.7 H94.8  M123.1 164.1 H152.1" fill="none" stroke="#7a7a7a" stroke-width="1.4"/>
<path d="M79.4 174.7 V159.2 H139.2 V164.1 " fill="none" stroke="#333" stroke-width="1.05"/>
<text x="108.8" y="157.0" font-size="10" text-anchor="middle" font-weight="normal" fill="#2a2a2a" font-style="italic" letter-spacing="0.3">#</text>
<path d="M216.6 169.4 V296.0 H334.6" fill="none" stroke="#151515" stroke-width="1.3"/>
<line x1="216.6" y1="188.7" x2="218.6" y2="188.7" stroke="#151515" stroke-width="1"/>
<line x1="216.6" y1="212.7" x2="218.6" y2="212.7" stroke="#151515" stroke-width="1"/>
<line x1="216.6" y1="236.8" x2="218.6" y2="236.8" stroke="#151515" stroke-width="1"/>
<line x1="216.6" y1="260.8" x2="218.6" y2="260.8" stroke="#151515" stroke-width="1"/>
<line x1="216.6" y1="284.8" x2="218.6" y2="284.8" stroke="#151515" stroke-width="1"/>
<text x="212.0" y="218.7" font-size="10" text-anchor="end" font-weight="normal" fill="#222" stroke="#222" stroke-width="0.18">0.3</text>
<text x="212.0" y="266.5" font-size="10" text-anchor="end" font-weight="normal" fill="#222" stroke="#222" stroke-width="0.18">0</text>
<text x="0" y="0" font-size="10" text-anchor="middle" fill="#222" stroke="#222" stroke-width="0.18" transform="translate(191.6 232.5) rotate(-90)">Discrimination Index</text>
<line x1="231.3" y1="296.0" x2="231.3" y2="294.0" stroke="#151515" stroke-width="1"/>
<text x="230.9" y="310.8" font-size="10" text-anchor="middle" font-weight="normal" fill="#222" stroke="#222" stroke-width="0.18">TT</text>
<line x1="260.4" y1="296.0" x2="260.4" y2="294.0" stroke="#151515" stroke-width="1"/>
<text x="260.0" y="310.8" font-size="10" text-anchor="middle" font-weight="normal" fill="#222" stroke="#222" stroke-width="0.18">VV</text>
<line x1="289.6" y1="296.0" x2="289.6" y2="294.0" stroke="#151515" stroke-width="1"/>
<text x="289.2" y="310.8" font-size="10" text-anchor="middle" font-weight="normal" fill="#222" stroke="#222" stroke-width="0.18">TV</text>
<line x1="318.8" y1="296.0" x2="318.8" y2="294.0" stroke="#151515" stroke-width="1"/>
<text x="318.4" y="310.8" font-size="10" text-anchor="middle" font-weight="normal" fill="#222" stroke="#222" stroke-width="0.18">VT</text>
<text x="275.3" y="144.9" font-size="10" text-anchor="middle" font-weight="normal" fill="#222" stroke="#222" stroke-width="0.18">IPS</text>
<line x1="231.3" y1="226.7" x2="231.3" y2="280.4" stroke="#111" stroke-width="1.2"/>
<line x1="225.8" y1="226.7" x2="236.8" y2="226.7" stroke="#111" stroke-width="1.2"/>
<line x1="225.8" y1="280.4" x2="236.8" y2="280.4" stroke="#111" stroke-width="1.2"/>
<rect x="221.0" y="244.6" width="20.6" height="15.1" fill="#ffccff" stroke="#ff00ff" stroke-width="1.6"/>
<circle cx="236.9" cy="216.6" r="1.9" fill="#fff" fill-opacity="0.45" stroke="#ff00ff" stroke-width="1.1"/>
<circle cx="226.5" cy="226.7" r="1.9" fill="#fff" fill-opacity="0.45" stroke="#ff00ff" stroke-width="1.1"/>
<circle cx="233.5" cy="226.7" r="1.9" fill="#fff" fill-opacity="0.45" stroke="#ff00ff" stroke-width="1.1"/>
<circle cx="232.7" cy="229.9" r="1.9" fill="#fff" fill-opacity="0.45" stroke="#ff00ff" stroke-width="1.1"/>
<circle cx="231.6" cy="232.4" r="1.9" fill="#fff" fill-opacity="0.45" stroke="#ff00ff" stroke-width="1.1"/>
<circle cx="235.0" cy="239.2" r="1.9" fill="#fff" fill-opacity="0.45" stroke="#ff00ff" stroke-width="1.1"/>
<circle cx="232.7" cy="241.7" r="1.9" fill="#fff" fill-opacity="0.45" stroke="#ff00ff" stroke-width="1.1"/>
<circle cx="226.8" cy="246.8" r="1.9" fill="#fff" fill-opacity="0.45" stroke="#ff00ff" stroke-width="1.1"/>
<circle cx="230.5" cy="246.8" r="1.9" fill="#fff" fill-opacity="0.45" stroke="#ff00ff" stroke-width="1.1"/>
<circle cx="234.2" cy="246.5" r="1.9" fill="#fff" fill-opacity="0.45" stroke="#ff00ff" stroke-width="1.1"/>
<circle cx="226.1" cy="249.5" r="1.9" fill="#fff" fill-opacity="0.45" stroke="#ff00ff" stroke-width="1.1"/>
<circle cx="229.1" cy="249.5" r="1.9" fill="#fff" fill-opacity="0.45" stroke="#ff00ff" stroke-width="1.1"/>
<circle cx="232.0" cy="249.8" r="1.9" fill="#fff" fill-opacity="0.45" stroke="#ff00ff" stroke-width="1.1"/>
<circle cx="236.4" cy="249.5" r="1.9" fill="#fff" fill-opacity="0.45" stroke="#ff00ff" stroke-width="1.1"/>
<circle cx="228.3" cy="252.7" r="1.9" fill="#fff" fill-opacity="0.45" stroke="#ff00ff" stroke-width="1.1"/>
<circle cx="231.3" cy="253.5" r="1.9" fill="#fff" fill-opacity="0.45" stroke="#ff00ff" stroke-width="1.1"/>
<circle cx="226.8" cy="256.4" r="1.9" fill="#fff" fill-opacity="0.45" stroke="#ff00ff" stroke-width="1.1"/>
<circle cx="232.7" cy="256.0" r="1.9" fill="#fff" fill-opacity="0.45" stroke="#ff00ff" stroke-width="1.1"/>
<circle cx="236.4" cy="256.4" r="1.9" fill="#fff" fill-opacity="0.45" stroke="#ff00ff" stroke-width="1.1"/>
<circle cx="230.5" cy="259.4" r="1.9" fill="#fff" fill-opacity="0.45" stroke="#ff00ff" stroke-width="1.1"/>
<circle cx="235.7" cy="260.8" r="1.9" fill="#fff" fill-opacity="0.45" stroke="#ff00ff" stroke-width="1.1"/>
<circle cx="229.1" cy="263.0" r="1.9" fill="#fff" fill-opacity="0.45" stroke="#ff00ff" stroke-width="1.1"/>
<circle cx="226.8" cy="265.7" r="1.9" fill="#fff" fill-opacity="0.45" stroke="#ff00ff" stroke-width="1.1"/>
<circle cx="231.3" cy="265.3" r="1.9" fill="#fff" fill-opacity="0.45" stroke="#ff00ff" stroke-width="1.1"/>
<circle cx="234.5" cy="266.7" r="1.9" fill="#fff" fill-opacity="0.45" stroke="#ff00ff" stroke-width="1.1"/>
<circle cx="233.5" cy="280.4" r="1.9" fill="#fff" fill-opacity="0.45" stroke="#ff00ff" stroke-width="1.1"/>
<line x1="221.7" y1="249.5" x2="240.9" y2="249.5" stroke="#2a2a2a" stroke-width="1.4"/>
<polygon points="228.30,198.55 228.86,200.53 230.92,200.45 229.20,201.59 229.92,203.52 228.30,202.25 226.68,203.52 227.40,201.59 225.68,200.45 227.74,200.53" fill="#222" stroke="#222" stroke-width="0.45" stroke-linejoin="round"/>
<polygon points="235.10,198.55 235.66,200.53 237.72,200.45 236.00,201.59 236.72,203.52 235.10,202.25 233.48,203.52 234.20,201.59 232.48,200.45 234.54,200.53" fill="#222" stroke="#222" stroke-width="0.45" stroke-linejoin="round"/>
<line x1="260.4" y1="225.8" x2="260.4" y2="271.1" stroke="#111" stroke-width="1.2"/>
<line x1="254.9" y1="225.8" x2="265.9" y2="225.8" stroke="#111" stroke-width="1.2"/>
<line x1="254.9" y1="271.1" x2="265.9" y2="271.1" stroke="#111" stroke-width="1.2"/>
<rect x="250.1" y="245.0" width="20.6" height="14.7" fill="#ffebcc" stroke="#ff9900" stroke-width="1.6"/>
<circle cx="261.4" cy="225.6" r="1.9" fill="#fff" fill-opacity="0.45" stroke="#ff9900" stroke-width="1.1"/>
<circle cx="263.5" cy="233.6" r="1.9" fill="#fff" fill-opacity="0.45" stroke="#ff9900" stroke-width="1.1"/>
<circle cx="254.3" cy="236.8" r="1.9" fill="#fff" fill-opacity="0.45" stroke="#ff9900" stroke-width="1.1"/>
<circle cx="255.0" cy="240.4" r="1.9" fill="#fff" fill-opacity="0.45" stroke="#ff9900" stroke-width="1.1"/>
<circle cx="257.8" cy="242.1" r="1.9" fill="#fff" fill-opacity="0.45" stroke="#ff9900" stroke-width="1.1"/>
<circle cx="264.6" cy="242.7" r="1.9" fill="#fff" fill-opacity="0.45" stroke="#ff9900" stroke-width="1.1"/>
<circle cx="255.2" cy="243.9" r="1.9" fill="#fff" fill-opacity="0.45" stroke="#ff9900" stroke-width="1.1"/>
<circle cx="258.8" cy="246.2" r="1.9" fill="#fff" fill-opacity="0.45" stroke="#ff9900" stroke-width="1.1"/>
<circle cx="262.3" cy="247.4" r="1.9" fill="#fff" fill-opacity="0.45" stroke="#ff9900" stroke-width="1.1"/>
<circle cx="255.2" cy="251.2" r="1.9" fill="#fff" fill-opacity="0.45" stroke="#ff9900" stroke-width="1.1"/>
<circle cx="263.5" cy="249.8" r="1.9" fill="#fff" fill-opacity="0.45" stroke="#ff9900" stroke-width="1.1"/>
<circle cx="261.7" cy="252.7" r="1.9" fill="#fff" fill-opacity="0.45" stroke="#ff9900" stroke-width="1.1"/>
<circle cx="265.8" cy="253.3" r="1.9" fill="#fff" fill-opacity="0.45" stroke="#ff9900" stroke-width="1.1"/>
<circle cx="262.3" cy="256.2" r="1.9" fill="#fff" fill-opacity="0.45" stroke="#ff9900" stroke-width="1.1"/>
<circle cx="255.8" cy="258.0" r="1.9" fill="#fff" fill-opacity="0.45" stroke="#ff9900" stroke-width="1.1"/>
<circle cx="258.2" cy="258.6" r="1.9" fill="#fff" fill-opacity="0.45" stroke="#ff9900" stroke-width="1.1"/>
<circle cx="258.8" cy="262.1" r="1.9" fill="#fff" fill-opacity="0.45" stroke="#ff9900" stroke-width="1.1"/>
<circle cx="257.0" cy="266.8" r="1.9" fill="#fff" fill-opacity="0.45" stroke="#ff9900" stroke-width="1.1"/>
<circle cx="262.9" cy="265.1" r="1.9" fill="#fff" fill-opacity="0.45" stroke="#ff9900" stroke-width="1.1"/>
<circle cx="264.6" cy="266.2" r="1.9" fill="#fff" fill-opacity="0.45" stroke="#ff9900" stroke-width="1.1"/>
<circle cx="263.5" cy="268.0" r="1.9" fill="#fff" fill-opacity="0.45" stroke="#ff9900" stroke-width="1.1"/>
<circle cx="261.1" cy="272.1" r="1.9" fill="#fff" fill-opacity="0.45" stroke="#ff9900" stroke-width="1.1"/>
<line x1="250.8" y1="252.5" x2="270.0" y2="252.5" stroke="#2a2a2a" stroke-width="1.4"/>
<polygon points="257.40,207.35 257.96,209.33 260.02,209.25 258.30,210.39 259.02,212.32 257.40,211.05 255.78,212.32 256.50,210.39 254.78,209.25 256.84,209.33" fill="#222" stroke="#222" stroke-width="0.45" stroke-linejoin="round"/>
<polygon points="264.20,207.35 264.76,209.33 266.82,209.25 265.10,210.39 265.82,212.32 264.20,211.05 262.58,212.32 263.30,210.39 261.58,209.25 263.64,209.33" fill="#222" stroke="#222" stroke-width="0.45" stroke-linejoin="round"/>
<line x1="289.6" y1="214.4" x2="289.6" y2="269.8" stroke="#111" stroke-width="1.2"/>
<line x1="284.1" y1="214.4" x2="295.1" y2="214.4" stroke="#111" stroke-width="1.2"/>
<line x1="284.1" y1="269.8" x2="295.1" y2="269.8" stroke="#111" stroke-width="1.2"/>
<rect x="279.3" y="229.5" width="20.6" height="21.9" fill="#cce0ff" stroke="#0066ff" stroke-width="1.6"/>
<circle cx="295.4" cy="193.9" r="1.9" fill="#fff" fill-opacity="0.45" stroke="#0066ff" stroke-width="1.1"/>
<circle cx="285.3" cy="216.7" r="1.9" fill="#fff" fill-opacity="0.45" stroke="#0066ff" stroke-width="1.1"/>
<circle cx="287.0" cy="215.8" r="1.9" fill="#fff" fill-opacity="0.45" stroke="#0066ff" stroke-width="1.1"/>
<circle cx="291.2" cy="215.0" r="1.9" fill="#fff" fill-opacity="0.45" stroke="#0066ff" stroke-width="1.1"/>
<circle cx="292.5" cy="214.1" r="1.9" fill="#fff" fill-opacity="0.45" stroke="#0066ff" stroke-width="1.1"/>
<circle cx="285.8" cy="223.8" r="1.9" fill="#fff" fill-opacity="0.45" stroke="#0066ff" stroke-width="1.1"/>
<circle cx="288.6" cy="224.8" r="1.9" fill="#fff" fill-opacity="0.45" stroke="#0066ff" stroke-width="1.1"/>
<circle cx="286.1" cy="232.2" r="1.9" fill="#fff" fill-opacity="0.45" stroke="#0066ff" stroke-width="1.1"/>
<circle cx="287.8" cy="233.9" r="1.9" fill="#fff" fill-opacity="0.45" stroke="#0066ff" stroke-width="1.1"/>
<circle cx="292.5" cy="231.8" r="1.9" fill="#fff" fill-opacity="0.45" stroke="#0066ff" stroke-width="1.1"/>
<circle cx="285.3" cy="238.6" r="1.9" fill="#fff" fill-opacity="0.45" stroke="#0066ff" stroke-width="1.1"/>
<circle cx="287.5" cy="245.3" r="1.9" fill="#fff" fill-opacity="0.45" stroke="#0066ff" stroke-width="1.1"/>
<circle cx="292.0" cy="243.6" r="1.9" fill="#fff" fill-opacity="0.45" stroke="#0066ff" stroke-width="1.1"/>
<circle cx="294.2" cy="244.5" r="1.9" fill="#fff" fill-opacity="0.45" stroke="#0066ff" stroke-width="1.1"/>
<circle cx="286.1" cy="248.7" r="1.9" fill="#fff" fill-opacity="0.45" stroke="#0066ff" stroke-width="1.1"/>
<circle cx="289.5" cy="247.9" r="1.9" fill="#fff" fill-opacity="0.45" stroke="#0066ff" stroke-width="1.1"/>
<circle cx="292.9" cy="249.6" r="1.9" fill="#fff" fill-opacity="0.45" stroke="#0066ff" stroke-width="1.1"/>
<circle cx="294.5" cy="251.2" r="1.9" fill="#fff" fill-opacity="0.45" stroke="#0066ff" stroke-width="1.1"/>
<circle cx="285.3" cy="252.9" r="1.9" fill="#fff" fill-opacity="0.45" stroke="#0066ff" stroke-width="1.1"/>
<circle cx="287.8" cy="257.1" r="1.9" fill="#fff" fill-opacity="0.45" stroke="#0066ff" stroke-width="1.1"/>
<circle cx="284.1" cy="260.8" r="1.9" fill="#fff" fill-opacity="0.45" stroke="#0066ff" stroke-width="1.1"/>
<circle cx="284.8" cy="265.9" r="1.9" fill="#fff" fill-opacity="0.45" stroke="#0066ff" stroke-width="1.1"/>
<circle cx="292.0" cy="269.8" r="1.9" fill="#fff" fill-opacity="0.45" stroke="#0066ff" stroke-width="1.1"/>
<line x1="280.0" y1="247.6" x2="299.2" y2="247.6" stroke="#2a2a2a" stroke-width="1.4"/>
<polygon points="286.60,175.55 287.16,177.53 289.22,177.45 287.50,178.59 288.22,180.52 286.60,179.25 284.98,180.52 285.70,178.59 283.98,177.45 286.04,177.53" fill="#222" stroke="#222" stroke-width="0.45" stroke-linejoin="round"/>
<polygon points="293.40,175.55 293.96,177.53 296.02,177.45 294.30,178.59 295.02,180.52 293.40,179.25 291.78,180.52 292.50,178.59 290.78,177.45 292.84,177.53" fill="#222" stroke="#222" stroke-width="0.45" stroke-linejoin="round"/>
<line x1="318.8" y1="225.4" x2="318.8" y2="271.9" stroke="#111" stroke-width="1.2"/>
<line x1="313.3" y1="225.4" x2="324.3" y2="225.4" stroke="#111" stroke-width="1.2"/>
<line x1="313.3" y1="271.9" x2="324.3" y2="271.9" stroke="#111" stroke-width="1.2"/>
<rect x="308.5" y="243.0" width="20.6" height="13.3" fill="#d6f5cc" stroke="#33cc00" stroke-width="1.6"/>
<circle cx="312.9" cy="226.1" r="1.9" fill="#fff" fill-opacity="0.45" stroke="#33cc00" stroke-width="1.1"/>
<circle cx="316.6" cy="225.0" r="1.9" fill="#fff" fill-opacity="0.45" stroke="#33cc00" stroke-width="1.1"/>
<circle cx="314.9" cy="233.0" r="1.9" fill="#fff" fill-opacity="0.45" stroke="#33cc00" stroke-width="1.1"/>
<circle cx="321.5" cy="233.0" r="1.9" fill="#fff" fill-opacity="0.45" stroke="#33cc00" stroke-width="1.1"/>
<circle cx="318.8" cy="233.8" r="1.9" fill="#fff" fill-opacity="0.45" stroke="#33cc00" stroke-width="1.1"/>
<circle cx="316.6" cy="237.6" r="1.9" fill="#fff" fill-opacity="0.45" stroke="#33cc00" stroke-width="1.1"/>
<circle cx="313.3" cy="239.8" r="1.9" fill="#fff" fill-opacity="0.45" stroke="#33cc00" stroke-width="1.1"/>
<circle cx="316.0" cy="244.8" r="1.9" fill="#fff" fill-opacity="0.45" stroke="#33cc00" stroke-width="1.1"/>
<circle cx="317.7" cy="245.9" r="1.9" fill="#fff" fill-opacity="0.45" stroke="#33cc00" stroke-width="1.1"/>
<circle cx="315.5" cy="248.4" r="1.9" fill="#fff" fill-opacity="0.45" stroke="#33cc00" stroke-width="1.1"/>
<circle cx="317.1" cy="249.8" r="1.9" fill="#fff" fill-opacity="0.45" stroke="#33cc00" stroke-width="1.1"/>
<circle cx="316.0" cy="251.4" r="1.9" fill="#fff" fill-opacity="0.45" stroke="#33cc00" stroke-width="1.1"/>
<circle cx="319.3" cy="250.9" r="1.9" fill="#fff" fill-opacity="0.45" stroke="#33cc00" stroke-width="1.1"/>
<circle cx="322.6" cy="251.1" r="1.9" fill="#fff" fill-opacity="0.45" stroke="#33cc00" stroke-width="1.1"/>
<circle cx="317.1" cy="253.6" r="1.9" fill="#fff" fill-opacity="0.45" stroke="#33cc00" stroke-width="1.1"/>
<circle cx="322.6" cy="255.3" r="1.9" fill="#fff" fill-opacity="0.45" stroke="#33cc00" stroke-width="1.1"/>
<circle cx="313.3" cy="258.6" r="1.9" fill="#fff" fill-opacity="0.45" stroke="#33cc00" stroke-width="1.1"/>
<circle cx="320.4" cy="258.0" r="1.9" fill="#fff" fill-opacity="0.45" stroke="#33cc00" stroke-width="1.1"/>
<circle cx="324.3" cy="259.1" r="1.9" fill="#fff" fill-opacity="0.45" stroke="#33cc00" stroke-width="1.1"/>
<circle cx="312.7" cy="261.3" r="1.9" fill="#fff" fill-opacity="0.45" stroke="#33cc00" stroke-width="1.1"/>
<circle cx="324.8" cy="264.7" r="1.9" fill="#fff" fill-opacity="0.45" stroke="#33cc00" stroke-width="1.1"/>
<circle cx="321.5" cy="271.8" r="1.9" fill="#fff" fill-opacity="0.45" stroke="#33cc00" stroke-width="1.1"/>
<line x1="309.2" y1="250.7" x2="328.4" y2="250.7" stroke="#2a2a2a" stroke-width="1.4"/>
<polygon points="315.80,206.45 316.36,208.43 318.42,208.35 316.70,209.49 317.42,211.42 315.80,210.15 314.18,211.42 314.90,209.49 313.18,208.35 315.24,208.43" fill="#222" stroke="#222" stroke-width="0.45" stroke-linejoin="round"/>
<polygon points="322.60,206.45 323.16,208.43 325.22,208.35 323.50,209.49 324.22,211.42 322.60,210.15 320.98,211.42 321.70,209.49 319.98,208.35 322.04,208.43" fill="#222" stroke="#222" stroke-width="0.45" stroke-linejoin="round"/>
<line x1="217.8" y1="260.8" x2="334.6" y2="260.8" stroke="#000" stroke-width="1.35" stroke-dasharray="1.35 1.45"/>
<path d="M232.1 180.6 H261.2  M289.6 170.2 H318.5" fill="none" stroke="#7a7a7a" stroke-width="1.4"/>
<path d="M246 180.6 V165.3 H305.6 V170.2 " fill="none" stroke="#333" stroke-width="1.05"/>
<text x="275.8" y="163.1" font-size="10" text-anchor="middle" font-weight="normal" fill="#2a2a2a" font-style="italic" letter-spacing="0.3">##</text>
<path d="M400.3 169.4 V296.0 H518.3" fill="none" stroke="#151515" stroke-width="1.3"/>
<line x1="400.3" y1="188.7" x2="402.3" y2="188.7" stroke="#151515" stroke-width="1"/>
<line x1="400.3" y1="212.7" x2="402.3" y2="212.7" stroke="#151515" stroke-width="1"/>
<line x1="400.3" y1="236.8" x2="402.3" y2="236.8" stroke="#151515" stroke-width="1"/>
<line x1="400.3" y1="260.8" x2="402.3" y2="260.8" stroke="#151515" stroke-width="1"/>
<line x1="400.3" y1="284.8" x2="402.3" y2="284.8" stroke="#151515" stroke-width="1"/>
<text x="395.7" y="218.7" font-size="10" text-anchor="end" font-weight="normal" fill="#222" stroke="#222" stroke-width="0.18">0.3</text>
<text x="395.7" y="266.5" font-size="10" text-anchor="end" font-weight="normal" fill="#222" stroke="#222" stroke-width="0.18">0</text>
<text x="0" y="0" font-size="10" text-anchor="middle" fill="#222" stroke="#222" stroke-width="0.18" transform="translate(375.3 232.5) rotate(-90)">Discrimination Index</text>
<line x1="415.0" y1="296.0" x2="415.0" y2="294.0" stroke="#151515" stroke-width="1"/>
<text x="414.6" y="310.8" font-size="10" text-anchor="middle" font-weight="normal" fill="#222" stroke="#222" stroke-width="0.18">TT</text>
<line x1="444.1" y1="296.0" x2="444.1" y2="294.0" stroke="#151515" stroke-width="1"/>
<text x="443.7" y="310.8" font-size="10" text-anchor="middle" font-weight="normal" fill="#222" stroke="#222" stroke-width="0.18">VV</text>
<line x1="473.3" y1="296.0" x2="473.3" y2="294.0" stroke="#151515" stroke-width="1"/>
<text x="472.9" y="310.8" font-size="10" text-anchor="middle" font-weight="normal" fill="#222" stroke="#222" stroke-width="0.18">TV</text>
<line x1="502.5" y1="296.0" x2="502.5" y2="294.0" stroke="#151515" stroke-width="1"/>
<text x="502.1" y="310.8" font-size="10" text-anchor="middle" font-weight="normal" fill="#222" stroke="#222" stroke-width="0.18">VT</text>
<text x="456.2" y="144.9" font-size="10" text-anchor="middle" font-weight="normal" fill="#222" stroke="#222" stroke-width="0.18">dlPFC</text>
<line x1="415.0" y1="240.2" x2="415.0" y2="285.5" stroke="#111" stroke-width="1.2"/>
<line x1="409.5" y1="240.2" x2="420.5" y2="240.2" stroke="#111" stroke-width="1.2"/>
<line x1="409.5" y1="285.5" x2="420.5" y2="285.5" stroke="#111" stroke-width="1.2"/>
<rect x="404.7" y="251.2" width="20.6" height="16.6" fill="#ffccff" stroke="#ff00ff" stroke-width="1.6"/>
<circle cx="416.7" cy="225.7" r="1.9" fill="#fff" fill-opacity="0.45" stroke="#ff00ff" stroke-width="1.1"/>
<circle cx="419.1" cy="240.0" r="1.9" fill="#fff" fill-opacity="0.45" stroke="#ff00ff" stroke-width="1.1"/>
<circle cx="418.0" cy="243.3" r="1.9" fill="#fff" fill-opacity="0.45" stroke="#ff00ff" stroke-width="1.1"/>
<circle cx="420.7" cy="244.0" r="1.9" fill="#fff" fill-opacity="0.45" stroke="#ff00ff" stroke-width="1.1"/>
<circle cx="418.7" cy="245.3" r="1.9" fill="#fff" fill-opacity="0.45" stroke="#ff00ff" stroke-width="1.1"/>
<circle cx="413.3" cy="250.0" r="1.9" fill="#fff" fill-opacity="0.45" stroke="#ff00ff" stroke-width="1.1"/>
<circle cx="420.7" cy="250.0" r="1.9" fill="#fff" fill-opacity="0.45" stroke="#ff00ff" stroke-width="1.1"/>
<circle cx="408.0" cy="253.3" r="1.9" fill="#fff" fill-opacity="0.45" stroke="#ff00ff" stroke-width="1.1"/>
<circle cx="411.3" cy="254.0" r="1.9" fill="#fff" fill-opacity="0.45" stroke="#ff00ff" stroke-width="1.1"/>
<circle cx="414.7" cy="253.7" r="1.9" fill="#fff" fill-opacity="0.45" stroke="#ff00ff" stroke-width="1.1"/>
<circle cx="417.3" cy="253.3" r="1.9" fill="#fff" fill-opacity="0.45" stroke="#ff00ff" stroke-width="1.1"/>
<circle cx="410.7" cy="256.7" r="1.9" fill="#fff" fill-opacity="0.45" stroke="#ff00ff" stroke-width="1.1"/>
<circle cx="415.3" cy="256.9" r="1.9" fill="#fff" fill-opacity="0.45" stroke="#ff00ff" stroke-width="1.1"/>
<circle cx="418.7" cy="256.7" r="1.9" fill="#fff" fill-opacity="0.45" stroke="#ff00ff" stroke-width="1.1"/>
<circle cx="409.3" cy="259.3" r="1.9" fill="#fff" fill-opacity="0.45" stroke="#ff00ff" stroke-width="1.1"/>
<circle cx="412.7" cy="260.0" r="1.9" fill="#fff" fill-opacity="0.45" stroke="#ff00ff" stroke-width="1.1"/>
<circle cx="416.0" cy="259.6" r="1.9" fill="#fff" fill-opacity="0.45" stroke="#ff00ff" stroke-width="1.1"/>
<circle cx="410.7" cy="262.0" r="1.9" fill="#fff" fill-opacity="0.45" stroke="#ff00ff" stroke-width="1.1"/>
<circle cx="414.0" cy="261.7" r="1.9" fill="#fff" fill-opacity="0.45" stroke="#ff00ff" stroke-width="1.1"/>
<circle cx="418.0" cy="262.0" r="1.9" fill="#fff" fill-opacity="0.45" stroke="#ff00ff" stroke-width="1.1"/>
<circle cx="413.3" cy="268.0" r="1.9" fill="#fff" fill-opacity="0.45" stroke="#ff00ff" stroke-width="1.1"/>
<circle cx="415.3" cy="268.4" r="1.9" fill="#fff" fill-opacity="0.45" stroke="#ff00ff" stroke-width="1.1"/>
<circle cx="410.7" cy="271.1" r="1.9" fill="#fff" fill-opacity="0.45" stroke="#ff00ff" stroke-width="1.1"/>
<circle cx="412.7" cy="272.0" r="1.9" fill="#fff" fill-opacity="0.45" stroke="#ff00ff" stroke-width="1.1"/>
<circle cx="412.0" cy="274.7" r="1.9" fill="#fff" fill-opacity="0.45" stroke="#ff00ff" stroke-width="1.1"/>
<circle cx="412.7" cy="276.7" r="1.9" fill="#fff" fill-opacity="0.45" stroke="#ff00ff" stroke-width="1.1"/>
<circle cx="417.7" cy="276.4" r="1.9" fill="#fff" fill-opacity="0.45" stroke="#ff00ff" stroke-width="1.1"/>
<circle cx="418.0" cy="284.7" r="1.9" fill="#fff" fill-opacity="0.45" stroke="#ff00ff" stroke-width="1.1"/>
<line x1="405.4" y1="256.8" x2="424.6" y2="256.8" stroke="#2a2a2a" stroke-width="1.4"/>
<line x1="444.1" y1="242.8" x2="444.1" y2="274.7" stroke="#111" stroke-width="1.2"/>
<line x1="438.6" y1="242.8" x2="449.6" y2="242.8" stroke="#111" stroke-width="1.2"/>
<line x1="438.6" y1="274.7" x2="449.6" y2="274.7" stroke="#111" stroke-width="1.2"/>
<rect x="433.8" y="255.6" width="20.6" height="9.4" fill="#ffebcc" stroke="#ff9900" stroke-width="1.6"/>
<circle cx="442.8" cy="242.5" r="1.9" fill="#fff" fill-opacity="0.45" stroke="#ff9900" stroke-width="1.1"/>
<circle cx="447.0" cy="246.5" r="1.9" fill="#fff" fill-opacity="0.45" stroke="#ff9900" stroke-width="1.1"/>
<circle cx="445.2" cy="252.2" r="1.9" fill="#fff" fill-opacity="0.45" stroke="#ff9900" stroke-width="1.1"/>
<circle cx="447.5" cy="253.1" r="1.9" fill="#fff" fill-opacity="0.45" stroke="#ff9900" stroke-width="1.1"/>
<circle cx="448.9" cy="254.0" r="1.9" fill="#fff" fill-opacity="0.45" stroke="#ff9900" stroke-width="1.1"/>
<circle cx="441.4" cy="255.5" r="1.9" fill="#fff" fill-opacity="0.45" stroke="#ff9900" stroke-width="1.1"/>
<circle cx="444.2" cy="255.9" r="1.9" fill="#fff" fill-opacity="0.45" stroke="#ff9900" stroke-width="1.1"/>
<circle cx="446.6" cy="256.4" r="1.9" fill="#fff" fill-opacity="0.45" stroke="#ff9900" stroke-width="1.1"/>
<circle cx="436.7" cy="257.8" r="1.9" fill="#fff" fill-opacity="0.45" stroke="#ff9900" stroke-width="1.1"/>
<circle cx="439.0" cy="258.3" r="1.9" fill="#fff" fill-opacity="0.45" stroke="#ff9900" stroke-width="1.1"/>
<circle cx="448.0" cy="257.8" r="1.9" fill="#fff" fill-opacity="0.45" stroke="#ff9900" stroke-width="1.1"/>
<circle cx="450.8" cy="258.3" r="1.9" fill="#fff" fill-opacity="0.45" stroke="#ff9900" stroke-width="1.1"/>
<circle cx="436.7" cy="260.6" r="1.9" fill="#fff" fill-opacity="0.45" stroke="#ff9900" stroke-width="1.1"/>
<circle cx="439.5" cy="260.6" r="1.9" fill="#fff" fill-opacity="0.45" stroke="#ff9900" stroke-width="1.1"/>
<circle cx="442.3" cy="260.6" r="1.9" fill="#fff" fill-opacity="0.45" stroke="#ff9900" stroke-width="1.1"/>
<circle cx="445.2" cy="260.6" r="1.9" fill="#fff" fill-opacity="0.45" stroke="#ff9900" stroke-width="1.1"/>
<circle cx="448.9" cy="260.6" r="1.9" fill="#fff" fill-opacity="0.45" stroke="#ff9900" stroke-width="1.1"/>
<circle cx="451.8" cy="260.6" r="1.9" fill="#fff" fill-opacity="0.45" stroke="#ff9900" stroke-width="1.1"/>
<circle cx="443.3" cy="263.5" r="1.9" fill="#fff" fill-opacity="0.45" stroke="#ff9900" stroke-width="1.1"/>
<circle cx="446.1" cy="263.9" r="1.9" fill="#fff" fill-opacity="0.45" stroke="#ff9900" stroke-width="1.1"/>
<circle cx="443.3" cy="266.3" r="1.9" fill="#fff" fill-opacity="0.45" stroke="#ff9900" stroke-width="1.1"/>
<circle cx="441.8" cy="269.1" r="1.9" fill="#fff" fill-opacity="0.45" stroke="#ff9900" stroke-width="1.1"/>
<circle cx="440.4" cy="270.5" r="1.9" fill="#fff" fill-opacity="0.45" stroke="#ff9900" stroke-width="1.1"/>
<circle cx="439.0" cy="272.0" r="1.9" fill="#fff" fill-opacity="0.45" stroke="#ff9900" stroke-width="1.1"/>
<circle cx="444.7" cy="274.8" r="1.9" fill="#fff" fill-opacity="0.45" stroke="#ff9900" stroke-width="1.1"/>
<circle cx="440.4" cy="279.0" r="1.9" fill="#fff" fill-opacity="0.45" stroke="#ff9900" stroke-width="1.1"/>
<circle cx="440.0" cy="281.9" r="1.9" fill="#fff" fill-opacity="0.45" stroke="#ff9900" stroke-width="1.1"/>
<line x1="434.5" y1="259.4" x2="453.7" y2="259.4" stroke="#2a2a2a" stroke-width="1.4"/>
<line x1="473.3" y1="232.1" x2="473.3" y2="277.3" stroke="#111" stroke-width="1.2"/>
<line x1="467.8" y1="232.1" x2="478.8" y2="232.1" stroke="#111" stroke-width="1.2"/>
<line x1="467.8" y1="277.3" x2="478.8" y2="277.3" stroke="#111" stroke-width="1.2"/>
<rect x="463.0" y="240.8" width="20.6" height="16.0" fill="#cce0ff" stroke="#0066ff" stroke-width="1.6"/>
<circle cx="478.9" cy="209.8" r="1.9" fill="#fff" fill-opacity="0.45" stroke="#0066ff" stroke-width="1.1"/>
<circle cx="467.6" cy="233.5" r="1.9" fill="#fff" fill-opacity="0.45" stroke="#0066ff" stroke-width="1.1"/>
<circle cx="478.2" cy="232.2" r="1.9" fill="#fff" fill-opacity="0.45" stroke="#0066ff" stroke-width="1.1"/>
<circle cx="468.3" cy="238.6" r="1.9" fill="#fff" fill-opacity="0.45" stroke="#0066ff" stroke-width="1.1"/>
<circle cx="477.9" cy="239.1" r="1.9" fill="#fff" fill-opacity="0.45" stroke="#0066ff" stroke-width="1.1"/>
<circle cx="470.6" cy="243.6" r="1.9" fill="#fff" fill-opacity="0.45" stroke="#0066ff" stroke-width="1.1"/>
<circle cx="474.4" cy="244.0" r="1.9" fill="#fff" fill-opacity="0.45" stroke="#0066ff" stroke-width="1.1"/>
<circle cx="476.6" cy="244.7" r="1.9" fill="#fff" fill-opacity="0.45" stroke="#0066ff" stroke-width="1.1"/>
<circle cx="479.7" cy="244.0" r="1.9" fill="#fff" fill-opacity="0.45" stroke="#0066ff" stroke-width="1.1"/>
<circle cx="469.8" cy="245.9" r="1.9" fill="#fff" fill-opacity="0.45" stroke="#0066ff" stroke-width="1.1"/>
<circle cx="472.9" cy="246.6" r="1.9" fill="#fff" fill-opacity="0.45" stroke="#0066ff" stroke-width="1.1"/>
<circle cx="475.1" cy="246.2" r="1.9" fill="#fff" fill-opacity="0.45" stroke="#0066ff" stroke-width="1.1"/>
<circle cx="472.1" cy="248.9" r="1.9" fill="#fff" fill-opacity="0.45" stroke="#0066ff" stroke-width="1.1"/>
<circle cx="475.9" cy="249.2" r="1.9" fill="#fff" fill-opacity="0.45" stroke="#0066ff" stroke-width="1.1"/>
<circle cx="468.3" cy="251.2" r="1.9" fill="#fff" fill-opacity="0.45" stroke="#0066ff" stroke-width="1.1"/>
<circle cx="470.6" cy="253.4" r="1.9" fill="#fff" fill-opacity="0.45" stroke="#0066ff" stroke-width="1.1"/>
<circle cx="474.4" cy="252.7" r="1.9" fill="#fff" fill-opacity="0.45" stroke="#0066ff" stroke-width="1.1"/>
<circle cx="478.2" cy="253.1" r="1.9" fill="#fff" fill-opacity="0.45" stroke="#0066ff" stroke-width="1.1"/>
<circle cx="469.8" cy="256.5" r="1.9" fill="#fff" fill-opacity="0.45" stroke="#0066ff" stroke-width="1.1"/>
<circle cx="476.6" cy="257.2" r="1.9" fill="#fff" fill-opacity="0.45" stroke="#0066ff" stroke-width="1.1"/>
<circle cx="471.4" cy="258.7" r="1.9" fill="#fff" fill-opacity="0.45" stroke="#0066ff" stroke-width="1.1"/>
<circle cx="473.6" cy="259.5" r="1.9" fill="#fff" fill-opacity="0.45" stroke="#0066ff" stroke-width="1.1"/>
<circle cx="469.1" cy="261.8" r="1.9" fill="#fff" fill-opacity="0.45" stroke="#0066ff" stroke-width="1.1"/>
<circle cx="471.8" cy="268.3" r="1.9" fill="#fff" fill-opacity="0.45" stroke="#0066ff" stroke-width="1.1"/>
<circle cx="469.1" cy="277.6" r="1.9" fill="#fff" fill-opacity="0.45" stroke="#0066ff" stroke-width="1.1"/>
<line x1="463.7" y1="248.4" x2="482.9" y2="248.4" stroke="#2a2a2a" stroke-width="1.4"/>
<polygon points="470.30,191.45 470.86,193.43 472.92,193.35 471.20,194.49 471.92,196.42 470.30,195.15 468.68,196.42 469.40,194.49 467.68,193.35 469.74,193.43" fill="#222" stroke="#222" stroke-width="0.45" stroke-linejoin="round"/>
<polygon points="477.10,191.45 477.66,193.43 479.72,193.35 478.00,194.49 478.72,196.42 477.10,195.15 475.48,196.42 476.20,194.49 474.48,193.35 476.54,193.43" fill="#222" stroke="#222" stroke-width="0.45" stroke-linejoin="round"/>
<line x1="502.5" y1="236.9" x2="502.5" y2="273.4" stroke="#111" stroke-width="1.2"/>
<line x1="497.0" y1="236.9" x2="508.0" y2="236.9" stroke="#111" stroke-width="1.2"/>
<line x1="497.0" y1="273.4" x2="508.0" y2="273.4" stroke="#111" stroke-width="1.2"/>
<rect x="492.2" y="250.5" width="20.6" height="9.4" fill="#d6f5cc" stroke="#33cc00" stroke-width="1.6"/>
<circle cx="504.3" cy="219.3" r="1.9" fill="#fff" fill-opacity="0.45" stroke="#33cc00" stroke-width="1.1"/>
<circle cx="505.3" cy="236.6" r="1.9" fill="#fff" fill-opacity="0.45" stroke="#33cc00" stroke-width="1.1"/>
<circle cx="498.4" cy="240.6" r="1.9" fill="#fff" fill-opacity="0.45" stroke="#33cc00" stroke-width="1.1"/>
<circle cx="500.3" cy="242.9" r="1.9" fill="#fff" fill-opacity="0.45" stroke="#33cc00" stroke-width="1.1"/>
<circle cx="500.9" cy="248.5" r="1.9" fill="#fff" fill-opacity="0.45" stroke="#33cc00" stroke-width="1.1"/>
<circle cx="504.1" cy="248.2" r="1.9" fill="#fff" fill-opacity="0.45" stroke="#33cc00" stroke-width="1.1"/>
<circle cx="506.6" cy="248.5" r="1.9" fill="#fff" fill-opacity="0.45" stroke="#33cc00" stroke-width="1.1"/>
<circle cx="496.5" cy="251.3" r="1.9" fill="#fff" fill-opacity="0.45" stroke="#33cc00" stroke-width="1.1"/>
<circle cx="499.0" cy="251.3" r="1.9" fill="#fff" fill-opacity="0.45" stroke="#33cc00" stroke-width="1.1"/>
<circle cx="502.2" cy="251.3" r="1.9" fill="#fff" fill-opacity="0.45" stroke="#33cc00" stroke-width="1.1"/>
<circle cx="505.3" cy="251.3" r="1.9" fill="#fff" fill-opacity="0.45" stroke="#33cc00" stroke-width="1.1"/>
<circle cx="509.7" cy="251.3" r="1.9" fill="#fff" fill-opacity="0.45" stroke="#33cc00" stroke-width="1.1"/>
<circle cx="498.4" cy="254.2" r="1.9" fill="#fff" fill-opacity="0.45" stroke="#33cc00" stroke-width="1.1"/>
<circle cx="502.8" cy="254.0" r="1.9" fill="#fff" fill-opacity="0.45" stroke="#33cc00" stroke-width="1.1"/>
<circle cx="507.8" cy="254.5" r="1.9" fill="#fff" fill-opacity="0.45" stroke="#33cc00" stroke-width="1.1"/>
<circle cx="496.5" cy="257.3" r="1.9" fill="#fff" fill-opacity="0.45" stroke="#33cc00" stroke-width="1.1"/>
<circle cx="500.9" cy="257.3" r="1.9" fill="#fff" fill-opacity="0.45" stroke="#33cc00" stroke-width="1.1"/>
<circle cx="505.3" cy="257.3" r="1.9" fill="#fff" fill-opacity="0.45" stroke="#33cc00" stroke-width="1.1"/>
<circle cx="509.7" cy="257.3" r="1.9" fill="#fff" fill-opacity="0.45" stroke="#33cc00" stroke-width="1.1"/>
<circle cx="498.4" cy="262.4" r="1.9" fill="#fff" fill-opacity="0.45" stroke="#33cc00" stroke-width="1.1"/>
<circle cx="501.6" cy="262.0" r="1.9" fill="#fff" fill-opacity="0.45" stroke="#33cc00" stroke-width="1.1"/>
<circle cx="507.2" cy="262.4" r="1.9" fill="#fff" fill-opacity="0.45" stroke="#33cc00" stroke-width="1.1"/>
<circle cx="499.0" cy="264.3" r="1.9" fill="#fff" fill-opacity="0.45" stroke="#33cc00" stroke-width="1.1"/>
<circle cx="505.3" cy="265.5" r="1.9" fill="#fff" fill-opacity="0.45" stroke="#33cc00" stroke-width="1.1"/>
<circle cx="502.8" cy="273.7" r="1.9" fill="#fff" fill-opacity="0.45" stroke="#33cc00" stroke-width="1.1"/>
<line x1="492.9" y1="257.6" x2="512.1" y2="257.6" stroke="#2a2a2a" stroke-width="1.4"/>
<polygon points="499.50,200.85 500.06,202.83 502.12,202.75 500.40,203.89 501.12,205.82 499.50,204.55 497.88,205.82 498.60,203.89 496.88,202.75 498.94,202.83" fill="#222" stroke="#222" stroke-width="0.45" stroke-linejoin="round"/>
<polygon points="506.30,200.85 506.86,202.83 508.92,202.75 507.20,203.89 507.92,205.82 506.30,204.55 504.68,205.82 505.40,203.89 503.68,202.75 505.74,202.83" fill="#222" stroke="#222" stroke-width="0.45" stroke-linejoin="round"/>
<line x1="401.5" y1="260.8" x2="518.3" y2="260.8" stroke="#000" stroke-width="1.35" stroke-dasharray="1.35 1.45"/>
<path d="M416.6 203.7 H445.5  M474 182 H502.9" fill="none" stroke="#7a7a7a" stroke-width="1.4"/>
<path d="M430.2 203.7 V177.2 H489.6 V182 " fill="none" stroke="#333" stroke-width="1.05"/>
<text x="459.8" y="175.1" font-size="10" text-anchor="middle" font-weight="normal" fill="#2a2a2a" font-style="italic" letter-spacing="0.3">##</text>
<path d="M567.4 169.4 V296.0 H685.4" fill="none" stroke="#151515" stroke-width="1.3"/>
<line x1="567.4" y1="188.7" x2="569.4" y2="188.7" stroke="#151515" stroke-width="1"/>
<line x1="567.4" y1="212.7" x2="569.4" y2="212.7" stroke="#151515" stroke-width="1"/>
<line x1="567.4" y1="236.8" x2="569.4" y2="236.8" stroke="#151515" stroke-width="1"/>
<line x1="567.4" y1="260.8" x2="569.4" y2="260.8" stroke="#151515" stroke-width="1"/>
<line x1="567.4" y1="284.8" x2="569.4" y2="284.8" stroke="#151515" stroke-width="1"/>
<text x="562.8" y="218.7" font-size="10" text-anchor="end" font-weight="normal" fill="#222" stroke="#222" stroke-width="0.18">0.3</text>
<text x="562.8" y="266.5" font-size="10" text-anchor="end" font-weight="normal" fill="#222" stroke="#222" stroke-width="0.18">0</text>
<text x="0" y="0" font-size="10" text-anchor="middle" fill="#222" stroke="#222" stroke-width="0.18" transform="translate(542.4 232.5) rotate(-90)">Discrimination Index</text>
<line x1="582.1" y1="296.0" x2="582.1" y2="294.0" stroke="#151515" stroke-width="1"/>
<text x="581.7" y="310.8" font-size="10" text-anchor="middle" font-weight="normal" fill="#222" stroke="#222" stroke-width="0.18">TT</text>
<line x1="611.2" y1="296.0" x2="611.2" y2="294.0" stroke="#151515" stroke-width="1"/>
<text x="610.8" y="310.8" font-size="10" text-anchor="middle" font-weight="normal" fill="#222" stroke="#222" stroke-width="0.18">VV</text>
<line x1="640.4" y1="296.0" x2="640.4" y2="294.0" stroke="#151515" stroke-width="1"/>
<text x="640.0" y="310.8" font-size="10" text-anchor="middle" font-weight="normal" fill="#222" stroke="#222" stroke-width="0.18">TV</text>
<line x1="669.6" y1="296.0" x2="669.6" y2="294.0" stroke="#151515" stroke-width="1"/>
<text x="669.2" y="310.8" font-size="10" text-anchor="middle" font-weight="normal" fill="#222" stroke="#222" stroke-width="0.18">VT</text>
<text x="624.9" y="144.9" font-size="10" text-anchor="middle" font-weight="normal" fill="#222" stroke="#222" stroke-width="0.18">ANG</text>
<line x1="582.1" y1="227.5" x2="582.1" y2="281.9" stroke="#111" stroke-width="1.2"/>
<line x1="576.6" y1="227.5" x2="587.6" y2="227.5" stroke="#111" stroke-width="1.2"/>
<line x1="576.6" y1="281.9" x2="587.6" y2="281.9" stroke="#111" stroke-width="1.2"/>
<rect x="571.8" y="249.7" width="20.6" height="16.1" fill="#ffccff" stroke="#ff00ff" stroke-width="1.6"/>
<circle cx="580.3" cy="227.1" r="1.9" fill="#fff" fill-opacity="0.45" stroke="#ff00ff" stroke-width="1.1"/>
<circle cx="578.6" cy="236.1" r="1.9" fill="#fff" fill-opacity="0.45" stroke="#ff00ff" stroke-width="1.1"/>
<circle cx="585.0" cy="238.6" r="1.9" fill="#fff" fill-opacity="0.45" stroke="#ff00ff" stroke-width="1.1"/>
<circle cx="580.5" cy="244.4" r="1.9" fill="#fff" fill-opacity="0.45" stroke="#ff00ff" stroke-width="1.1"/>
<circle cx="578.6" cy="246.3" r="1.9" fill="#fff" fill-opacity="0.45" stroke="#ff00ff" stroke-width="1.1"/>
<circle cx="576.0" cy="247.6" r="1.9" fill="#fff" fill-opacity="0.45" stroke="#ff00ff" stroke-width="1.1"/>
<circle cx="579.9" cy="249.5" r="1.9" fill="#fff" fill-opacity="0.45" stroke="#ff00ff" stroke-width="1.1"/>
<circle cx="581.8" cy="250.8" r="1.9" fill="#fff" fill-opacity="0.45" stroke="#ff00ff" stroke-width="1.1"/>
<circle cx="576.7" cy="254.0" r="1.9" fill="#fff" fill-opacity="0.45" stroke="#ff00ff" stroke-width="1.1"/>
<circle cx="581.1" cy="253.7" r="1.9" fill="#fff" fill-opacity="0.45" stroke="#ff00ff" stroke-width="1.1"/>
<circle cx="579.2" cy="255.5" r="1.9" fill="#fff" fill-opacity="0.45" stroke="#ff00ff" stroke-width="1.1"/>
<circle cx="578.0" cy="257.8" r="1.9" fill="#fff" fill-opacity="0.45" stroke="#ff00ff" stroke-width="1.1"/>
<circle cx="581.8" cy="258.4" r="1.9" fill="#fff" fill-opacity="0.45" stroke="#ff00ff" stroke-width="1.1"/>
<circle cx="583.7" cy="256.5" r="1.9" fill="#fff" fill-opacity="0.45" stroke="#ff00ff" stroke-width="1.1"/>
<circle cx="579.9" cy="261.0" r="1.9" fill="#fff" fill-opacity="0.45" stroke="#ff00ff" stroke-width="1.1"/>
<circle cx="583.1" cy="260.4" r="1.9" fill="#fff" fill-opacity="0.45" stroke="#ff00ff" stroke-width="1.1"/>
<circle cx="578.6" cy="263.6" r="1.9" fill="#fff" fill-opacity="0.45" stroke="#ff00ff" stroke-width="1.1"/>
<circle cx="581.8" cy="264.2" r="1.9" fill="#fff" fill-opacity="0.45" stroke="#ff00ff" stroke-width="1.1"/>
<circle cx="584.3" cy="265.5" r="1.9" fill="#fff" fill-opacity="0.45" stroke="#ff00ff" stroke-width="1.1"/>
<circle cx="579.2" cy="270.0" r="1.9" fill="#fff" fill-opacity="0.45" stroke="#ff00ff" stroke-width="1.1"/>
<circle cx="581.8" cy="273.8" r="1.9" fill="#fff" fill-opacity="0.45" stroke="#ff00ff" stroke-width="1.1"/>
<circle cx="586.9" cy="272.5" r="1.9" fill="#fff" fill-opacity="0.45" stroke="#ff00ff" stroke-width="1.1"/>
<circle cx="587.5" cy="274.2" r="1.9" fill="#fff" fill-opacity="0.45" stroke="#ff00ff" stroke-width="1.1"/>
<circle cx="579.0" cy="282.7" r="1.9" fill="#fff" fill-opacity="0.45" stroke="#ff00ff" stroke-width="1.1"/>
<circle cx="585.0" cy="281.5" r="1.9" fill="#fff" fill-opacity="0.45" stroke="#ff00ff" stroke-width="1.1"/>
<line x1="572.5" y1="256.8" x2="591.7" y2="256.8" stroke="#2a2a2a" stroke-width="1.4"/>
<line x1="611.2" y1="238.5" x2="611.2" y2="280.3" stroke="#111" stroke-width="1.2"/>
<line x1="605.7" y1="238.5" x2="616.7" y2="238.5" stroke="#111" stroke-width="1.2"/>
<line x1="605.7" y1="280.3" x2="616.7" y2="280.3" stroke="#111" stroke-width="1.2"/>
<rect x="600.9" y="250.0" width="20.6" height="17.1" fill="#ffebcc" stroke="#ff9900" stroke-width="1.6"/>
<circle cx="606.2" cy="237.8" r="1.9" fill="#fff" fill-opacity="0.45" stroke="#ff9900" stroke-width="1.1"/>
<circle cx="613.7" cy="238.4" r="1.9" fill="#fff" fill-opacity="0.45" stroke="#ff9900" stroke-width="1.1"/>
<circle cx="613.1" cy="241.5" r="1.9" fill="#fff" fill-opacity="0.45" stroke="#ff9900" stroke-width="1.1"/>
<circle cx="615.0" cy="245.9" r="1.9" fill="#fff" fill-opacity="0.45" stroke="#ff9900" stroke-width="1.1"/>
<circle cx="606.2" cy="248.4" r="1.9" fill="#fff" fill-opacity="0.45" stroke="#ff9900" stroke-width="1.1"/>
<circle cx="606.8" cy="251.0" r="1.9" fill="#fff" fill-opacity="0.45" stroke="#ff9900" stroke-width="1.1"/>
<circle cx="610.6" cy="252.8" r="1.9" fill="#fff" fill-opacity="0.45" stroke="#ff9900" stroke-width="1.1"/>
<circle cx="613.7" cy="255.4" r="1.9" fill="#fff" fill-opacity="0.45" stroke="#ff9900" stroke-width="1.1"/>
<circle cx="607.4" cy="257.2" r="1.9" fill="#fff" fill-opacity="0.45" stroke="#ff9900" stroke-width="1.1"/>
<circle cx="605.5" cy="259.1" r="1.9" fill="#fff" fill-opacity="0.45" stroke="#ff9900" stroke-width="1.1"/>
<circle cx="608.7" cy="260.4" r="1.9" fill="#fff" fill-opacity="0.45" stroke="#ff9900" stroke-width="1.1"/>
<circle cx="611.8" cy="261.0" r="1.9" fill="#fff" fill-opacity="0.45" stroke="#ff9900" stroke-width="1.1"/>
<circle cx="615.6" cy="260.4" r="1.9" fill="#fff" fill-opacity="0.45" stroke="#ff9900" stroke-width="1.1"/>
<circle cx="618.1" cy="260.4" r="1.9" fill="#fff" fill-opacity="0.45" stroke="#ff9900" stroke-width="1.1"/>
<circle cx="607.4" cy="262.3" r="1.9" fill="#fff" fill-opacity="0.45" stroke="#ff9900" stroke-width="1.1"/>
<circle cx="610.6" cy="263.1" r="1.9" fill="#fff" fill-opacity="0.45" stroke="#ff9900" stroke-width="1.1"/>
<circle cx="613.1" cy="262.3" r="1.9" fill="#fff" fill-opacity="0.45" stroke="#ff9900" stroke-width="1.1"/>
<circle cx="616.8" cy="266.7" r="1.9" fill="#fff" fill-opacity="0.45" stroke="#ff9900" stroke-width="1.1"/>
<circle cx="613.1" cy="270.4" r="1.9" fill="#fff" fill-opacity="0.45" stroke="#ff9900" stroke-width="1.1"/>
<circle cx="616.8" cy="271.1" r="1.9" fill="#fff" fill-opacity="0.45" stroke="#ff9900" stroke-width="1.1"/>
<circle cx="606.8" cy="272.3" r="1.9" fill="#fff" fill-opacity="0.45" stroke="#ff9900" stroke-width="1.1"/>
<circle cx="614.3" cy="278.0" r="1.9" fill="#fff" fill-opacity="0.45" stroke="#ff9900" stroke-width="1.1"/>
<circle cx="613.7" cy="281.1" r="1.9" fill="#fff" fill-opacity="0.45" stroke="#ff9900" stroke-width="1.1"/>
<circle cx="616.8" cy="293.7" r="1.9" fill="#fff" fill-opacity="0.45" stroke="#ff9900" stroke-width="1.1"/>
<line x1="601.6" y1="262.0" x2="620.8" y2="262.0" stroke="#2a2a2a" stroke-width="1.4"/>
<line x1="640.4" y1="193.0" x2="640.4" y2="277.3" stroke="#111" stroke-width="1.2"/>
<line x1="634.9" y1="193.0" x2="645.9" y2="193.0" stroke="#111" stroke-width="1.2"/>
<line x1="634.9" y1="277.3" x2="645.9" y2="277.3" stroke="#111" stroke-width="1.2"/>
<rect x="630.1" y="226.2" width="20.6" height="26.8" fill="#cce0ff" stroke="#0066ff" stroke-width="1.6"/>
<circle cx="643.2" cy="192.6" r="1.9" fill="#fff" fill-opacity="0.45" stroke="#0066ff" stroke-width="1.1"/>
<circle cx="644.5" cy="201.8" r="1.9" fill="#fff" fill-opacity="0.45" stroke="#0066ff" stroke-width="1.1"/>
<circle cx="641.7" cy="208.6" r="1.9" fill="#fff" fill-opacity="0.45" stroke="#0066ff" stroke-width="1.1"/>
<circle cx="641.4" cy="219.3" r="1.9" fill="#fff" fill-opacity="0.45" stroke="#0066ff" stroke-width="1.1"/>
<circle cx="639.9" cy="223.9" r="1.9" fill="#fff" fill-opacity="0.45" stroke="#0066ff" stroke-width="1.1"/>
<circle cx="637.1" cy="225.8" r="1.9" fill="#fff" fill-opacity="0.45" stroke="#0066ff" stroke-width="1.1"/>
<circle cx="644.5" cy="226.7" r="1.9" fill="#fff" fill-opacity="0.45" stroke="#0066ff" stroke-width="1.1"/>
<circle cx="639.0" cy="228.5" r="1.9" fill="#fff" fill-opacity="0.45" stroke="#0066ff" stroke-width="1.1"/>
<circle cx="641.7" cy="228.1" r="1.9" fill="#fff" fill-opacity="0.45" stroke="#0066ff" stroke-width="1.1"/>
<circle cx="639.0" cy="234.0" r="1.9" fill="#fff" fill-opacity="0.45" stroke="#0066ff" stroke-width="1.1"/>
<circle cx="641.7" cy="236.3" r="1.9" fill="#fff" fill-opacity="0.45" stroke="#0066ff" stroke-width="1.1"/>
<circle cx="643.6" cy="237.7" r="1.9" fill="#fff" fill-opacity="0.45" stroke="#0066ff" stroke-width="1.1"/>
<circle cx="642.7" cy="240.5" r="1.9" fill="#fff" fill-opacity="0.45" stroke="#0066ff" stroke-width="1.1"/>
<circle cx="644.5" cy="242.3" r="1.9" fill="#fff" fill-opacity="0.45" stroke="#0066ff" stroke-width="1.1"/>
<circle cx="640.8" cy="246.0" r="1.9" fill="#fff" fill-opacity="0.45" stroke="#0066ff" stroke-width="1.1"/>
<circle cx="638.0" cy="247.3" r="1.9" fill="#fff" fill-opacity="0.45" stroke="#0066ff" stroke-width="1.1"/>
<circle cx="642.7" cy="247.9" r="1.9" fill="#fff" fill-opacity="0.45" stroke="#0066ff" stroke-width="1.1"/>
<circle cx="643.6" cy="248.8" r="1.9" fill="#fff" fill-opacity="0.45" stroke="#0066ff" stroke-width="1.1"/>
<circle cx="639.9" cy="250.6" r="1.9" fill="#fff" fill-opacity="0.45" stroke="#0066ff" stroke-width="1.1"/>
<circle cx="636.2" cy="251.5" r="1.9" fill="#fff" fill-opacity="0.45" stroke="#0066ff" stroke-width="1.1"/>
<circle cx="638.0" cy="253.4" r="1.9" fill="#fff" fill-opacity="0.45" stroke="#0066ff" stroke-width="1.1"/>
<circle cx="641.7" cy="254.3" r="1.9" fill="#fff" fill-opacity="0.45" stroke="#0066ff" stroke-width="1.1"/>
<circle cx="645.4" cy="254.7" r="1.9" fill="#fff" fill-opacity="0.45" stroke="#0066ff" stroke-width="1.1"/>
<circle cx="639.0" cy="255.2" r="1.9" fill="#fff" fill-opacity="0.45" stroke="#0066ff" stroke-width="1.1"/>
<circle cx="644.5" cy="270.9" r="1.9" fill="#fff" fill-opacity="0.45" stroke="#0066ff" stroke-width="1.1"/>
<circle cx="644.0" cy="273.1" r="1.9" fill="#fff" fill-opacity="0.45" stroke="#0066ff" stroke-width="1.1"/>
<circle cx="645.4" cy="276.8" r="1.9" fill="#fff" fill-opacity="0.45" stroke="#0066ff" stroke-width="1.1"/>
<line x1="630.8" y1="243.6" x2="650.0" y2="243.6" stroke="#2a2a2a" stroke-width="1.4"/>
<polygon points="637.40,174.35 637.96,176.33 640.02,176.25 638.30,177.39 639.02,179.32 637.40,178.05 635.78,179.32 636.50,177.39 634.78,176.25 636.84,176.33" fill="#222" stroke="#222" stroke-width="0.45" stroke-linejoin="round"/>
<polygon points="644.20,174.35 644.76,176.33 646.82,176.25 645.10,177.39 645.82,179.32 644.20,178.05 642.58,179.32 643.30,177.39 641.58,176.25 643.64,176.33" fill="#222" stroke="#222" stroke-width="0.45" stroke-linejoin="round"/>
<line x1="669.6" y1="224.4" x2="669.6" y2="274.7" stroke="#111" stroke-width="1.2"/>
<line x1="664.1" y1="224.4" x2="675.1" y2="224.4" stroke="#111" stroke-width="1.2"/>
<line x1="664.1" y1="274.7" x2="675.1" y2="274.7" stroke="#111" stroke-width="1.2"/>
<rect x="659.3" y="241.5" width="20.6" height="19.2" fill="#d6f5cc" stroke="#33cc00" stroke-width="1.6"/>
<circle cx="670.6" cy="224.7" r="1.9" fill="#fff" fill-opacity="0.45" stroke="#33cc00" stroke-width="1.1"/>
<circle cx="666.4" cy="237.2" r="1.9" fill="#fff" fill-opacity="0.45" stroke="#33cc00" stroke-width="1.1"/>
<circle cx="669.4" cy="238.1" r="1.9" fill="#fff" fill-opacity="0.45" stroke="#33cc00" stroke-width="1.1"/>
<circle cx="674.9" cy="236.9" r="1.9" fill="#fff" fill-opacity="0.45" stroke="#33cc00" stroke-width="1.1"/>
<circle cx="665.1" cy="239.9" r="1.9" fill="#fff" fill-opacity="0.45" stroke="#33cc00" stroke-width="1.1"/>
<circle cx="671.8" cy="239.3" r="1.9" fill="#fff" fill-opacity="0.45" stroke="#33cc00" stroke-width="1.1"/>
<circle cx="675.5" cy="240.5" r="1.9" fill="#fff" fill-opacity="0.45" stroke="#33cc00" stroke-width="1.1"/>
<circle cx="665.7" cy="243.6" r="1.9" fill="#fff" fill-opacity="0.45" stroke="#33cc00" stroke-width="1.1"/>
<circle cx="668.2" cy="243.0" r="1.9" fill="#fff" fill-opacity="0.45" stroke="#33cc00" stroke-width="1.1"/>
<circle cx="674.3" cy="242.4" r="1.9" fill="#fff" fill-opacity="0.45" stroke="#33cc00" stroke-width="1.1"/>
<circle cx="667.6" cy="247.2" r="1.9" fill="#fff" fill-opacity="0.45" stroke="#33cc00" stroke-width="1.1"/>
<circle cx="670.0" cy="248.5" r="1.9" fill="#fff" fill-opacity="0.45" stroke="#33cc00" stroke-width="1.1"/>
<circle cx="670.6" cy="250.3" r="1.9" fill="#fff" fill-opacity="0.45" stroke="#33cc00" stroke-width="1.1"/>
<circle cx="674.9" cy="251.5" r="1.9" fill="#fff" fill-opacity="0.45" stroke="#33cc00" stroke-width="1.1"/>
<circle cx="664.5" cy="253.9" r="1.9" fill="#fff" fill-opacity="0.45" stroke="#33cc00" stroke-width="1.1"/>
<circle cx="667.6" cy="254.5" r="1.9" fill="#fff" fill-opacity="0.45" stroke="#33cc00" stroke-width="1.1"/>
<circle cx="671.8" cy="253.9" r="1.9" fill="#fff" fill-opacity="0.45" stroke="#33cc00" stroke-width="1.1"/>
<circle cx="674.9" cy="253.3" r="1.9" fill="#fff" fill-opacity="0.45" stroke="#33cc00" stroke-width="1.1"/>
<circle cx="666.4" cy="256.4" r="1.9" fill="#fff" fill-opacity="0.45" stroke="#33cc00" stroke-width="1.1"/>
<circle cx="669.4" cy="256.4" r="1.9" fill="#fff" fill-opacity="0.45" stroke="#33cc00" stroke-width="1.1"/>
<circle cx="667.6" cy="263.1" r="1.9" fill="#fff" fill-opacity="0.45" stroke="#33cc00" stroke-width="1.1"/>
<circle cx="670.6" cy="264.9" r="1.9" fill="#fff" fill-opacity="0.45" stroke="#33cc00" stroke-width="1.1"/>
<circle cx="665.7" cy="271.0" r="1.9" fill="#fff" fill-opacity="0.45" stroke="#33cc00" stroke-width="1.1"/>
<circle cx="668.2" cy="269.8" r="1.9" fill="#fff" fill-opacity="0.45" stroke="#33cc00" stroke-width="1.1"/>
<circle cx="671.2" cy="271.6" r="1.9" fill="#fff" fill-opacity="0.45" stroke="#33cc00" stroke-width="1.1"/>
<circle cx="665.1" cy="274.6" r="1.9" fill="#fff" fill-opacity="0.45" stroke="#33cc00" stroke-width="1.1"/>
<circle cx="674.3" cy="274.6" r="1.9" fill="#fff" fill-opacity="0.45" stroke="#33cc00" stroke-width="1.1"/>
<circle cx="668.2" cy="275.5" r="1.9" fill="#fff" fill-opacity="0.45" stroke="#33cc00" stroke-width="1.1"/>
<line x1="660.0" y1="252.2" x2="679.2" y2="252.2" stroke="#2a2a2a" stroke-width="1.4"/>
<polygon points="666.60,206.25 667.16,208.23 669.22,208.15 667.50,209.29 668.22,211.22 666.60,209.95 664.98,211.22 665.70,209.29 663.98,208.15 666.04,208.23" fill="#222" stroke="#222" stroke-width="0.45" stroke-linejoin="round"/>
<polygon points="673.40,206.25 673.96,208.23 676.02,208.15 674.30,209.29 675.02,211.22 673.40,209.95 671.78,211.22 672.50,209.29 670.78,208.15 672.84,208.23" fill="#222" stroke="#222" stroke-width="0.45" stroke-linejoin="round"/>
<line x1="568.6" y1="260.8" x2="685.4" y2="260.8" stroke="#000" stroke-width="1.35" stroke-dasharray="1.35 1.45"/>
<path d="M582.9 189.2 H612.3  M640.2 168.1 H670" fill="none" stroke="#7a7a7a" stroke-width="1.4"/>
<path d="M596.9 189.2 V163.3 H656.2 V168.1 " fill="none" stroke="#333" stroke-width="1.05"/>
<text x="626.4" y="160.8" font-size="10" text-anchor="middle" font-weight="normal" fill="#2a2a2a" font-style="italic" letter-spacing="0.3">##</text>
<path d="M216.3 365.1 V491.7 H334.3" fill="none" stroke="#151515" stroke-width="1.3"/>
<line x1="216.3" y1="384.4" x2="218.3" y2="384.4" stroke="#151515" stroke-width="1"/>
<line x1="216.3" y1="408.4" x2="218.3" y2="408.4" stroke="#151515" stroke-width="1"/>
<line x1="216.3" y1="432.5" x2="218.3" y2="432.5" stroke="#151515" stroke-width="1"/>
<line x1="216.3" y1="456.5" x2="218.3" y2="456.5" stroke="#151515" stroke-width="1"/>
<line x1="216.3" y1="480.5" x2="218.3" y2="480.5" stroke="#151515" stroke-width="1"/>
<text x="211.7" y="414.4" font-size="10" text-anchor="end" font-weight="normal" fill="#222" stroke="#222" stroke-width="0.18">0.3</text>
<text x="211.7" y="462.2" font-size="10" text-anchor="end" font-weight="normal" fill="#222" stroke="#222" stroke-width="0.18">0</text>
<text x="0" y="0" font-size="10" text-anchor="middle" fill="#222" stroke="#222" stroke-width="0.18" transform="translate(191.3 428.2) rotate(-90)">Discrimination Index</text>
<line x1="231.0" y1="491.7" x2="231.0" y2="489.7" stroke="#151515" stroke-width="1"/>
<text x="230.6" y="506.5" font-size="10" text-anchor="middle" font-weight="normal" fill="#222" stroke="#222" stroke-width="0.18">TT</text>
<line x1="260.1" y1="491.7" x2="260.1" y2="489.7" stroke="#151515" stroke-width="1"/>
<text x="259.7" y="506.5" font-size="10" text-anchor="middle" font-weight="normal" fill="#222" stroke="#222" stroke-width="0.18">VV</text>
<line x1="289.3" y1="491.7" x2="289.3" y2="489.7" stroke="#151515" stroke-width="1"/>
<text x="288.9" y="506.5" font-size="10" text-anchor="middle" font-weight="normal" fill="#222" stroke="#222" stroke-width="0.18">TV</text>
<line x1="318.5" y1="491.7" x2="318.5" y2="489.7" stroke="#151515" stroke-width="1"/>
<text x="318.1" y="506.5" font-size="10" text-anchor="middle" font-weight="normal" fill="#222" stroke="#222" stroke-width="0.18">VT</text>
<text x="276.1" y="350.4" font-size="10" text-anchor="middle" font-weight="normal" fill="#222" stroke="#222" stroke-width="0.18">S1</text>
<line x1="231.0" y1="432.0" x2="231.0" y2="471.5" stroke="#111" stroke-width="1.2"/>
<line x1="225.5" y1="432.0" x2="236.5" y2="432.0" stroke="#111" stroke-width="1.2"/>
<line x1="225.5" y1="471.5" x2="236.5" y2="471.5" stroke="#111" stroke-width="1.2"/>
<rect x="220.7" y="445.1" width="20.6" height="14.4" fill="#ffccff" stroke="#ff00ff" stroke-width="1.6"/>
<circle cx="233.2" cy="431.4" r="1.9" fill="#fff" fill-opacity="0.45" stroke="#ff00ff" stroke-width="1.1"/>
<circle cx="236.7" cy="435.8" r="1.9" fill="#fff" fill-opacity="0.45" stroke="#ff00ff" stroke-width="1.1"/>
<circle cx="229.8" cy="437.8" r="1.9" fill="#fff" fill-opacity="0.45" stroke="#ff00ff" stroke-width="1.1"/>
<circle cx="233.7" cy="439.8" r="1.9" fill="#fff" fill-opacity="0.45" stroke="#ff00ff" stroke-width="1.1"/>
<circle cx="228.3" cy="441.2" r="1.9" fill="#fff" fill-opacity="0.45" stroke="#ff00ff" stroke-width="1.1"/>
<circle cx="231.3" cy="441.7" r="1.9" fill="#fff" fill-opacity="0.45" stroke="#ff00ff" stroke-width="1.1"/>
<circle cx="225.9" cy="445.2" r="1.9" fill="#fff" fill-opacity="0.45" stroke="#ff00ff" stroke-width="1.1"/>
<circle cx="229.3" cy="444.7" r="1.9" fill="#fff" fill-opacity="0.45" stroke="#ff00ff" stroke-width="1.1"/>
<circle cx="232.7" cy="445.2" r="1.9" fill="#fff" fill-opacity="0.45" stroke="#ff00ff" stroke-width="1.1"/>
<circle cx="224.4" cy="447.1" r="1.9" fill="#fff" fill-opacity="0.45" stroke="#ff00ff" stroke-width="1.1"/>
<circle cx="227.3" cy="447.1" r="1.9" fill="#fff" fill-opacity="0.45" stroke="#ff00ff" stroke-width="1.1"/>
<circle cx="230.8" cy="447.1" r="1.9" fill="#fff" fill-opacity="0.45" stroke="#ff00ff" stroke-width="1.1"/>
<circle cx="234.7" cy="447.1" r="1.9" fill="#fff" fill-opacity="0.45" stroke="#ff00ff" stroke-width="1.1"/>
<circle cx="227.3" cy="450.6" r="1.9" fill="#fff" fill-opacity="0.45" stroke="#ff00ff" stroke-width="1.1"/>
<circle cx="231.8" cy="450.1" r="1.9" fill="#fff" fill-opacity="0.45" stroke="#ff00ff" stroke-width="1.1"/>
<circle cx="234.2" cy="450.6" r="1.9" fill="#fff" fill-opacity="0.45" stroke="#ff00ff" stroke-width="1.1"/>
<circle cx="229.8" cy="452.0" r="1.9" fill="#fff" fill-opacity="0.45" stroke="#ff00ff" stroke-width="1.1"/>
<circle cx="232.7" cy="452.5" r="1.9" fill="#fff" fill-opacity="0.45" stroke="#ff00ff" stroke-width="1.1"/>
<circle cx="227.8" cy="459.9" r="1.9" fill="#fff" fill-opacity="0.45" stroke="#ff00ff" stroke-width="1.1"/>
<circle cx="230.3" cy="459.4" r="1.9" fill="#fff" fill-opacity="0.45" stroke="#ff00ff" stroke-width="1.1"/>
<circle cx="232.7" cy="459.9" r="1.9" fill="#fff" fill-opacity="0.45" stroke="#ff00ff" stroke-width="1.1"/>
<circle cx="234.7" cy="460.4" r="1.9" fill="#fff" fill-opacity="0.45" stroke="#ff00ff" stroke-width="1.1"/>
<circle cx="226.8" cy="461.4" r="1.9" fill="#fff" fill-opacity="0.45" stroke="#ff00ff" stroke-width="1.1"/>
<circle cx="233.2" cy="462.3" r="1.9" fill="#fff" fill-opacity="0.45" stroke="#ff00ff" stroke-width="1.1"/>
<circle cx="226.3" cy="471.2" r="1.9" fill="#fff" fill-opacity="0.45" stroke="#ff00ff" stroke-width="1.1"/>
<line x1="221.4" y1="449.4" x2="240.6" y2="449.4" stroke="#2a2a2a" stroke-width="1.4"/>
<polygon points="228.00,413.25 228.56,415.23 230.62,415.15 228.90,416.29 229.62,418.22 228.00,416.95 226.38,418.22 227.10,416.29 225.38,415.15 227.44,415.23" fill="#222" stroke="#222" stroke-width="0.45" stroke-linejoin="round"/>
<polygon points="234.80,413.25 235.36,415.23 237.42,415.15 235.70,416.29 236.42,418.22 234.80,416.95 233.18,418.22 233.90,416.29 232.18,415.15 234.24,415.23" fill="#222" stroke="#222" stroke-width="0.45" stroke-linejoin="round"/>
<line x1="260.1" y1="434.7" x2="260.1" y2="476.7" stroke="#111" stroke-width="1.2"/>
<line x1="254.6" y1="434.7" x2="265.6" y2="434.7" stroke="#111" stroke-width="1.2"/>
<line x1="254.6" y1="476.7" x2="265.6" y2="476.7" stroke="#111" stroke-width="1.2"/>
<rect x="249.8" y="447.3" width="20.6" height="12.9" fill="#ffebcc" stroke="#ff9900" stroke-width="1.6"/>
<circle cx="263.1" cy="434.5" r="1.9" fill="#fff" fill-opacity="0.45" stroke="#ff9900" stroke-width="1.1"/>
<circle cx="264.7" cy="437.9" r="1.9" fill="#fff" fill-opacity="0.45" stroke="#ff9900" stroke-width="1.1"/>
<circle cx="257.4" cy="440.0" r="1.9" fill="#fff" fill-opacity="0.45" stroke="#ff9900" stroke-width="1.1"/>
<circle cx="255.3" cy="442.0" r="1.9" fill="#fff" fill-opacity="0.45" stroke="#ff9900" stroke-width="1.1"/>
<circle cx="254.3" cy="443.6" r="1.9" fill="#fff" fill-opacity="0.45" stroke="#ff9900" stroke-width="1.1"/>
<circle cx="260.0" cy="445.2" r="1.9" fill="#fff" fill-opacity="0.45" stroke="#ff9900" stroke-width="1.1"/>
<circle cx="263.1" cy="445.7" r="1.9" fill="#fff" fill-opacity="0.45" stroke="#ff9900" stroke-width="1.1"/>
<circle cx="255.3" cy="449.0" r="1.9" fill="#fff" fill-opacity="0.45" stroke="#ff9900" stroke-width="1.1"/>
<circle cx="258.4" cy="449.0" r="1.9" fill="#fff" fill-opacity="0.45" stroke="#ff9900" stroke-width="1.1"/>
<circle cx="262.6" cy="449.0" r="1.9" fill="#fff" fill-opacity="0.45" stroke="#ff9900" stroke-width="1.1"/>
<circle cx="265.7" cy="449.0" r="1.9" fill="#fff" fill-opacity="0.45" stroke="#ff9900" stroke-width="1.1"/>
<circle cx="256.9" cy="452.5" r="1.9" fill="#fff" fill-opacity="0.45" stroke="#ff9900" stroke-width="1.1"/>
<circle cx="260.5" cy="453.0" r="1.9" fill="#fff" fill-opacity="0.45" stroke="#ff9900" stroke-width="1.1"/>
<circle cx="264.2" cy="452.8" r="1.9" fill="#fff" fill-opacity="0.45" stroke="#ff9900" stroke-width="1.1"/>
<circle cx="254.3" cy="455.2" r="1.9" fill="#fff" fill-opacity="0.45" stroke="#ff9900" stroke-width="1.1"/>
<circle cx="258.4" cy="455.2" r="1.9" fill="#fff" fill-opacity="0.45" stroke="#ff9900" stroke-width="1.1"/>
<circle cx="262.6" cy="455.2" r="1.9" fill="#fff" fill-opacity="0.45" stroke="#ff9900" stroke-width="1.1"/>
<circle cx="266.8" cy="455.2" r="1.9" fill="#fff" fill-opacity="0.45" stroke="#ff9900" stroke-width="1.1"/>
<circle cx="257.4" cy="459.2" r="1.9" fill="#fff" fill-opacity="0.45" stroke="#ff9900" stroke-width="1.1"/>
<circle cx="260.5" cy="459.7" r="1.9" fill="#fff" fill-opacity="0.45" stroke="#ff9900" stroke-width="1.1"/>
<circle cx="258.4" cy="461.3" r="1.9" fill="#fff" fill-opacity="0.45" stroke="#ff9900" stroke-width="1.1"/>
<circle cx="261.6" cy="461.8" r="1.9" fill="#fff" fill-opacity="0.45" stroke="#ff9900" stroke-width="1.1"/>
<circle cx="263.1" cy="467.0" r="1.9" fill="#fff" fill-opacity="0.45" stroke="#ff9900" stroke-width="1.1"/>
<circle cx="262.6" cy="469.1" r="1.9" fill="#fff" fill-opacity="0.45" stroke="#ff9900" stroke-width="1.1"/>
<circle cx="263.1" cy="471.2" r="1.9" fill="#fff" fill-opacity="0.45" stroke="#ff9900" stroke-width="1.1"/>
<circle cx="255.8" cy="476.4" r="1.9" fill="#fff" fill-opacity="0.45" stroke="#ff9900" stroke-width="1.1"/>
<line x1="250.5" y1="453.4" x2="269.7" y2="453.4" stroke="#2a2a2a" stroke-width="1.4"/>
<line x1="289.3" y1="426.3" x2="289.3" y2="468.8" stroke="#111" stroke-width="1.2"/>
<line x1="283.8" y1="426.3" x2="294.8" y2="426.3" stroke="#111" stroke-width="1.2"/>
<line x1="283.8" y1="468.8" x2="294.8" y2="468.8" stroke="#111" stroke-width="1.2"/>
<rect x="279.0" y="441.5" width="20.6" height="12.6" fill="#cce0ff" stroke="#0066ff" stroke-width="1.6"/>
<circle cx="287.5" cy="425.8" r="1.9" fill="#fff" fill-opacity="0.45" stroke="#0066ff" stroke-width="1.1"/>
<circle cx="285.5" cy="433.8" r="1.9" fill="#fff" fill-opacity="0.45" stroke="#0066ff" stroke-width="1.1"/>
<circle cx="290.8" cy="436.4" r="1.9" fill="#fff" fill-opacity="0.45" stroke="#0066ff" stroke-width="1.1"/>
<circle cx="284.0" cy="439.1" r="1.9" fill="#fff" fill-opacity="0.45" stroke="#0066ff" stroke-width="1.1"/>
<circle cx="286.6" cy="439.6" r="1.9" fill="#fff" fill-opacity="0.45" stroke="#0066ff" stroke-width="1.1"/>
<circle cx="293.0" cy="439.6" r="1.9" fill="#fff" fill-opacity="0.45" stroke="#0066ff" stroke-width="1.1"/>
<circle cx="295.1" cy="440.1" r="1.9" fill="#fff" fill-opacity="0.45" stroke="#0066ff" stroke-width="1.1"/>
<circle cx="282.4" cy="444.0" r="1.9" fill="#fff" fill-opacity="0.45" stroke="#0066ff" stroke-width="1.1"/>
<circle cx="285.5" cy="444.0" r="1.9" fill="#fff" fill-opacity="0.45" stroke="#0066ff" stroke-width="1.1"/>
<circle cx="288.7" cy="444.0" r="1.9" fill="#fff" fill-opacity="0.45" stroke="#0066ff" stroke-width="1.1"/>
<circle cx="291.9" cy="444.0" r="1.9" fill="#fff" fill-opacity="0.45" stroke="#0066ff" stroke-width="1.1"/>
<circle cx="295.1" cy="444.0" r="1.9" fill="#fff" fill-opacity="0.45" stroke="#0066ff" stroke-width="1.1"/>
<circle cx="284.5" cy="448.4" r="1.9" fill="#fff" fill-opacity="0.45" stroke="#0066ff" stroke-width="1.1"/>
<circle cx="287.7" cy="448.4" r="1.9" fill="#fff" fill-opacity="0.45" stroke="#0066ff" stroke-width="1.1"/>
<circle cx="290.8" cy="448.4" r="1.9" fill="#fff" fill-opacity="0.45" stroke="#0066ff" stroke-width="1.1"/>
<circle cx="294.0" cy="448.4" r="1.9" fill="#fff" fill-opacity="0.45" stroke="#0066ff" stroke-width="1.1"/>
<circle cx="286.1" cy="451.3" r="1.9" fill="#fff" fill-opacity="0.45" stroke="#0066ff" stroke-width="1.1"/>
<circle cx="289.3" cy="451.8" r="1.9" fill="#fff" fill-opacity="0.45" stroke="#0066ff" stroke-width="1.1"/>
<circle cx="293.0" cy="451.6" r="1.9" fill="#fff" fill-opacity="0.45" stroke="#0066ff" stroke-width="1.1"/>
<circle cx="285.0" cy="458.7" r="1.9" fill="#fff" fill-opacity="0.45" stroke="#0066ff" stroke-width="1.1"/>
<circle cx="288.2" cy="457.1" r="1.9" fill="#fff" fill-opacity="0.45" stroke="#0066ff" stroke-width="1.1"/>
<circle cx="294.0" cy="459.0" r="1.9" fill="#fff" fill-opacity="0.45" stroke="#0066ff" stroke-width="1.1"/>
<circle cx="286.1" cy="468.8" r="1.9" fill="#fff" fill-opacity="0.45" stroke="#0066ff" stroke-width="1.1"/>
<circle cx="288.2" cy="468.3" r="1.9" fill="#fff" fill-opacity="0.45" stroke="#0066ff" stroke-width="1.1"/>
<line x1="279.7" y1="447.3" x2="298.9" y2="447.3" stroke="#2a2a2a" stroke-width="1.4"/>
<polygon points="286.30,407.65 286.86,409.63 288.92,409.55 287.20,410.69 287.92,412.62 286.30,411.35 284.68,412.62 285.40,410.69 283.68,409.55 285.74,409.63" fill="#222" stroke="#222" stroke-width="0.45" stroke-linejoin="round"/>
<polygon points="293.10,407.65 293.66,409.63 295.72,409.55 294.00,410.69 294.72,412.62 293.10,411.35 291.48,412.62 292.20,410.69 290.48,409.55 292.54,409.63" fill="#222" stroke="#222" stroke-width="0.45" stroke-linejoin="round"/>
<line x1="318.5" y1="434.2" x2="318.5" y2="468.1" stroke="#111" stroke-width="1.2"/>
<line x1="313.0" y1="434.2" x2="324.0" y2="434.2" stroke="#111" stroke-width="1.2"/>
<line x1="313.0" y1="468.1" x2="324.0" y2="468.1" stroke="#111" stroke-width="1.2"/>
<rect x="308.2" y="447.3" width="20.6" height="13.6" fill="#d6f5cc" stroke="#33cc00" stroke-width="1.6"/>
<circle cx="315.8" cy="434.5" r="1.9" fill="#fff" fill-opacity="0.45" stroke="#33cc00" stroke-width="1.1"/>
<circle cx="322.3" cy="434.5" r="1.9" fill="#fff" fill-opacity="0.45" stroke="#33cc00" stroke-width="1.1"/>
<circle cx="314.9" cy="440.1" r="1.9" fill="#fff" fill-opacity="0.45" stroke="#33cc00" stroke-width="1.1"/>
<circle cx="318.0" cy="442.7" r="1.9" fill="#fff" fill-opacity="0.45" stroke="#33cc00" stroke-width="1.1"/>
<circle cx="321.0" cy="444.9" r="1.9" fill="#fff" fill-opacity="0.45" stroke="#33cc00" stroke-width="1.1"/>
<circle cx="324.9" cy="446.6" r="1.9" fill="#fff" fill-opacity="0.45" stroke="#33cc00" stroke-width="1.1"/>
<circle cx="318.0" cy="449.2" r="1.9" fill="#fff" fill-opacity="0.45" stroke="#33cc00" stroke-width="1.1"/>
<circle cx="322.3" cy="448.7" r="1.9" fill="#fff" fill-opacity="0.45" stroke="#33cc00" stroke-width="1.1"/>
<circle cx="314.1" cy="452.7" r="1.9" fill="#fff" fill-opacity="0.45" stroke="#33cc00" stroke-width="1.1"/>
<circle cx="317.1" cy="452.7" r="1.9" fill="#fff" fill-opacity="0.45" stroke="#33cc00" stroke-width="1.1"/>
<circle cx="320.6" cy="452.7" r="1.9" fill="#fff" fill-opacity="0.45" stroke="#33cc00" stroke-width="1.1"/>
<circle cx="323.6" cy="452.7" r="1.9" fill="#fff" fill-opacity="0.45" stroke="#33cc00" stroke-width="1.1"/>
<circle cx="312.8" cy="455.9" r="1.9" fill="#fff" fill-opacity="0.45" stroke="#33cc00" stroke-width="1.1"/>
<circle cx="315.8" cy="455.9" r="1.9" fill="#fff" fill-opacity="0.45" stroke="#33cc00" stroke-width="1.1"/>
<circle cx="318.8" cy="455.9" r="1.9" fill="#fff" fill-opacity="0.45" stroke="#33cc00" stroke-width="1.1"/>
<circle cx="322.3" cy="455.9" r="1.9" fill="#fff" fill-opacity="0.45" stroke="#33cc00" stroke-width="1.1"/>
<circle cx="325.7" cy="455.9" r="1.9" fill="#fff" fill-opacity="0.45" stroke="#33cc00" stroke-width="1.1"/>
<circle cx="317.1" cy="458.7" r="1.9" fill="#fff" fill-opacity="0.45" stroke="#33cc00" stroke-width="1.1"/>
<circle cx="320.1" cy="458.3" r="1.9" fill="#fff" fill-opacity="0.45" stroke="#33cc00" stroke-width="1.1"/>
<circle cx="323.6" cy="458.9" r="1.9" fill="#fff" fill-opacity="0.45" stroke="#33cc00" stroke-width="1.1"/>
<circle cx="318.8" cy="461.3" r="1.9" fill="#fff" fill-opacity="0.45" stroke="#33cc00" stroke-width="1.1"/>
<circle cx="323.6" cy="463.9" r="1.9" fill="#fff" fill-opacity="0.45" stroke="#33cc00" stroke-width="1.1"/>
<circle cx="313.6" cy="466.0" r="1.9" fill="#fff" fill-opacity="0.45" stroke="#33cc00" stroke-width="1.1"/>
<circle cx="312.8" cy="467.8" r="1.9" fill="#fff" fill-opacity="0.45" stroke="#33cc00" stroke-width="1.1"/>
<circle cx="316.7" cy="467.8" r="1.9" fill="#fff" fill-opacity="0.45" stroke="#33cc00" stroke-width="1.1"/>
<line x1="308.9" y1="456.4" x2="328.1" y2="456.4" stroke="#2a2a2a" stroke-width="1.4"/>
<line x1="217.5" y1="456.5" x2="334.3" y2="456.5" stroke="#000" stroke-width="1.35" stroke-dasharray="1.35 1.45"/>
<path d="M400.5 365.1 V491.7 H518.5" fill="none" stroke="#151515" stroke-width="1.3"/>
<line x1="400.5" y1="384.4" x2="402.5" y2="384.4" stroke="#151515" stroke-width="1"/>
<line x1="400.5" y1="408.4" x2="402.5" y2="408.4" stroke="#151515" stroke-width="1"/>
<line x1="400.5" y1="432.5" x2="402.5" y2="432.5" stroke="#151515" stroke-width="1"/>
<line x1="400.5" y1="456.5" x2="402.5" y2="456.5" stroke="#151515" stroke-width="1"/>
<line x1="400.5" y1="480.5" x2="402.5" y2="480.5" stroke="#151515" stroke-width="1"/>
<text x="395.9" y="414.4" font-size="10" text-anchor="end" font-weight="normal" fill="#222" stroke="#222" stroke-width="0.18">0.3</text>
<text x="395.9" y="462.2" font-size="10" text-anchor="end" font-weight="normal" fill="#222" stroke="#222" stroke-width="0.18">0</text>
<text x="0" y="0" font-size="10" text-anchor="middle" fill="#222" stroke="#222" stroke-width="0.18" transform="translate(375.5 428.2) rotate(-90)">Discrimination Index</text>
<line x1="415.2" y1="491.7" x2="415.2" y2="489.7" stroke="#151515" stroke-width="1"/>
<text x="414.8" y="506.5" font-size="10" text-anchor="middle" font-weight="normal" fill="#222" stroke="#222" stroke-width="0.18">TT</text>
<line x1="444.3" y1="491.7" x2="444.3" y2="489.7" stroke="#151515" stroke-width="1"/>
<text x="443.9" y="506.5" font-size="10" text-anchor="middle" font-weight="normal" fill="#222" stroke="#222" stroke-width="0.18">VV</text>
<line x1="473.5" y1="491.7" x2="473.5" y2="489.7" stroke="#151515" stroke-width="1"/>
<text x="473.1" y="506.5" font-size="10" text-anchor="middle" font-weight="normal" fill="#222" stroke="#222" stroke-width="0.18">TV</text>
<line x1="502.7" y1="491.7" x2="502.7" y2="489.7" stroke="#151515" stroke-width="1"/>
<text x="502.3" y="506.5" font-size="10" text-anchor="middle" font-weight="normal" fill="#222" stroke="#222" stroke-width="0.18">VT</text>
<text x="457.4" y="350.4" font-size="10" text-anchor="middle" font-weight="normal" fill="#222" stroke="#222" stroke-width="0.18">cEVC</text>
<line x1="415.2" y1="435.2" x2="415.2" y2="482.0" stroke="#111" stroke-width="1.2"/>
<line x1="409.7" y1="435.2" x2="420.7" y2="435.2" stroke="#111" stroke-width="1.2"/>
<line x1="409.7" y1="482.0" x2="420.7" y2="482.0" stroke="#111" stroke-width="1.2"/>
<rect x="404.9" y="448.0" width="20.6" height="19.2" fill="#ffccff" stroke="#ff00ff" stroke-width="1.6"/>
<circle cx="409.4" cy="434.3" r="1.9" fill="#fff" fill-opacity="0.45" stroke="#ff00ff" stroke-width="1.1"/>
<circle cx="411.7" cy="437.7" r="1.9" fill="#fff" fill-opacity="0.45" stroke="#ff00ff" stroke-width="1.1"/>
<circle cx="420.2" cy="439.4" r="1.9" fill="#fff" fill-opacity="0.45" stroke="#ff00ff" stroke-width="1.1"/>
<circle cx="409.4" cy="444.5" r="1.9" fill="#fff" fill-opacity="0.45" stroke="#ff00ff" stroke-width="1.1"/>
<circle cx="415.1" cy="443.9" r="1.9" fill="#fff" fill-opacity="0.45" stroke="#ff00ff" stroke-width="1.1"/>
<circle cx="413.4" cy="449.0" r="1.9" fill="#fff" fill-opacity="0.45" stroke="#ff00ff" stroke-width="1.1"/>
<circle cx="419.1" cy="450.2" r="1.9" fill="#fff" fill-opacity="0.45" stroke="#ff00ff" stroke-width="1.1"/>
<circle cx="410.5" cy="451.9" r="1.9" fill="#fff" fill-opacity="0.45" stroke="#ff00ff" stroke-width="1.1"/>
<circle cx="415.7" cy="451.9" r="1.9" fill="#fff" fill-opacity="0.45" stroke="#ff00ff" stroke-width="1.1"/>
<circle cx="410.0" cy="455.3" r="1.9" fill="#fff" fill-opacity="0.45" stroke="#ff00ff" stroke-width="1.1"/>
<circle cx="416.8" cy="455.1" r="1.9" fill="#fff" fill-opacity="0.45" stroke="#ff00ff" stroke-width="1.1"/>
<circle cx="420.8" cy="455.9" r="1.9" fill="#fff" fill-opacity="0.45" stroke="#ff00ff" stroke-width="1.1"/>
<circle cx="410.0" cy="458.1" r="1.9" fill="#fff" fill-opacity="0.45" stroke="#ff00ff" stroke-width="1.1"/>
<circle cx="417.9" cy="458.5" r="1.9" fill="#fff" fill-opacity="0.45" stroke="#ff00ff" stroke-width="1.1"/>
<circle cx="410.0" cy="464.4" r="1.9" fill="#fff" fill-opacity="0.45" stroke="#ff00ff" stroke-width="1.1"/>
<circle cx="415.7" cy="466.7" r="1.9" fill="#fff" fill-opacity="0.45" stroke="#ff00ff" stroke-width="1.1"/>
<circle cx="418.5" cy="466.1" r="1.9" fill="#fff" fill-opacity="0.45" stroke="#ff00ff" stroke-width="1.1"/>
<circle cx="420.8" cy="467.2" r="1.9" fill="#fff" fill-opacity="0.45" stroke="#ff00ff" stroke-width="1.1"/>
<circle cx="414.5" cy="472.4" r="1.9" fill="#fff" fill-opacity="0.45" stroke="#ff00ff" stroke-width="1.1"/>
<circle cx="413.9" cy="475.2" r="1.9" fill="#fff" fill-opacity="0.45" stroke="#ff00ff" stroke-width="1.1"/>
<circle cx="413.4" cy="478.1" r="1.9" fill="#fff" fill-opacity="0.45" stroke="#ff00ff" stroke-width="1.1"/>
<circle cx="415.1" cy="481.5" r="1.9" fill="#fff" fill-opacity="0.45" stroke="#ff00ff" stroke-width="1.1"/>
<circle cx="420.2" cy="480.6" r="1.9" fill="#fff" fill-opacity="0.45" stroke="#ff00ff" stroke-width="1.1"/>
<line x1="405.6" y1="455.7" x2="424.8" y2="455.7" stroke="#2a2a2a" stroke-width="1.4"/>
<line x1="444.3" y1="422.5" x2="444.3" y2="475.3" stroke="#111" stroke-width="1.2"/>
<line x1="438.8" y1="422.5" x2="449.8" y2="422.5" stroke="#111" stroke-width="1.2"/>
<line x1="438.8" y1="475.3" x2="449.8" y2="475.3" stroke="#111" stroke-width="1.2"/>
<rect x="434.0" y="441.6" width="20.6" height="14.8" fill="#ffebcc" stroke="#ff9900" stroke-width="1.6"/>
<circle cx="445.4" cy="422.3" r="1.9" fill="#fff" fill-opacity="0.45" stroke="#ff9900" stroke-width="1.1"/>
<circle cx="442.9" cy="426.3" r="1.9" fill="#fff" fill-opacity="0.45" stroke="#ff9900" stroke-width="1.1"/>
<circle cx="438.9" cy="433.6" r="1.9" fill="#fff" fill-opacity="0.45" stroke="#ff9900" stroke-width="1.1"/>
<circle cx="441.4" cy="434.4" r="1.9" fill="#fff" fill-opacity="0.45" stroke="#ff9900" stroke-width="1.1"/>
<circle cx="440.5" cy="436.9" r="1.9" fill="#fff" fill-opacity="0.45" stroke="#ff9900" stroke-width="1.1"/>
<circle cx="443.8" cy="435.7" r="1.9" fill="#fff" fill-opacity="0.45" stroke="#ff9900" stroke-width="1.1"/>
<circle cx="447.4" cy="440.5" r="1.9" fill="#fff" fill-opacity="0.45" stroke="#ff9900" stroke-width="1.1"/>
<circle cx="439.5" cy="444.2" r="1.9" fill="#fff" fill-opacity="0.45" stroke="#ff9900" stroke-width="1.1"/>
<circle cx="443.2" cy="443.6" r="1.9" fill="#fff" fill-opacity="0.45" stroke="#ff9900" stroke-width="1.1"/>
<circle cx="449.3" cy="443.6" r="1.9" fill="#fff" fill-opacity="0.45" stroke="#ff9900" stroke-width="1.1"/>
<circle cx="440.1" cy="446.6" r="1.9" fill="#fff" fill-opacity="0.45" stroke="#ff9900" stroke-width="1.1"/>
<circle cx="445.0" cy="446.3" r="1.9" fill="#fff" fill-opacity="0.45" stroke="#ff9900" stroke-width="1.1"/>
<circle cx="448.7" cy="446.6" r="1.9" fill="#fff" fill-opacity="0.45" stroke="#ff9900" stroke-width="1.1"/>
<circle cx="444.4" cy="449.7" r="1.9" fill="#fff" fill-opacity="0.45" stroke="#ff9900" stroke-width="1.1"/>
<circle cx="448.7" cy="449.7" r="1.9" fill="#fff" fill-opacity="0.45" stroke="#ff9900" stroke-width="1.1"/>
<circle cx="439.5" cy="452.7" r="1.9" fill="#fff" fill-opacity="0.45" stroke="#ff9900" stroke-width="1.1"/>
<circle cx="443.2" cy="453.6" r="1.9" fill="#fff" fill-opacity="0.45" stroke="#ff9900" stroke-width="1.1"/>
<circle cx="448.1" cy="453.1" r="1.9" fill="#fff" fill-opacity="0.45" stroke="#ff9900" stroke-width="1.1"/>
<circle cx="450.5" cy="452.7" r="1.9" fill="#fff" fill-opacity="0.45" stroke="#ff9900" stroke-width="1.1"/>
<circle cx="439.5" cy="460.0" r="1.9" fill="#fff" fill-opacity="0.45" stroke="#ff9900" stroke-width="1.1"/>
<circle cx="449.9" cy="461.2" r="1.9" fill="#fff" fill-opacity="0.45" stroke="#ff9900" stroke-width="1.1"/>
<circle cx="439.5" cy="463.7" r="1.9" fill="#fff" fill-opacity="0.45" stroke="#ff9900" stroke-width="1.1"/>
<circle cx="443.8" cy="466.7" r="1.9" fill="#fff" fill-opacity="0.45" stroke="#ff9900" stroke-width="1.1"/>
<circle cx="447.4" cy="471.6" r="1.9" fill="#fff" fill-opacity="0.45" stroke="#ff9900" stroke-width="1.1"/>
<circle cx="446.2" cy="475.2" r="1.9" fill="#fff" fill-opacity="0.45" stroke="#ff9900" stroke-width="1.1"/>
<line x1="434.7" y1="449.3" x2="453.9" y2="449.3" stroke="#2a2a2a" stroke-width="1.4"/>
<polygon points="441.30,403.75 441.86,405.73 443.92,405.65 442.20,406.79 442.92,408.72 441.30,407.45 439.68,408.72 440.40,406.79 438.68,405.65 440.74,405.73" fill="#222" stroke="#222" stroke-width="0.45" stroke-linejoin="round"/>
<polygon points="448.10,403.75 448.66,405.73 450.72,405.65 449.00,406.79 449.72,408.72 448.10,407.45 446.48,408.72 447.20,406.79 445.48,405.65 447.54,405.73" fill="#222" stroke="#222" stroke-width="0.45" stroke-linejoin="round"/>
<line x1="473.5" y1="408.4" x2="473.5" y2="477.9" stroke="#111" stroke-width="1.2"/>
<line x1="468.0" y1="408.4" x2="479.0" y2="408.4" stroke="#111" stroke-width="1.2"/>
<line x1="468.0" y1="477.9" x2="479.0" y2="477.9" stroke="#111" stroke-width="1.2"/>
<rect x="463.2" y="433.5" width="20.6" height="19.1" fill="#cce0ff" stroke="#0066ff" stroke-width="1.6"/>
<circle cx="478.7" cy="408.3" r="1.9" fill="#fff" fill-opacity="0.45" stroke="#0066ff" stroke-width="1.1"/>
<circle cx="470.7" cy="425.4" r="1.9" fill="#fff" fill-opacity="0.45" stroke="#0066ff" stroke-width="1.1"/>
<circle cx="475.3" cy="425.4" r="1.9" fill="#fff" fill-opacity="0.45" stroke="#0066ff" stroke-width="1.1"/>
<circle cx="479.1" cy="423.1" r="1.9" fill="#fff" fill-opacity="0.45" stroke="#0066ff" stroke-width="1.1"/>
<circle cx="469.9" cy="430.0" r="1.9" fill="#fff" fill-opacity="0.45" stroke="#0066ff" stroke-width="1.1"/>
<circle cx="475.3" cy="430.8" r="1.9" fill="#fff" fill-opacity="0.45" stroke="#0066ff" stroke-width="1.1"/>
<circle cx="474.5" cy="436.1" r="1.9" fill="#fff" fill-opacity="0.45" stroke="#0066ff" stroke-width="1.1"/>
<circle cx="477.6" cy="439.5" r="1.9" fill="#fff" fill-opacity="0.45" stroke="#0066ff" stroke-width="1.1"/>
<circle cx="479.1" cy="440.7" r="1.9" fill="#fff" fill-opacity="0.45" stroke="#0066ff" stroke-width="1.1"/>
<circle cx="469.2" cy="444.5" r="1.9" fill="#fff" fill-opacity="0.45" stroke="#0066ff" stroke-width="1.1"/>
<circle cx="472.2" cy="445.3" r="1.9" fill="#fff" fill-opacity="0.45" stroke="#0066ff" stroke-width="1.1"/>
<circle cx="474.5" cy="445.0" r="1.9" fill="#fff" fill-opacity="0.45" stroke="#0066ff" stroke-width="1.1"/>
<circle cx="471.5" cy="447.6" r="1.9" fill="#fff" fill-opacity="0.45" stroke="#0066ff" stroke-width="1.1"/>
<circle cx="476.8" cy="447.6" r="1.9" fill="#fff" fill-opacity="0.45" stroke="#0066ff" stroke-width="1.1"/>
<circle cx="479.1" cy="448.4" r="1.9" fill="#fff" fill-opacity="0.45" stroke="#0066ff" stroke-width="1.1"/>
<circle cx="473.8" cy="452.2" r="1.9" fill="#fff" fill-opacity="0.45" stroke="#0066ff" stroke-width="1.1"/>
<circle cx="475.3" cy="451.4" r="1.9" fill="#fff" fill-opacity="0.45" stroke="#0066ff" stroke-width="1.1"/>
<circle cx="479.1" cy="456.0" r="1.9" fill="#fff" fill-opacity="0.45" stroke="#0066ff" stroke-width="1.1"/>
<circle cx="474.5" cy="458.8" r="1.9" fill="#fff" fill-opacity="0.45" stroke="#0066ff" stroke-width="1.1"/>
<circle cx="468.9" cy="466.0" r="1.9" fill="#fff" fill-opacity="0.45" stroke="#0066ff" stroke-width="1.1"/>
<circle cx="475.3" cy="464.9" r="1.9" fill="#fff" fill-opacity="0.45" stroke="#0066ff" stroke-width="1.1"/>
<circle cx="477.6" cy="466.0" r="1.9" fill="#fff" fill-opacity="0.45" stroke="#0066ff" stroke-width="1.1"/>
<circle cx="470.7" cy="477.7" r="1.9" fill="#fff" fill-opacity="0.45" stroke="#0066ff" stroke-width="1.1"/>
<line x1="463.9" y1="445.5" x2="483.1" y2="445.5" stroke="#2a2a2a" stroke-width="1.4"/>
<polygon points="470.50,389.75 471.06,391.73 473.12,391.65 471.40,392.79 472.12,394.72 470.50,393.45 468.88,394.72 469.60,392.79 467.88,391.65 469.94,391.73" fill="#222" stroke="#222" stroke-width="0.45" stroke-linejoin="round"/>
<polygon points="477.30,389.75 477.86,391.73 479.92,391.65 478.20,392.79 478.92,394.72 477.30,393.45 475.68,394.72 476.40,392.79 474.68,391.65 476.74,391.73" fill="#222" stroke="#222" stroke-width="0.45" stroke-linejoin="round"/>
<line x1="502.7" y1="415.3" x2="502.7" y2="476.6" stroke="#111" stroke-width="1.2"/>
<line x1="497.2" y1="415.3" x2="508.2" y2="415.3" stroke="#111" stroke-width="1.2"/>
<line x1="497.2" y1="476.6" x2="508.2" y2="476.6" stroke="#111" stroke-width="1.2"/>
<rect x="492.4" y="439.8" width="20.6" height="20.2" fill="#d6f5cc" stroke="#33cc00" stroke-width="1.6"/>
<circle cx="506.7" cy="415.0" r="1.9" fill="#fff" fill-opacity="0.45" stroke="#33cc00" stroke-width="1.1"/>
<circle cx="505.3" cy="419.9" r="1.9" fill="#fff" fill-opacity="0.45" stroke="#33cc00" stroke-width="1.1"/>
<circle cx="508.8" cy="429.8" r="1.9" fill="#fff" fill-opacity="0.45" stroke="#33cc00" stroke-width="1.1"/>
<circle cx="502.4" cy="431.9" r="1.9" fill="#fff" fill-opacity="0.45" stroke="#33cc00" stroke-width="1.1"/>
<circle cx="506.0" cy="434.8" r="1.9" fill="#fff" fill-opacity="0.45" stroke="#33cc00" stroke-width="1.1"/>
<circle cx="501.0" cy="439.0" r="1.9" fill="#fff" fill-opacity="0.45" stroke="#33cc00" stroke-width="1.1"/>
<circle cx="507.4" cy="441.8" r="1.9" fill="#fff" fill-opacity="0.45" stroke="#33cc00" stroke-width="1.1"/>
<circle cx="501.0" cy="443.2" r="1.9" fill="#fff" fill-opacity="0.45" stroke="#33cc00" stroke-width="1.1"/>
<circle cx="502.4" cy="444.7" r="1.9" fill="#fff" fill-opacity="0.45" stroke="#33cc00" stroke-width="1.1"/>
<circle cx="499.6" cy="451.7" r="1.9" fill="#fff" fill-opacity="0.45" stroke="#33cc00" stroke-width="1.1"/>
<circle cx="503.9" cy="450.3" r="1.9" fill="#fff" fill-opacity="0.45" stroke="#33cc00" stroke-width="1.1"/>
<circle cx="506.0" cy="451.0" r="1.9" fill="#fff" fill-opacity="0.45" stroke="#33cc00" stroke-width="1.1"/>
<circle cx="508.8" cy="452.4" r="1.9" fill="#fff" fill-opacity="0.45" stroke="#33cc00" stroke-width="1.1"/>
<circle cx="498.2" cy="453.8" r="1.9" fill="#fff" fill-opacity="0.45" stroke="#33cc00" stroke-width="1.1"/>
<circle cx="507.4" cy="454.6" r="1.9" fill="#fff" fill-opacity="0.45" stroke="#33cc00" stroke-width="1.1"/>
<circle cx="499.6" cy="459.5" r="1.9" fill="#fff" fill-opacity="0.45" stroke="#33cc00" stroke-width="1.1"/>
<circle cx="503.1" cy="458.8" r="1.9" fill="#fff" fill-opacity="0.45" stroke="#33cc00" stroke-width="1.1"/>
<circle cx="506.0" cy="459.5" r="1.9" fill="#fff" fill-opacity="0.45" stroke="#33cc00" stroke-width="1.1"/>
<circle cx="507.4" cy="463.0" r="1.9" fill="#fff" fill-opacity="0.45" stroke="#33cc00" stroke-width="1.1"/>
<circle cx="503.1" cy="466.6" r="1.9" fill="#fff" fill-opacity="0.45" stroke="#33cc00" stroke-width="1.1"/>
<circle cx="506.7" cy="467.3" r="1.9" fill="#fff" fill-opacity="0.45" stroke="#33cc00" stroke-width="1.1"/>
<circle cx="505.3" cy="470.8" r="1.9" fill="#fff" fill-opacity="0.45" stroke="#33cc00" stroke-width="1.1"/>
<circle cx="501.7" cy="476.5" r="1.9" fill="#fff" fill-opacity="0.45" stroke="#33cc00" stroke-width="1.1"/>
<circle cx="508.8" cy="475.3" r="1.9" fill="#fff" fill-opacity="0.45" stroke="#33cc00" stroke-width="1.1"/>
<line x1="493.1" y1="452.4" x2="512.3" y2="452.4" stroke="#2a2a2a" stroke-width="1.4"/>
<polygon points="502.70,396.75 503.26,398.73 505.32,398.65 503.60,399.79 504.32,401.72 502.70,400.45 501.08,401.72 501.80,399.79 500.08,398.65 502.14,398.73" fill="#222" stroke="#222" stroke-width="0.45" stroke-linejoin="round"/>
<line x1="401.7" y1="456.5" x2="518.5" y2="456.5" stroke="#000" stroke-width="1.35" stroke-dasharray="1.35 1.45"/>
<path d="M416.6 390.5 H445.5  M474.1 379.8 H502.2" fill="none" stroke="#7a7a7a" stroke-width="1.4"/>
<path d="M430.2 390.5 V375.6 H489.6 V379.8 " fill="none" stroke="#333" stroke-width="1.05"/>
<text x="459.8" y="372.7" font-size="10" text-anchor="middle" font-weight="normal" fill="#2a2a2a" font-style="italic" letter-spacing="0.3">#</text>
</svg>
</body></html>
